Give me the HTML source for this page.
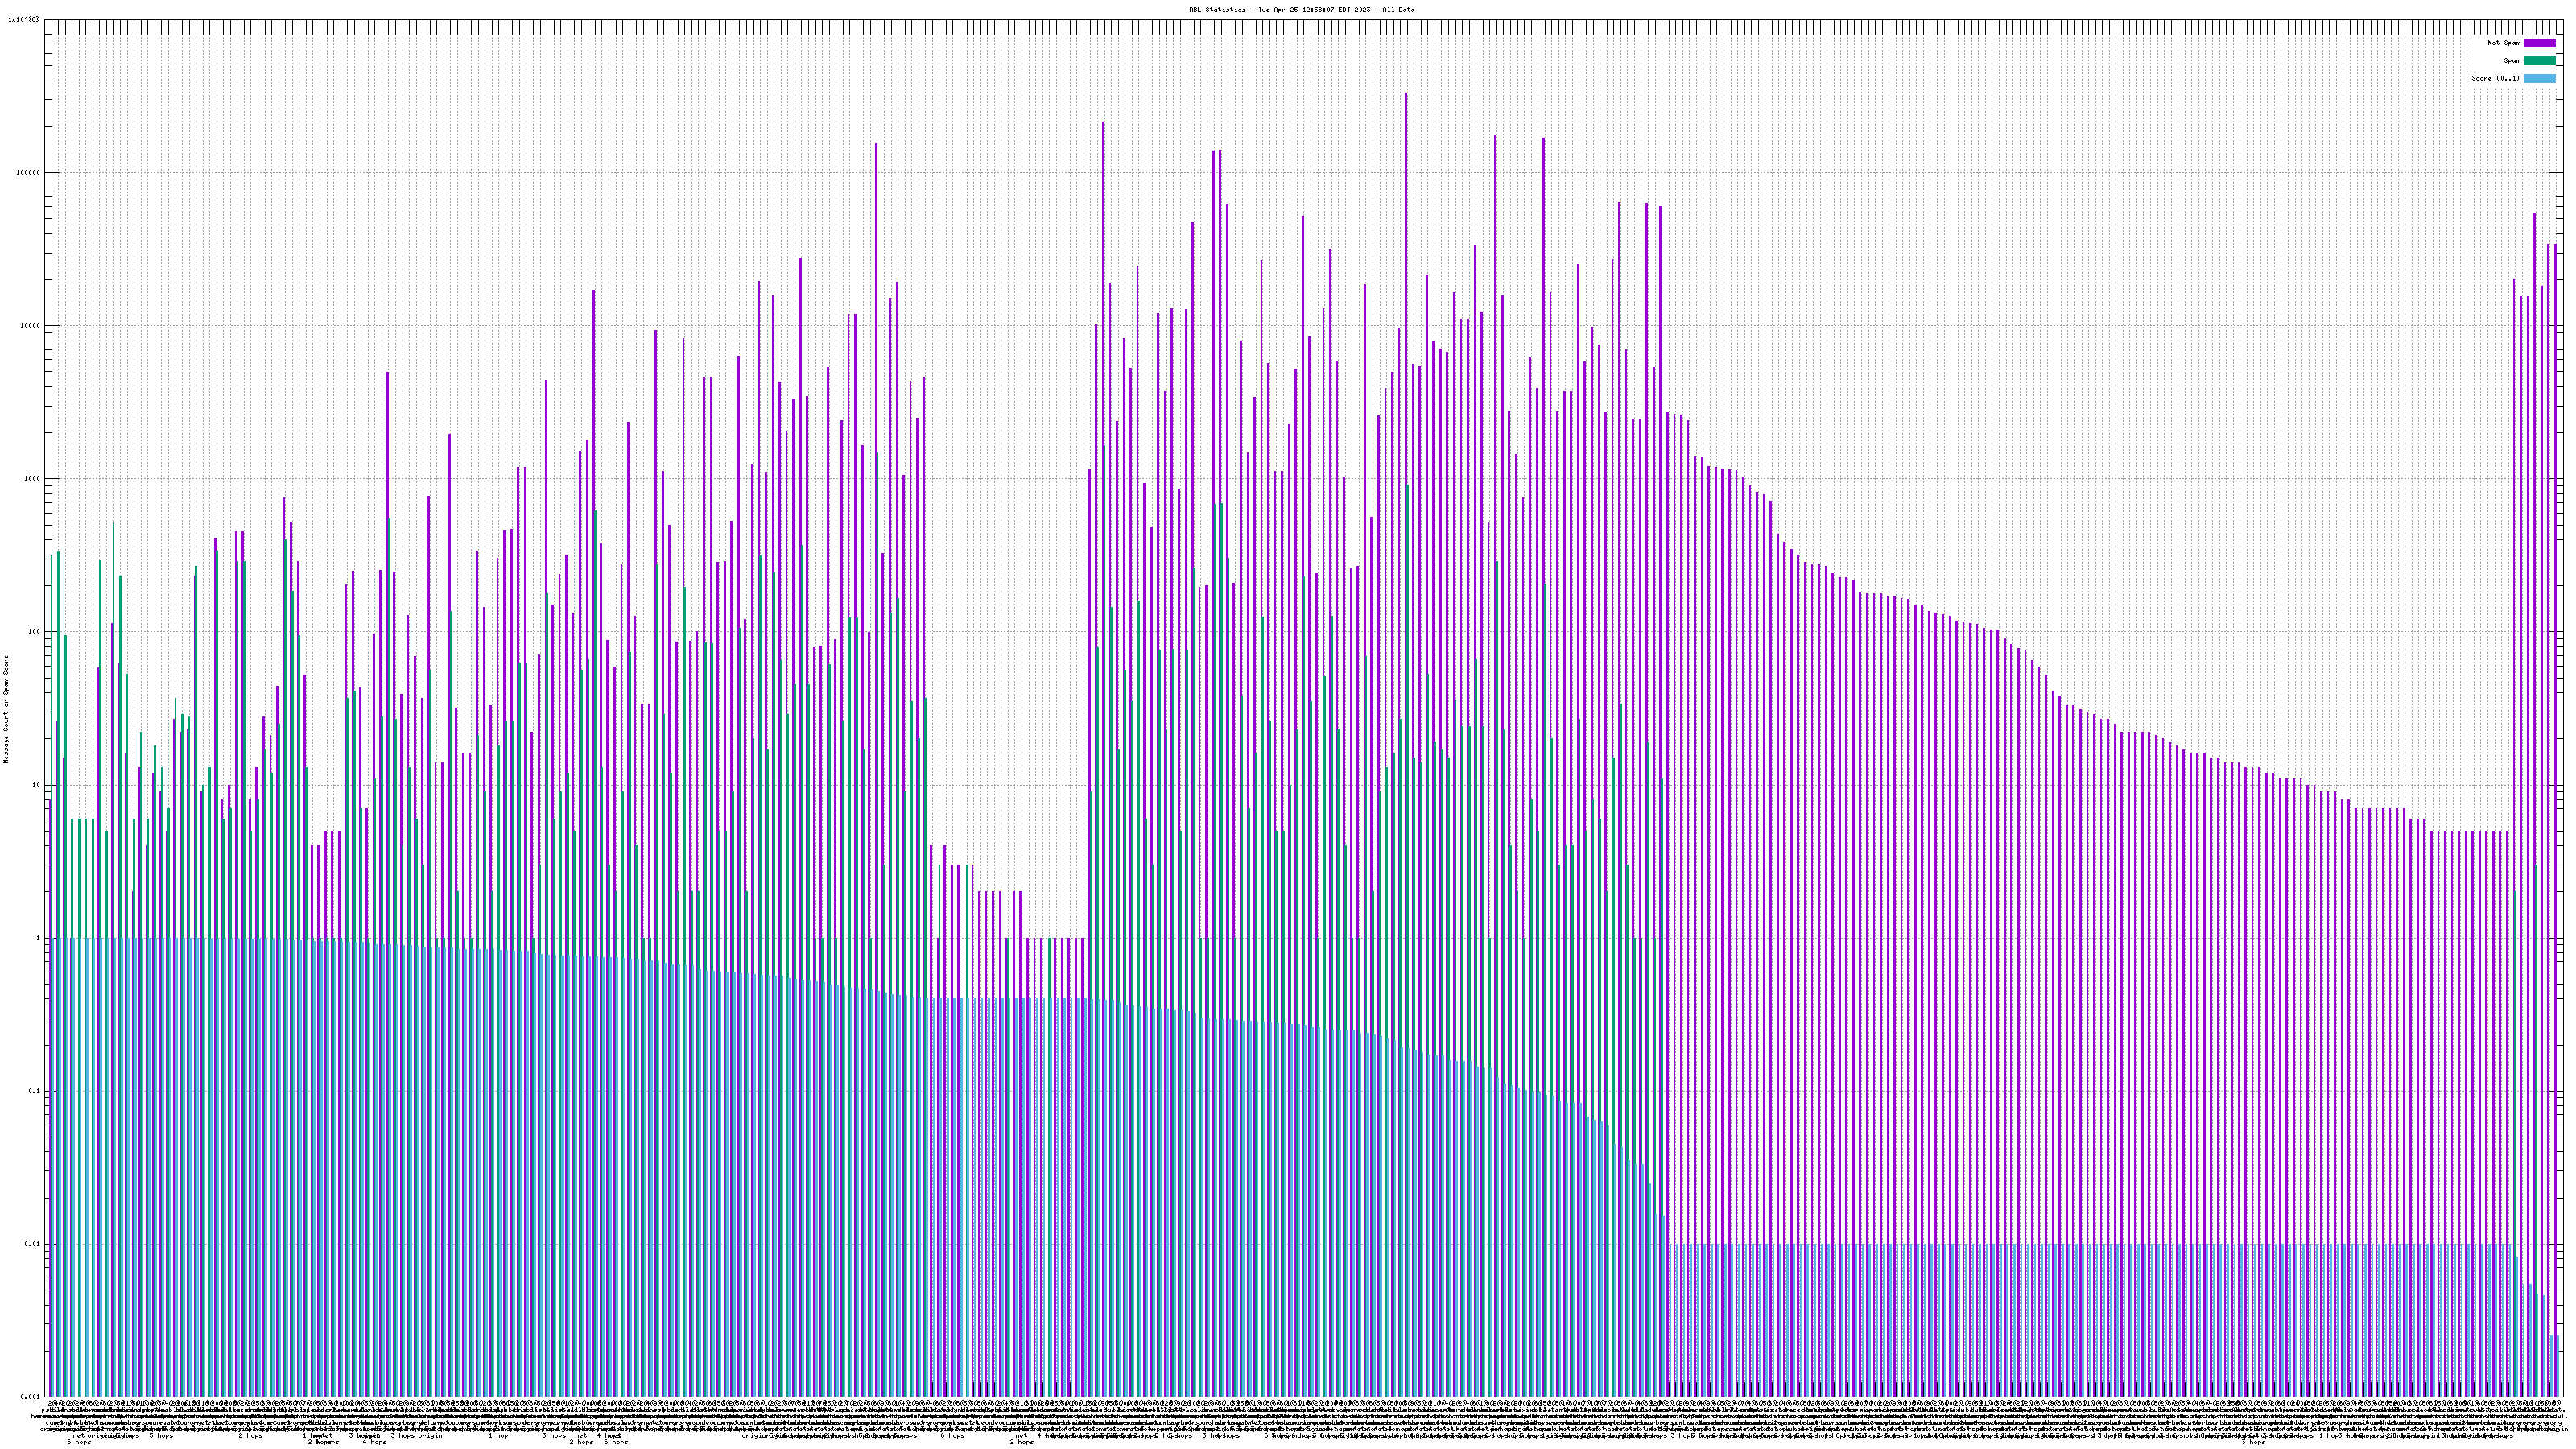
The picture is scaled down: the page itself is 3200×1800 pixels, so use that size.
<!DOCTYPE html><html><head><meta charset="utf-8"><title>RBL Statistics</title><style>html,body{margin:0;padding:0;background:#fff}svg{display:block}text{font-family:"Liberation Mono",monospace;fill:#000}</style></head><body>
<svg xmlns="http://www.w3.org/2000/svg" width="3200" height="1800" viewBox="0 0 3200 1800">
<rect x="0" y="0" width="3200" height="1800" fill="#fff"/>
<path d="M64.5 1736V43M72.5 1736V43M81.5 1736V43M89.5 1736V43M98.5 1736V43M106.5 1736V43M115.5 1736V43M123.5 1736V43M132.5 1736V43M140.5 1736V43M149.5 1736V43M158.5 1736V43M166.5 1736V43M175.5 1736V43M183.5 1736V43M192.5 1736V43M200.5 1736V43M209.5 1736V43M217.5 1736V43M226.5 1736V43M235.5 1736V43M243.5 1736V43M252.5 1736V43M260.5 1736V43M269.5 1736V43M277.5 1736V43M286.5 1736V43M294.5 1736V43M303.5 1736V43M311.5 1736V43M320.5 1736V43M329.5 1736V43M337.5 1736V43M346.5 1736V43M354.5 1736V43M363.5 1736V43M371.5 1736V43M380.5 1736V43M388.5 1736V43M397.5 1736V43M406.5 1736V43M414.5 1736V43M423.5 1736V43M431.5 1736V43M440.5 1736V43M448.5 1736V43M457.5 1736V43M465.5 1736V43M474.5 1736V43M482.5 1736V43M491.5 1736V43M500.5 1736V43M508.5 1736V43M517.5 1736V43M525.5 1736V43M534.5 1736V43M542.5 1736V43M551.5 1736V43M559.5 1736V43M568.5 1736V43M576.5 1736V43M585.5 1736V43M594.5 1736V43M602.5 1736V43M611.5 1736V43M619.5 1736V43M628.5 1736V43M636.5 1736V43M645.5 1736V43M653.5 1736V43M662.5 1736V43M671.5 1736V43M679.5 1736V43M688.5 1736V43M696.5 1736V43M705.5 1736V43M713.5 1736V43M722.5 1736V43M730.5 1736V43M739.5 1736V43M747.5 1736V43M756.5 1736V43M765.5 1736V43M773.5 1736V43M782.5 1736V43M790.5 1736V43M799.5 1736V43M807.5 1736V43M816.5 1736V43M824.5 1736V43M833.5 1736V43M842.5 1736V43M850.5 1736V43M859.5 1736V43M867.5 1736V43M876.5 1736V43M884.5 1736V43M893.5 1736V43M901.5 1736V43M910.5 1736V43M918.5 1736V43M927.5 1736V43M936.5 1736V43M944.5 1736V43M953.5 1736V43M961.5 1736V43M970.5 1736V43M978.5 1736V43M987.5 1736V43M995.5 1736V43M1004.5 1736V43M1013.5 1736V43M1021.5 1736V43M1030.5 1736V43M1038.5 1736V43M1047.5 1736V43M1055.5 1736V43M1064.5 1736V43M1072.5 1736V43M1081.5 1736V43M1089.5 1736V43M1098.5 1736V43M1107.5 1736V43M1115.5 1736V43M1124.5 1736V43M1132.5 1736V43M1141.5 1736V43M1149.5 1736V43M1158.5 1736V43M1166.5 1736V43M1175.5 1736V43M1183.5 1736V43M1192.5 1736V43M1201.5 1736V43M1209.5 1736V43M1218.5 1736V43M1226.5 1736V43M1235.5 1736V43M1243.5 1736V43M1252.5 1736V43M1260.5 1736V43M1269.5 1736V43M1278.5 1736V43M1286.5 1736V43M1295.5 1736V43M1303.5 1736V43M1312.5 1736V43M1320.5 1736V43M1329.5 1736V43M1337.5 1736V43M1346.5 1736V43M1354.5 1736V43M1363.5 1736V43M1372.5 1736V43M1380.5 1736V43M1389.5 1736V43M1397.5 1736V43M1406.5 1736V43M1414.5 1736V43M1423.5 1736V43M1431.5 1736V43M1440.5 1736V43M1449.5 1736V43M1457.5 1736V43M1466.5 1736V43M1474.5 1736V43M1483.5 1736V43M1491.5 1736V43M1500.5 1736V43M1508.5 1736V43M1517.5 1736V43M1525.5 1736V43M1534.5 1736V43M1543.5 1736V43M1551.5 1736V43M1560.5 1736V43M1568.5 1736V43M1577.5 1736V43M1585.5 1736V43M1594.5 1736V43M1602.5 1736V43M1611.5 1736V43M1619.5 1736V43M1628.5 1736V43M1637.5 1736V43M1645.5 1736V43M1654.5 1736V43M1662.5 1736V43M1671.5 1736V43M1679.5 1736V43M1688.5 1736V43M1696.5 1736V43M1705.5 1736V43M1714.5 1736V43M1722.5 1736V43M1731.5 1736V43M1739.5 1736V43M1748.5 1736V43M1756.5 1736V43M1765.5 1736V43M1773.5 1736V43M1782.5 1736V43M1790.5 1736V43M1799.5 1736V43M1808.5 1736V43M1816.5 1736V43M1825.5 1736V43M1833.5 1736V43M1842.5 1736V43M1850.5 1736V43M1859.5 1736V43M1867.5 1736V43M1876.5 1736V43M1885.5 1736V43M1893.5 1736V43M1902.5 1736V43M1910.5 1736V43M1919.5 1736V43M1927.5 1736V43M1936.5 1736V43M1944.5 1736V43M1953.5 1736V43M1961.5 1736V43M1970.5 1736V43M1979.5 1736V43M1987.5 1736V43M1996.5 1736V43M2004.5 1736V43M2013.5 1736V43M2021.5 1736V43M2030.5 1736V43M2038.5 1736V43M2047.5 1736V43M2056.5 1736V43M2064.5 1736V43M2073.5 1736V43M2081.5 1736V43M2090.5 1736V43M2098.5 1736V43M2107.5 1736V43M2115.5 1736V43M2124.5 1736V43M2132.5 1736V43M2141.5 1736V43M2150.5 1736V43M2158.5 1736V43M2167.5 1736V43M2175.5 1736V43M2184.5 1736V43M2192.5 1736V43M2201.5 1736V43M2209.5 1736V43M2218.5 1736V43M2226.5 1736V43M2235.5 1736V43M2244.5 1736V43M2252.5 1736V43M2261.5 1736V43M2269.5 1736V43M2278.5 1736V43M2286.5 1736V43M2295.5 1736V43M2303.5 1736V43M2312.5 1736V43M2321.5 1736V43M2329.5 1736V43M2338.5 1736V43M2346.5 1736V43M2355.5 1736V43M2363.5 1736V43M2372.5 1736V43M2380.5 1736V43M2389.5 1736V43M2397.5 1736V43M2406.5 1736V43M2415.5 1736V43M2423.5 1736V43M2432.5 1736V43M2440.5 1736V43M2449.5 1736V43M2457.5 1736V43M2466.5 1736V43M2474.5 1736V43M2483.5 1736V43M2492.5 1736V43M2500.5 1736V43M2509.5 1736V43M2517.5 1736V43M2526.5 1736V43M2534.5 1736V43M2543.5 1736V43M2551.5 1736V43M2560.5 1736V43M2568.5 1736V43M2577.5 1736V43M2586.5 1736V43M2594.5 1736V43M2603.5 1736V43M2611.5 1736V43M2620.5 1736V43M2628.5 1736V43M2637.5 1736V43M2645.5 1736V43M2654.5 1736V43M2662.5 1736V43M2671.5 1736V43M2680.5 1736V43M2688.5 1736V43M2697.5 1736V43M2705.5 1736V43M2714.5 1736V43M2722.5 1736V43M2731.5 1736V43M2739.5 1736V43M2748.5 1736V43M2757.5 1736V43M2765.5 1736V43M2774.5 1736V43M2782.5 1736V43M2791.5 1736V43M2799.5 1736V43M2808.5 1736V43M2816.5 1736V43M2825.5 1736V43M2833.5 1736V43M2842.5 1736V43M2851.5 1736V43M2859.5 1736V43M2868.5 1736V43M2876.5 1736V43M2885.5 1736V43M2893.5 1736V43M2902.5 1736V43M2910.5 1736V43M2919.5 1736V43M2928.5 1736V43M2936.5 1736V43M2945.5 1736V43M2953.5 1736V43M2962.5 1736V43M2970.5 1736V43M2979.5 1736V43M2987.5 1736V43M2996.5 1736V43M3004.5 1736V43M3013.5 1736V43M3022.5 1736V43M3030.5 1736V43M3039.5 1736V43M3047.5 1736V43M3056.5 1736V43M3064.5 1736V43M3073.5 1736V109M3081.5 1736V109M3090.5 1736V109M3099.5 1736V109M3107.5 1736V109M3116.5 1736V109M3124.5 1736V109M3133.5 1736V109M3141.5 1736V109M3150.5 1736V109M3158.5 1736V109M3167.5 1736V109M3175.5 1736V109" stroke="#a0a0a0" stroke-width="1" stroke-dasharray="2 2" fill="none" shape-rendering="crispEdges"/>
<path d="M55 1545.5H3184M55 1355.5H3184M55 1165.5H3184M55 975.5H3184M55 784.5H3184M55 594.5H3184M55 404.5H3184M55 214.5H3184" stroke="#a0a0a0" stroke-width="1" stroke-dasharray="2 2" fill="none" shape-rendering="crispEdges"/>
<rect x="3068" y="43" width="116" height="66" fill="#fff"/>
<path d="M64.5 24V43M64.5 1736V1717M72.5 24V43M72.5 1736V1717M81.5 24V43M81.5 1736V1717M89.5 24V43M89.5 1736V1717M98.5 24V43M98.5 1736V1717M106.5 24V43M106.5 1736V1717M115.5 24V43M115.5 1736V1717M123.5 24V43M123.5 1736V1717M132.5 24V43M132.5 1736V1717M140.5 24V43M140.5 1736V1717M149.5 24V43M149.5 1736V1717M158.5 24V43M158.5 1736V1717M166.5 24V43M166.5 1736V1717M175.5 24V43M175.5 1736V1717M183.5 24V43M183.5 1736V1717M192.5 24V43M192.5 1736V1717M200.5 24V43M200.5 1736V1717M209.5 24V43M209.5 1736V1717M217.5 24V43M217.5 1736V1717M226.5 24V43M226.5 1736V1717M235.5 24V43M235.5 1736V1717M243.5 24V43M243.5 1736V1717M252.5 24V43M252.5 1736V1717M260.5 24V43M260.5 1736V1717M269.5 24V43M269.5 1736V1717M277.5 24V43M277.5 1736V1717M286.5 24V43M286.5 1736V1717M294.5 24V43M294.5 1736V1717M303.5 24V43M303.5 1736V1717M311.5 24V43M311.5 1736V1717M320.5 24V43M320.5 1736V1717M329.5 24V43M329.5 1736V1717M337.5 24V43M337.5 1736V1717M346.5 24V43M346.5 1736V1717M354.5 24V43M354.5 1736V1717M363.5 24V43M363.5 1736V1717M371.5 24V43M371.5 1736V1717M380.5 24V43M380.5 1736V1717M388.5 24V43M388.5 1736V1717M397.5 24V43M397.5 1736V1717M406.5 24V43M406.5 1736V1717M414.5 24V43M414.5 1736V1717M423.5 24V43M423.5 1736V1717M431.5 24V43M431.5 1736V1717M440.5 24V43M440.5 1736V1717M448.5 24V43M448.5 1736V1717M457.5 24V43M457.5 1736V1717M465.5 24V43M465.5 1736V1717M474.5 24V43M474.5 1736V1717M482.5 24V43M482.5 1736V1717M491.5 24V43M491.5 1736V1717M500.5 24V43M500.5 1736V1717M508.5 24V43M508.5 1736V1717M517.5 24V43M517.5 1736V1717M525.5 24V43M525.5 1736V1717M534.5 24V43M534.5 1736V1717M542.5 24V43M542.5 1736V1717M551.5 24V43M551.5 1736V1717M559.5 24V43M559.5 1736V1717M568.5 24V43M568.5 1736V1717M576.5 24V43M576.5 1736V1717M585.5 24V43M585.5 1736V1717M594.5 24V43M594.5 1736V1717M602.5 24V43M602.5 1736V1717M611.5 24V43M611.5 1736V1717M619.5 24V43M619.5 1736V1717M628.5 24V43M628.5 1736V1717M636.5 24V43M636.5 1736V1717M645.5 24V43M645.5 1736V1717M653.5 24V43M653.5 1736V1717M662.5 24V43M662.5 1736V1717M671.5 24V43M671.5 1736V1717M679.5 24V43M679.5 1736V1717M688.5 24V43M688.5 1736V1717M696.5 24V43M696.5 1736V1717M705.5 24V43M705.5 1736V1717M713.5 24V43M713.5 1736V1717M722.5 24V43M722.5 1736V1717M730.5 24V43M730.5 1736V1717M739.5 24V43M739.5 1736V1717M747.5 24V43M747.5 1736V1717M756.5 24V43M756.5 1736V1717M765.5 24V43M765.5 1736V1717M773.5 24V43M773.5 1736V1717M782.5 24V43M782.5 1736V1717M790.5 24V43M790.5 1736V1717M799.5 24V43M799.5 1736V1717M807.5 24V43M807.5 1736V1717M816.5 24V43M816.5 1736V1717M824.5 24V43M824.5 1736V1717M833.5 24V43M833.5 1736V1717M842.5 24V43M842.5 1736V1717M850.5 24V43M850.5 1736V1717M859.5 24V43M859.5 1736V1717M867.5 24V43M867.5 1736V1717M876.5 24V43M876.5 1736V1717M884.5 24V43M884.5 1736V1717M893.5 24V43M893.5 1736V1717M901.5 24V43M901.5 1736V1717M910.5 24V43M910.5 1736V1717M918.5 24V43M918.5 1736V1717M927.5 24V43M927.5 1736V1717M936.5 24V43M936.5 1736V1717M944.5 24V43M944.5 1736V1717M953.5 24V43M953.5 1736V1717M961.5 24V43M961.5 1736V1717M970.5 24V43M970.5 1736V1717M978.5 24V43M978.5 1736V1717M987.5 24V43M987.5 1736V1717M995.5 24V43M995.5 1736V1717M1004.5 24V43M1004.5 1736V1717M1013.5 24V43M1013.5 1736V1717M1021.5 24V43M1021.5 1736V1717M1030.5 24V43M1030.5 1736V1717M1038.5 24V43M1038.5 1736V1717M1047.5 24V43M1047.5 1736V1717M1055.5 24V43M1055.5 1736V1717M1064.5 24V43M1064.5 1736V1717M1072.5 24V43M1072.5 1736V1717M1081.5 24V43M1081.5 1736V1717M1089.5 24V43M1089.5 1736V1717M1098.5 24V43M1098.5 1736V1717M1107.5 24V43M1107.5 1736V1717M1115.5 24V43M1115.5 1736V1717M1124.5 24V43M1124.5 1736V1717M1132.5 24V43M1132.5 1736V1717M1141.5 24V43M1141.5 1736V1717M1149.5 24V43M1149.5 1736V1717M1158.5 24V43M1158.5 1736V1717M1166.5 24V43M1166.5 1736V1717M1175.5 24V43M1175.5 1736V1717M1183.5 24V43M1183.5 1736V1717M1192.5 24V43M1192.5 1736V1717M1201.5 24V43M1201.5 1736V1717M1209.5 24V43M1209.5 1736V1717M1218.5 24V43M1218.5 1736V1717M1226.5 24V43M1226.5 1736V1717M1235.5 24V43M1235.5 1736V1717M1243.5 24V43M1243.5 1736V1717M1252.5 24V43M1252.5 1736V1717M1260.5 24V43M1260.5 1736V1717M1269.5 24V43M1269.5 1736V1717M1278.5 24V43M1278.5 1736V1717M1286.5 24V43M1286.5 1736V1717M1295.5 24V43M1295.5 1736V1717M1303.5 24V43M1303.5 1736V1717M1312.5 24V43M1312.5 1736V1717M1320.5 24V43M1320.5 1736V1717M1329.5 24V43M1329.5 1736V1717M1337.5 24V43M1337.5 1736V1717M1346.5 24V43M1346.5 1736V1717M1354.5 24V43M1354.5 1736V1717M1363.5 24V43M1363.5 1736V1717M1372.5 24V43M1372.5 1736V1717M1380.5 24V43M1380.5 1736V1717M1389.5 24V43M1389.5 1736V1717M1397.5 24V43M1397.5 1736V1717M1406.5 24V43M1406.5 1736V1717M1414.5 24V43M1414.5 1736V1717M1423.5 24V43M1423.5 1736V1717M1431.5 24V43M1431.5 1736V1717M1440.5 24V43M1440.5 1736V1717M1449.5 24V43M1449.5 1736V1717M1457.5 24V43M1457.5 1736V1717M1466.5 24V43M1466.5 1736V1717M1474.5 24V43M1474.5 1736V1717M1483.5 24V43M1483.5 1736V1717M1491.5 24V43M1491.5 1736V1717M1500.5 24V43M1500.5 1736V1717M1508.5 24V43M1508.5 1736V1717M1517.5 24V43M1517.5 1736V1717M1525.5 24V43M1525.5 1736V1717M1534.5 24V43M1534.5 1736V1717M1543.5 24V43M1543.5 1736V1717M1551.5 24V43M1551.5 1736V1717M1560.5 24V43M1560.5 1736V1717M1568.5 24V43M1568.5 1736V1717M1577.5 24V43M1577.5 1736V1717M1585.5 24V43M1585.5 1736V1717M1594.5 24V43M1594.5 1736V1717M1602.5 24V43M1602.5 1736V1717M1611.5 24V43M1611.5 1736V1717M1619.5 24V43M1619.5 1736V1717M1628.5 24V43M1628.5 1736V1717M1637.5 24V43M1637.5 1736V1717M1645.5 24V43M1645.5 1736V1717M1654.5 24V43M1654.5 1736V1717M1662.5 24V43M1662.5 1736V1717M1671.5 24V43M1671.5 1736V1717M1679.5 24V43M1679.5 1736V1717M1688.5 24V43M1688.5 1736V1717M1696.5 24V43M1696.5 1736V1717M1705.5 24V43M1705.5 1736V1717M1714.5 24V43M1714.5 1736V1717M1722.5 24V43M1722.5 1736V1717M1731.5 24V43M1731.5 1736V1717M1739.5 24V43M1739.5 1736V1717M1748.5 24V43M1748.5 1736V1717M1756.5 24V43M1756.5 1736V1717M1765.5 24V43M1765.5 1736V1717M1773.5 24V43M1773.5 1736V1717M1782.5 24V43M1782.5 1736V1717M1790.5 24V43M1790.5 1736V1717M1799.5 24V43M1799.5 1736V1717M1808.5 24V43M1808.5 1736V1717M1816.5 24V43M1816.5 1736V1717M1825.5 24V43M1825.5 1736V1717M1833.5 24V43M1833.5 1736V1717M1842.5 24V43M1842.5 1736V1717M1850.5 24V43M1850.5 1736V1717M1859.5 24V43M1859.5 1736V1717M1867.5 24V43M1867.5 1736V1717M1876.5 24V43M1876.5 1736V1717M1885.5 24V43M1885.5 1736V1717M1893.5 24V43M1893.5 1736V1717M1902.5 24V43M1902.5 1736V1717M1910.5 24V43M1910.5 1736V1717M1919.5 24V43M1919.5 1736V1717M1927.5 24V43M1927.5 1736V1717M1936.5 24V43M1936.5 1736V1717M1944.5 24V43M1944.5 1736V1717M1953.5 24V43M1953.5 1736V1717M1961.5 24V43M1961.5 1736V1717M1970.5 24V43M1970.5 1736V1717M1979.5 24V43M1979.5 1736V1717M1987.5 24V43M1987.5 1736V1717M1996.5 24V43M1996.5 1736V1717M2004.5 24V43M2004.5 1736V1717M2013.5 24V43M2013.5 1736V1717M2021.5 24V43M2021.5 1736V1717M2030.5 24V43M2030.5 1736V1717M2038.5 24V43M2038.5 1736V1717M2047.5 24V43M2047.5 1736V1717M2056.5 24V43M2056.5 1736V1717M2064.5 24V43M2064.5 1736V1717M2073.5 24V43M2073.5 1736V1717M2081.5 24V43M2081.5 1736V1717M2090.5 24V43M2090.5 1736V1717M2098.5 24V43M2098.5 1736V1717M2107.5 24V43M2107.5 1736V1717M2115.5 24V43M2115.5 1736V1717M2124.5 24V43M2124.5 1736V1717M2132.5 24V43M2132.5 1736V1717M2141.5 24V43M2141.5 1736V1717M2150.5 24V43M2150.5 1736V1717M2158.5 24V43M2158.5 1736V1717M2167.5 24V43M2167.5 1736V1717M2175.5 24V43M2175.5 1736V1717M2184.5 24V43M2184.5 1736V1717M2192.5 24V43M2192.5 1736V1717M2201.5 24V43M2201.5 1736V1717M2209.5 24V43M2209.5 1736V1717M2218.5 24V43M2218.5 1736V1717M2226.5 24V43M2226.5 1736V1717M2235.5 24V43M2235.5 1736V1717M2244.5 24V43M2244.5 1736V1717M2252.5 24V43M2252.5 1736V1717M2261.5 24V43M2261.5 1736V1717M2269.5 24V43M2269.5 1736V1717M2278.5 24V43M2278.5 1736V1717M2286.5 24V43M2286.5 1736V1717M2295.5 24V43M2295.5 1736V1717M2303.5 24V43M2303.5 1736V1717M2312.5 24V43M2312.5 1736V1717M2321.5 24V43M2321.5 1736V1717M2329.5 24V43M2329.5 1736V1717M2338.5 24V43M2338.5 1736V1717M2346.5 24V43M2346.5 1736V1717M2355.5 24V43M2355.5 1736V1717M2363.5 24V43M2363.5 1736V1717M2372.5 24V43M2372.5 1736V1717M2380.5 24V43M2380.5 1736V1717M2389.5 24V43M2389.5 1736V1717M2397.5 24V43M2397.5 1736V1717M2406.5 24V43M2406.5 1736V1717M2415.5 24V43M2415.5 1736V1717M2423.5 24V43M2423.5 1736V1717M2432.5 24V43M2432.5 1736V1717M2440.5 24V43M2440.5 1736V1717M2449.5 24V43M2449.5 1736V1717M2457.5 24V43M2457.5 1736V1717M2466.5 24V43M2466.5 1736V1717M2474.5 24V43M2474.5 1736V1717M2483.5 24V43M2483.5 1736V1717M2492.5 24V43M2492.5 1736V1717M2500.5 24V43M2500.5 1736V1717M2509.5 24V43M2509.5 1736V1717M2517.5 24V43M2517.5 1736V1717M2526.5 24V43M2526.5 1736V1717M2534.5 24V43M2534.5 1736V1717M2543.5 24V43M2543.5 1736V1717M2551.5 24V43M2551.5 1736V1717M2560.5 24V43M2560.5 1736V1717M2568.5 24V43M2568.5 1736V1717M2577.5 24V43M2577.5 1736V1717M2586.5 24V43M2586.5 1736V1717M2594.5 24V43M2594.5 1736V1717M2603.5 24V43M2603.5 1736V1717M2611.5 24V43M2611.5 1736V1717M2620.5 24V43M2620.5 1736V1717M2628.5 24V43M2628.5 1736V1717M2637.5 24V43M2637.5 1736V1717M2645.5 24V43M2645.5 1736V1717M2654.5 24V43M2654.5 1736V1717M2662.5 24V43M2662.5 1736V1717M2671.5 24V43M2671.5 1736V1717M2680.5 24V43M2680.5 1736V1717M2688.5 24V43M2688.5 1736V1717M2697.5 24V43M2697.5 1736V1717M2705.5 24V43M2705.5 1736V1717M2714.5 24V43M2714.5 1736V1717M2722.5 24V43M2722.5 1736V1717M2731.5 24V43M2731.5 1736V1717M2739.5 24V43M2739.5 1736V1717M2748.5 24V43M2748.5 1736V1717M2757.5 24V43M2757.5 1736V1717M2765.5 24V43M2765.5 1736V1717M2774.5 24V43M2774.5 1736V1717M2782.5 24V43M2782.5 1736V1717M2791.5 24V43M2791.5 1736V1717M2799.5 24V43M2799.5 1736V1717M2808.5 24V43M2808.5 1736V1717M2816.5 24V43M2816.5 1736V1717M2825.5 24V43M2825.5 1736V1717M2833.5 24V43M2833.5 1736V1717M2842.5 24V43M2842.5 1736V1717M2851.5 24V43M2851.5 1736V1717M2859.5 24V43M2859.5 1736V1717M2868.5 24V43M2868.5 1736V1717M2876.5 24V43M2876.5 1736V1717M2885.5 24V43M2885.5 1736V1717M2893.5 24V43M2893.5 1736V1717M2902.5 24V43M2902.5 1736V1717M2910.5 24V43M2910.5 1736V1717M2919.5 24V43M2919.5 1736V1717M2928.5 24V43M2928.5 1736V1717M2936.5 24V43M2936.5 1736V1717M2945.5 24V43M2945.5 1736V1717M2953.5 24V43M2953.5 1736V1717M2962.5 24V43M2962.5 1736V1717M2970.5 24V43M2970.5 1736V1717M2979.5 24V43M2979.5 1736V1717M2987.5 24V43M2987.5 1736V1717M2996.5 24V43M2996.5 1736V1717M3004.5 24V43M3004.5 1736V1717M3013.5 24V43M3013.5 1736V1717M3022.5 24V43M3022.5 1736V1717M3030.5 24V43M3030.5 1736V1717M3039.5 24V43M3039.5 1736V1717M3047.5 24V43M3047.5 1736V1717M3056.5 24V43M3056.5 1736V1717M3064.5 24V43M3064.5 1736V1717M3073.5 24V43M3073.5 1736V1717M3081.5 24V43M3081.5 1736V1717M3090.5 24V43M3090.5 1736V1717M3099.5 24V43M3099.5 1736V1717M3107.5 24V43M3107.5 1736V1717M3116.5 24V43M3116.5 1736V1717M3124.5 24V43M3124.5 1736V1717M3133.5 24V43M3133.5 1736V1717M3141.5 24V43M3141.5 1736V1717M3150.5 24V43M3150.5 1736V1717M3158.5 24V43M3158.5 1736V1717M3167.5 24V43M3167.5 1736V1717M3175.5 24V43M3175.5 1736V1717M55 1678.5H65M3185 1678.5H3175M55 1644.5H65M3185 1644.5H3175M55 1621.5H65M3185 1621.5H3175M55 1602.5H65M3185 1602.5H3175M55 1587.5H65M3185 1587.5H3175M55 1574.5H65M3185 1574.5H3175M55 1563.5H65M3185 1563.5H3175M55 1554.5H65M3185 1554.5H3175M55 1545.5H74M3185 1545.5H3166M55 1488.5H65M3185 1488.5H3175M55 1454.5H65M3185 1454.5H3175M55 1430.5H65M3185 1430.5H3175M55 1412.5H65M3185 1412.5H3175M55 1397.5H65M3185 1397.5H3175M55 1384.5H65M3185 1384.5H3175M55 1373.5H65M3185 1373.5H3175M55 1363.5H65M3185 1363.5H3175M55 1355.5H74M3185 1355.5H3166M55 1298.5H65M3185 1298.5H3175M55 1264.5H65M3185 1264.5H3175M55 1240.5H65M3185 1240.5H3175M55 1222.5H65M3185 1222.5H3175M55 1207.5H65M3185 1207.5H3175M55 1194.5H65M3185 1194.5H3175M55 1183.5H65M3185 1183.5H3175M55 1173.5H65M3185 1173.5H3175M55 1165.5H74M3185 1165.5H3166M55 1107.5H65M3185 1107.5H3175M55 1074.5H65M3185 1074.5H3175M55 1050.5H65M3185 1050.5H3175M55 1032.5H65M3185 1032.5H3175M55 1017.5H65M3185 1017.5H3175M55 1004.5H65M3185 1004.5H3175M55 993.5H65M3185 993.5H3175M55 983.5H65M3185 983.5H3175M55 975.5H74M3185 975.5H3166M55 917.5H65M3185 917.5H3175M55 884.5H65M3185 884.5H3175M55 860.5H65M3185 860.5H3175M55 842.5H65M3185 842.5H3175M55 827.5H65M3185 827.5H3175M55 814.5H65M3185 814.5H3175M55 803.5H65M3185 803.5H3175M55 793.5H65M3185 793.5H3175M55 784.5H74M3185 784.5H3166M55 727.5H65M3185 727.5H3175M55 694.5H65M3185 694.5H3175M55 670.5H65M3185 670.5H3175M55 652.5H65M3185 652.5H3175M55 637.5H65M3185 637.5H3175M55 624.5H65M3185 624.5H3175M55 613.5H65M3185 613.5H3175M55 603.5H65M3185 603.5H3175M55 594.5H74M3185 594.5H3166M55 537.5H65M3185 537.5H3175M55 504.5H65M3185 504.5H3175M55 480.5H65M3185 480.5H3175M55 461.5H65M3185 461.5H3175M55 446.5H65M3185 446.5H3175M55 434.5H65M3185 434.5H3175M55 423.5H65M3185 423.5H3175M55 413.5H65M3185 413.5H3175M55 404.5H74M3185 404.5H3166M55 347.5H65M3185 347.5H3175M55 314.5H65M3185 314.5H3175M55 290.5H65M3185 290.5H3175M55 271.5H65M3185 271.5H3175M55 256.5H65M3185 256.5H3175M55 244.5H65M3185 244.5H3175M55 233.5H65M3185 233.5H3175M55 223.5H65M3185 223.5H3175M55 214.5H74M3185 214.5H3166M55 157.5H65M3185 157.5H3175M55 123.5H65M3185 123.5H3175M55 100.5H65M3185 100.5H3175M55 81.5H65M3185 81.5H3175M55 66.5H65M3185 66.5H3175M55 53.5H65M3185 53.5H3175M55 42.5H65M3185 42.5H3175M55 33.5H65M3185 33.5H3175" stroke="#000" stroke-width="1" fill="none" shape-rendering="crispEdges"/>
<path d="M61 993H64V1735H61ZM70 896H72V1735H70ZM78 941H81V1735H78ZM87 1165H89V1735H87ZM121 829H124V1735H121ZM138 774H141V1735H138ZM146 824H149V1735H146ZM155 936H158V1735H155ZM164 1107H166V1735H164ZM172 953H175V1735H172ZM181 1050H183V1735H181ZM189 960H192V1735H189ZM198 983H201V1735H198ZM206 1032H209V1735H206ZM215 893H218V1735H215ZM223 909H226V1735H223ZM232 906H235V1735H232ZM241 715H243V1735H241ZM249 983H252V1735H249ZM258 1165H260V1735H258ZM266 668H269V1735H266ZM275 993H277V1735H275ZM283 975H286V1735H283ZM292 660H295V1735H292ZM300 660H303V1735H300ZM309 993H312V1735H309ZM317 953H320V1735H317ZM326 890H329V1735H326ZM335 913H337V1735H335ZM343 852H346V1735H343ZM352 618H354V1735H352ZM360 648H363V1735H360ZM369 697H371V1735H369ZM377 838H380V1735H377ZM386 1050H389V1735H386ZM394 1050H397V1735H394ZM403 1032H406V1735H403ZM411 1032H414V1735H411ZM420 1032H423V1735H420ZM429 726H431V1735H429ZM437 709H440V1735H437ZM446 854H448V1735H446ZM454 1004H457V1735H454ZM463 787H466V1735H463ZM471 708H474V1735H471ZM480 462H483V1735H480ZM488 710H491V1735H488ZM497 862H500V1735H497ZM506 764H508V1735H506ZM514 815H517V1735H514ZM523 867H525V1735H523ZM531 616H534V1735H531ZM540 947H542V1735H540ZM548 947H551V1735H548ZM557 539H560V1735H557ZM565 879H568V1735H565ZM574 936H577V1735H574ZM582 936H585V1735H582ZM591 684H594V1735H591ZM600 754H602V1735H600ZM608 876H611V1735H608ZM617 693H619V1735H617ZM625 659H628V1735H625ZM634 657H637V1735H634ZM642 580H645V1735H642ZM651 580H654V1735H651ZM659 909H662V1735H659ZM668 813H671V1735H668ZM677 472H679V1735H677ZM685 751H688V1735H685ZM694 713H696V1735H694ZM702 689H705V1735H702ZM711 761H713V1735H711ZM719 560H722V1735H719ZM728 546H731V1735H728ZM736 360H739V1735H736ZM745 675H748V1735H745ZM753 795H756V1735H753ZM762 828H765V1735H762ZM771 701H773V1735H771ZM779 524H782V1735H779ZM788 765H790V1735H788ZM796 874H799V1735H796ZM805 874H807V1735H805ZM813 410H816V1735H813ZM822 585H825V1735H822ZM830 652H833V1735H830ZM839 797H842V1735H839ZM848 420H850V1735H848ZM856 796H859V1735H856ZM865 784H867V1735H865ZM873 468H876V1735H873ZM882 468H884V1735H882ZM890 698H893V1735H890ZM899 697H902V1735H899ZM907 647H910V1735H907ZM916 442H919V1735H916ZM924 769H927V1735H924ZM933 577H936V1735H933ZM942 349H944V1735H942ZM950 586H953V1735H950ZM959 367H961V1735H959ZM967 474H970V1735H967ZM976 536H978V1735H976ZM984 496H987V1735H984ZM993 320H996V1735H993ZM1001 492H1004V1735H1001ZM1010 804H1013V1735H1010ZM1018 802H1021V1735H1018ZM1027 456H1030V1735H1027ZM1036 794H1038V1735H1036ZM1044 522H1047V1735H1044ZM1053 390H1055V1735H1053ZM1061 390H1064V1735H1061ZM1070 553H1073V1735H1070ZM1078 785H1081V1735H1078ZM1087 178H1090V1735H1087ZM1095 687H1098V1735H1095ZM1104 370H1107V1735H1104ZM1113 350H1115V1735H1113ZM1121 590H1124V1735H1121ZM1130 473H1132V1735H1130ZM1138 519H1141V1735H1138ZM1147 468H1149V1735H1147ZM1155 1050H1158V1735H1155ZM1164 1165H1167V1735H1164ZM1172 1050H1175V1735H1172ZM1181 1074H1184V1735H1181ZM1189 1074H1192V1735H1189ZM1207 1074H1209V1735H1207ZM1215 1107H1218V1735H1215ZM1224 1107H1226V1735H1224ZM1232 1107H1235V1735H1232ZM1241 1107H1244V1735H1241ZM1249 1165H1252V1735H1249ZM1258 1107H1261V1735H1258ZM1266 1107H1269V1735H1266ZM1275 1165H1278V1735H1275ZM1284 1165H1286V1735H1284ZM1292 1165H1295V1735H1292ZM1309 1165H1312V1735H1309ZM1318 1165H1320V1735H1318ZM1326 1165H1329V1735H1326ZM1335 1165H1338V1735H1335ZM1343 1165H1346V1735H1343ZM1352 583H1355V1735H1352ZM1360 403H1363V1735H1360ZM1369 151H1372V1735H1369ZM1378 352H1380V1735H1378ZM1386 523H1389V1735H1386ZM1395 420H1397V1735H1395ZM1403 457H1406V1735H1403ZM1412 330H1414V1735H1412ZM1420 600H1423V1735H1420ZM1429 655H1432V1735H1429ZM1437 389H1440V1735H1437ZM1446 486H1449V1735H1446ZM1454 383H1457V1735H1454ZM1463 608H1466V1735H1463ZM1472 384H1474V1735H1472ZM1480 276H1483V1735H1480ZM1489 729H1491V1735H1489ZM1497 727H1500V1735H1497ZM1506 187H1509V1735H1506ZM1514 186H1517V1735H1514ZM1523 253H1526V1735H1523ZM1531 724H1534V1735H1531ZM1540 423H1543V1735H1540ZM1549 562H1551V1735H1549ZM1557 493H1560V1735H1557ZM1566 323H1568V1735H1566ZM1574 451H1577V1735H1574ZM1583 585H1585V1735H1583ZM1591 585H1594V1735H1591ZM1600 527H1603V1735H1600ZM1608 458H1611V1735H1608ZM1617 268H1620V1735H1617ZM1625 418H1628V1735H1625ZM1634 712H1637V1735H1634ZM1643 383H1645V1735H1643ZM1651 309H1654V1735H1651ZM1660 448H1662V1735H1660ZM1668 592H1671V1735H1668ZM1677 706H1680V1735H1677ZM1685 703H1688V1735H1685ZM1694 353H1697V1735H1694ZM1702 642H1705V1735H1702ZM1711 516H1714V1735H1711ZM1720 482H1722V1735H1720ZM1728 462H1731V1735H1728ZM1737 408H1739V1735H1737ZM1745 115H1748V1735H1745ZM1754 452H1756V1735H1754ZM1762 455H1765V1735H1762ZM1771 341H1774V1735H1771ZM1779 424H1782V1735H1779ZM1788 433H1791V1735H1788ZM1796 437H1799V1735H1796ZM1805 363H1808V1735H1805ZM1814 396H1816V1735H1814ZM1822 396H1825V1735H1822ZM1831 304H1833V1735H1831ZM1839 387H1842V1735H1839ZM1848 649H1850V1735H1848ZM1856 168H1859V1735H1856ZM1865 367H1868V1735H1865ZM1873 510H1876V1735H1873ZM1882 564H1885V1735H1882ZM1891 618H1893V1735H1891ZM1899 444H1902V1735H1899ZM1908 482H1910V1735H1908ZM1916 171H1919V1735H1916ZM1925 363H1927V1735H1925ZM1933 511H1936V1735H1933ZM1942 486H1945V1735H1942ZM1950 486H1953V1735H1950ZM1959 328H1962V1735H1959ZM1967 449H1970V1735H1967ZM1976 406H1979V1735H1976ZM1985 428H1987V1735H1985ZM1993 512H1996V1735H1993ZM2002 322H2004V1735H2002ZM2010 251H2013V1735H2010ZM2019 434H2021V1735H2019ZM2027 520H2030V1735H2027ZM2036 520H2039V1735H2036ZM2044 252H2047V1735H2044ZM2053 456H2056V1735H2053ZM2061 256H2064V1735H2061ZM2070 512H2073V1735H2070ZM2079 514H2081V1735H2079ZM2087 515H2090V1735H2087ZM2096 522H2098V1735H2096ZM2104 567H2107V1735H2104ZM2113 568H2116V1735H2113ZM2121 579H2124V1735H2121ZM2130 580H2133V1735H2130ZM2138 582H2141V1735H2138ZM2147 583H2150V1735H2147ZM2156 584H2158V1735H2156ZM2164 592H2167V1735H2164ZM2173 603H2175V1735H2173ZM2181 611H2184V1735H2181ZM2190 614H2192V1735H2190ZM2198 622H2201V1735H2198ZM2207 663H2210V1735H2207ZM2215 673H2218V1735H2215ZM2224 682H2227V1735H2224ZM2232 689H2235V1735H2232ZM2241 698H2244V1735H2241ZM2250 701H2252V1735H2250ZM2258 701H2261V1735H2258ZM2267 703H2269V1735H2267ZM2275 712H2278V1735H2275ZM2284 717H2287V1735H2284ZM2292 717H2295V1735H2292ZM2301 720H2304V1735H2301ZM2309 736H2312V1735H2309ZM2318 737H2321V1735H2318ZM2327 737H2329V1735H2327ZM2335 737H2338V1735H2335ZM2344 740H2346V1735H2344ZM2352 740H2355V1735H2352ZM2361 743H2363V1735H2361ZM2369 744H2372V1735H2369ZM2378 752H2381V1735H2378ZM2386 752H2389V1735H2386ZM2395 759H2398V1735H2395ZM2403 761H2406V1735H2403ZM2412 763H2415V1735H2412ZM2421 765H2423V1735H2421ZM2429 771H2432V1735H2429ZM2438 773H2440V1735H2438ZM2446 774H2449V1735H2446ZM2455 775H2457V1735H2455ZM2463 780H2466V1735H2463ZM2472 782H2475V1735H2472ZM2480 782H2483V1735H2480ZM2489 793H2492V1735H2489ZM2497 800H2500V1735H2497ZM2506 805H2509V1735H2506ZM2515 808H2517V1735H2515ZM2523 820H2526V1735H2523ZM2532 828H2534V1735H2532ZM2540 838H2543V1735H2540ZM2549 858H2552V1735H2549ZM2557 864H2560V1735H2557ZM2566 876H2569V1735H2566ZM2574 876H2577V1735H2574ZM2583 881H2586V1735H2583ZM2592 884H2594V1735H2592ZM2600 887H2603V1735H2600ZM2609 893H2611V1735H2609ZM2617 893H2620V1735H2617ZM2626 899H2628V1735H2626ZM2634 909H2637V1735H2634ZM2643 909H2646V1735H2643ZM2651 909H2654V1735H2651ZM2660 909H2663V1735H2660ZM2668 909H2671V1735H2668ZM2677 913H2680V1735H2677ZM2686 917H2688V1735H2686ZM2694 922H2697V1735H2694ZM2703 926H2705V1735H2703ZM2711 931H2714V1735H2711ZM2720 936H2723V1735H2720ZM2728 936H2731V1735H2728ZM2737 936H2740V1735H2737ZM2745 941H2748V1735H2745ZM2754 941H2757V1735H2754ZM2763 947H2765V1735H2763ZM2771 947H2774V1735H2771ZM2780 947H2782V1735H2780ZM2788 953H2791V1735H2788ZM2797 953H2799V1735H2797ZM2805 953H2808V1735H2805ZM2814 960H2817V1735H2814ZM2822 960H2825V1735H2822ZM2831 967H2834V1735H2831ZM2839 967H2842V1735H2839ZM2848 967H2851V1735H2848ZM2857 967H2859V1735H2857ZM2865 975H2868V1735H2865ZM2874 975H2876V1735H2874ZM2882 983H2885V1735H2882ZM2891 983H2893V1735H2891ZM2899 983H2902V1735H2899ZM2908 993H2911V1735H2908ZM2916 993H2919V1735H2916ZM2925 1004H2928V1735H2925ZM2934 1004H2936V1735H2934ZM2942 1004H2945V1735H2942ZM2951 1004H2953V1735H2951ZM2959 1004H2962V1735H2959ZM2968 1004H2970V1735H2968ZM2976 1004H2979V1735H2976ZM2985 1004H2988V1735H2985ZM2993 1017H2996V1735H2993ZM3002 1017H3005V1735H3002ZM3010 1017H3013V1735H3010ZM3019 1032H3022V1735H3019ZM3028 1032H3030V1735H3028ZM3036 1032H3039V1735H3036ZM3045 1032H3047V1735H3045ZM3053 1032H3056V1735H3053ZM3062 1032H3064V1735H3062ZM3070 1032H3073V1735H3070ZM3079 1032H3082V1735H3079ZM3087 1032H3090V1735H3087ZM3096 1032H3099V1735H3096ZM3104 1032H3107V1735H3104ZM3113 1032H3116V1735H3113ZM3122 346H3124V1735H3122ZM3130 368H3133V1735H3130ZM3139 368H3141V1735H3139ZM3147 264H3150V1735H3147ZM3156 355H3159V1735H3156ZM3164 303H3167V1735H3164ZM3173 303H3176V1735H3173Z" fill="#9400d3" shape-rendering="crispEdges"/>
<path d="M63 689H65V1735H63ZM71 685H74V1735H71ZM80 789H83V1735H80ZM88 1017H91V1735H88ZM97 1017H100V1735H97ZM105 1017H108V1735H105ZM114 1017H117V1735H114ZM123 696H125V1735H123ZM131 1032H134V1735H131ZM140 649H142V1735H140ZM148 715H151V1735H148ZM157 837H159V1735H157ZM165 1017H168V1735H165ZM174 909H177V1735H174ZM182 1017H185V1735H182ZM191 926H194V1735H191ZM200 953H202V1735H200ZM208 1004H211V1735H208ZM217 867H219V1735H217ZM225 887H228V1735H225ZM234 890H236V1735H234ZM242 703H245V1735H242ZM251 975H254V1735H251ZM259 953H262V1735H259ZM268 684H271V1735H268ZM276 1017H279V1735H276ZM285 1004H288V1735H285ZM294 697H296V1735H294ZM302 697H305V1735H302ZM311 1032H313V1735H311ZM319 993H322V1735H319ZM328 931H330V1735H328ZM336 960H339V1735H336ZM345 899H348V1735H345ZM353 670H356V1735H353ZM362 734H365V1735H362ZM370 789H373V1735H370ZM379 953H382V1735H379ZM388 1165H390V1735H388ZM396 1165H399V1735H396ZM405 1165H407V1735H405ZM413 1165H416V1735H413ZM422 1165H425V1735H422ZM430 867H433V1735H430ZM439 858H442V1735H439ZM447 1004H450V1735H447ZM456 1165H459V1735H456ZM465 967H467V1735H465ZM473 890H476V1735H473ZM482 644H484V1735H482ZM490 893H493V1735H490ZM499 1050H501V1735H499ZM507 953H510V1735H507ZM516 1017H519V1735H516ZM524 1074H527V1735H524ZM533 832H536V1735H533ZM541 1165H544V1735H541ZM550 1165H553V1735H550ZM559 759H561V1735H559ZM567 1107H570V1735H567ZM576 1165H578V1735H576ZM584 1165H587V1735H584ZM593 913H595V1735H593ZM601 983H604V1735H601ZM610 1107H613V1735H610ZM618 926H621V1735H618ZM627 896H630V1735H627ZM636 896H638V1735H636ZM644 824H647V1735H644ZM653 824H655V1735H653ZM661 1165H664V1735H661ZM670 1074H672V1735H670ZM678 737H681V1735H678ZM687 1017H690V1735H687ZM695 983H698V1735H695ZM704 960H707V1735H704ZM712 1032H715V1735H712ZM721 832H724V1735H721ZM730 819H732V1735H730ZM738 634H741V1735H738ZM747 953H749V1735H747ZM755 1074H758V1735H755ZM764 1107H766V1735H764ZM772 983H775V1735H772ZM781 810H784V1735H781ZM789 1050H792V1735H789ZM798 1165H801V1735H798ZM806 1165H809V1735H806ZM815 701H818V1735H815ZM824 887H826V1735H824ZM832 960H835V1735H832ZM841 1107H843V1735H841ZM849 729H852V1735H849ZM858 1107H861V1735H858ZM866 1107H869V1735H866ZM875 798H878V1735H875ZM883 799H886V1735H883ZM892 1032H895V1735H892ZM901 1032H903V1735H901ZM909 983H912V1735H909ZM918 780H920V1735H918ZM926 1107H929V1735H926ZM935 917H937V1735H935ZM943 690H946V1735H943ZM952 931H955V1735H952ZM960 711H963V1735H960ZM969 820H972V1735H969ZM977 887H980V1735H977ZM986 850H989V1735H986ZM995 677H997V1735H995ZM1003 850H1006V1735H1003ZM1012 1165H1014V1735H1012ZM1020 1165H1023V1735H1020ZM1029 825H1032V1735H1029ZM1037 1165H1040V1735H1037ZM1046 896H1049V1735H1046ZM1054 767H1057V1735H1054ZM1063 767H1066V1735H1063ZM1072 931H1074V1735H1072ZM1080 1165H1083V1735H1080ZM1089 562H1091V1735H1089ZM1097 1074H1100V1735H1097ZM1106 761H1108V1735H1106ZM1114 743H1117V1735H1114ZM1123 983H1126V1735H1123ZM1131 871H1134V1735H1131ZM1140 917H1143V1735H1140ZM1148 867H1151V1735H1148ZM1166 1074H1168V1735H1166ZM1200 1074H1202V1735H1200ZM1251 1165H1254V1735H1251ZM1302 1165H1305V1735H1302ZM1354 983H1356V1735H1354ZM1362 804H1365V1735H1362ZM1371 553H1373V1735H1371ZM1379 754H1382V1735H1379ZM1388 931H1391V1735H1388ZM1396 832H1399V1735H1396ZM1405 871H1408V1735H1405ZM1413 746H1416V1735H1413ZM1422 1017H1425V1735H1422ZM1431 1074H1433V1735H1431ZM1439 808H1442V1735H1439ZM1448 906H1450V1735H1448ZM1456 806H1459V1735H1456ZM1465 1032H1468V1735H1465ZM1473 808H1476V1735H1473ZM1482 705H1485V1735H1482ZM1490 1165H1493V1735H1490ZM1499 1165H1502V1735H1499ZM1508 626H1510V1735H1508ZM1516 625H1519V1735H1516ZM1525 693H1527V1735H1525ZM1533 1165H1536V1735H1533ZM1542 864H1544V1735H1542ZM1550 1004H1553V1735H1550ZM1559 936H1562V1735H1559ZM1567 766H1570V1735H1567ZM1576 896H1579V1735H1576ZM1584 1032H1587V1735H1584ZM1593 1032H1596V1735H1593ZM1602 975H1604V1735H1602ZM1610 906H1613V1735H1610ZM1619 716H1621V1735H1619ZM1627 871H1630V1735H1627ZM1636 1165H1638V1735H1636ZM1644 840H1647V1735H1644ZM1653 765H1656V1735H1653ZM1661 906H1664V1735H1661ZM1670 1050H1673V1735H1670ZM1679 1165H1681V1735H1679ZM1687 1165H1690V1735H1687ZM1696 815H1698V1735H1696ZM1704 1107H1707V1735H1704ZM1713 983H1715V1735H1713ZM1721 953H1724V1735H1721ZM1730 936H1733V1735H1730ZM1738 893H1741V1735H1738ZM1747 602H1750V1735H1747ZM1755 941H1758V1735H1755ZM1764 947H1767V1735H1764ZM1773 837H1775V1735H1773ZM1781 922H1784V1735H1781ZM1790 931H1792V1735H1790ZM1798 941H1801V1735H1798ZM1807 869H1809V1735H1807ZM1815 902H1818V1735H1815ZM1824 902H1827V1735H1824ZM1832 819H1835V1735H1832ZM1841 902H1844V1735H1841ZM1849 1165H1852V1735H1849ZM1858 697H1861V1735H1858ZM1867 906H1869V1735H1867ZM1875 1050H1878V1735H1875ZM1884 1107H1886V1735H1884ZM1892 1165H1895V1735H1892ZM1901 993H1904V1735H1901ZM1909 1032H1912V1735H1909ZM1918 725H1921V1735H1918ZM1926 917H1929V1735H1926ZM1935 1074H1938V1735H1935ZM1944 1050H1946V1735H1944ZM1952 1050H1955V1735H1952ZM1961 893H1963V1735H1961ZM1969 1032H1972V1735H1969ZM1978 993H1980V1735H1978ZM1986 1017H1989V1735H1986ZM1995 1107H1998V1735H1995ZM2003 941H2006V1735H2003ZM2012 874H2015V1735H2012ZM2020 1074H2023V1735H2020ZM2029 1165H2032V1735H2029ZM2038 1165H2040V1735H2038ZM2046 922H2049V1735H2046ZM2055 1165H2057V1735H2055ZM2063 967H2066V1735H2063ZM3123 1107H3126V1735H3123ZM3149 1074H3152V1735H3149Z" fill="#009e73" shape-rendering="crispEdges"/>
<path d="M64 1165H67V1735H64ZM73 1165H76V1735H73ZM82 1165H84V1735H82ZM90 1165H93V1735H90ZM99 1165H101V1735H99ZM107 1165H110V1735H107ZM116 1165H118V1735H116ZM124 1165H127V1735H124ZM133 1165H136V1735H133ZM141 1165H144V1735H141ZM150 1165H153V1735H150ZM158 1165H161V1735H158ZM167 1165H170V1735H167ZM176 1165H178V1735H176ZM184 1165H187V1735H184ZM193 1165H195V1735H193ZM201 1165H204V1735H201ZM210 1165H212V1735H210ZM218 1165H221V1735H218ZM227 1165H230V1735H227ZM235 1165H238V1735H235ZM244 1165H247V1735H244ZM253 1165H255V1735H253ZM261 1166H264V1735H261ZM270 1166H272V1735H270ZM278 1166H281V1735H278ZM287 1166H289V1735H287ZM295 1166H298V1735H295ZM304 1166H307V1735H304ZM312 1166H315V1735H312ZM321 1166H324V1735H321ZM329 1166H332V1735H329ZM338 1167H341V1735H338ZM347 1167H349V1735H347ZM355 1167H358V1735H355ZM364 1168H366V1735H364ZM372 1168H375V1735H372ZM381 1168H383V1735H381ZM389 1169H392V1735H389ZM398 1169H401V1735H398ZM406 1169H409V1735H406ZM415 1169H418V1735H415ZM424 1169H426V1735H424ZM432 1170H435V1735H432ZM441 1170H443V1735H441ZM449 1170H452V1735H449ZM458 1171H460V1735H458ZM466 1173H469V1735H466ZM475 1173H478V1735H475ZM483 1173H486V1735H483ZM492 1173H495V1735H492ZM500 1174H503V1735H500ZM509 1174H512V1735H509ZM518 1175H520V1735H518ZM526 1176H529V1735H526ZM535 1177H537V1735H535ZM543 1177H546V1735H543ZM552 1177H554V1735H552ZM560 1177H563V1735H560ZM569 1179H572V1735H569ZM577 1179H580V1735H577ZM586 1179H589V1735H586ZM594 1179H597V1735H594ZM603 1179H606V1735H603ZM612 1179H614V1735H612ZM620 1180H623V1735H620ZM629 1180H631V1735H629ZM637 1181H640V1735H637ZM646 1181H648V1735H646ZM654 1181H657V1735H654ZM663 1184H666V1735H663ZM671 1185H674V1735H671ZM680 1186H683V1735H680ZM689 1186H691V1735H689ZM697 1187H700V1735H697ZM706 1187H708V1735H706ZM714 1187H717V1735H714ZM723 1188H725V1735H723ZM731 1188H734V1735H731ZM740 1188H743V1735H740ZM748 1189H751V1735H748ZM757 1189H760V1735H757ZM765 1189H768V1735H765ZM774 1190H777V1735H774ZM783 1191H785V1735H783ZM791 1191H794V1735H791ZM800 1193H802V1735H800ZM808 1193H811V1735H808ZM817 1193H819V1735H817ZM825 1196H828V1735H825ZM834 1198H837V1735H834ZM842 1198H845V1735H842ZM851 1199H854V1735H851ZM860 1199H862V1735H860ZM868 1204H871V1735H868ZM877 1206H879V1735H877ZM885 1206H888V1735H885ZM894 1207H896V1735H894ZM902 1208H905V1735H902ZM911 1208H914V1735H911ZM919 1209H922V1735H919ZM928 1209H931V1735H928ZM936 1210H939V1735H936ZM945 1211H948V1735H945ZM954 1212H956V1735H954ZM962 1212H965V1735H962ZM971 1212H973V1735H971ZM979 1215H982V1735H979ZM988 1216H990V1735H988ZM996 1217H999V1735H996ZM1005 1218H1008V1735H1005ZM1013 1219H1016V1735H1013ZM1022 1220H1025V1735H1022ZM1031 1223H1033V1735H1031ZM1039 1224H1042V1735H1039ZM1048 1225H1050V1735H1048ZM1056 1227H1059V1735H1056ZM1065 1227H1067V1735H1065ZM1073 1228H1076V1735H1073ZM1082 1229H1085V1735H1082ZM1090 1231H1093V1735H1090ZM1099 1233H1102V1735H1099ZM1107 1235H1110V1735H1107ZM1116 1236H1119V1735H1116ZM1125 1236H1127V1735H1125ZM1133 1239H1136V1735H1133ZM1142 1239H1144V1735H1142ZM1150 1240H1153V1735H1150ZM1159 1240H1161V1735H1159ZM1167 1240H1170V1735H1167ZM1176 1240H1179V1735H1176ZM1184 1240H1187V1735H1184ZM1193 1240H1196V1735H1193ZM1201 1240H1204V1735H1201ZM1210 1240H1213V1735H1210ZM1219 1240H1221V1735H1219ZM1227 1240H1230V1735H1227ZM1236 1240H1238V1735H1236ZM1244 1240H1247V1735H1244ZM1253 1240H1255V1735H1253ZM1261 1240H1264V1735H1261ZM1270 1240H1273V1735H1270ZM1278 1240H1281V1735H1278ZM1287 1240H1290V1735H1287ZM1296 1240H1298V1735H1296ZM1304 1240H1307V1735H1304ZM1313 1240H1315V1735H1313ZM1321 1240H1324V1735H1321ZM1330 1240H1332V1735H1330ZM1338 1240H1341V1735H1338ZM1347 1240H1350V1735H1347ZM1355 1241H1358V1735H1355ZM1364 1241H1367V1735H1364ZM1372 1242H1375V1735H1372ZM1381 1242H1384V1735H1381ZM1390 1245H1392V1735H1390ZM1398 1248H1401V1735H1398ZM1407 1249H1409V1735H1407ZM1415 1250H1418V1735H1415ZM1424 1251H1426V1735H1424ZM1432 1253H1435V1735H1432ZM1441 1253H1444V1735H1441ZM1449 1253H1452V1735H1449ZM1458 1255H1461V1735H1458ZM1467 1255H1469V1735H1467ZM1475 1256H1478V1735H1475ZM1484 1259H1486V1735H1484ZM1492 1264H1495V1735H1492ZM1501 1265H1503V1735H1501ZM1509 1266H1512V1735H1509ZM1518 1266H1521V1735H1518ZM1526 1266H1529V1735H1526ZM1535 1267H1538V1735H1535ZM1543 1268H1546V1735H1543ZM1552 1268H1555V1735H1552ZM1561 1269H1563V1735H1561ZM1569 1269H1572V1735H1569ZM1578 1270H1580V1735H1578ZM1586 1271H1589V1735H1586ZM1595 1271H1597V1735H1595ZM1603 1272H1606V1735H1603ZM1612 1272H1615V1735H1612ZM1620 1273H1623V1735H1620ZM1629 1276H1632V1735H1629ZM1637 1276H1640V1735H1637ZM1646 1279H1649V1735H1646ZM1655 1279H1657V1735H1655ZM1663 1280H1666V1735H1663ZM1672 1280H1674V1735H1672ZM1680 1280H1683V1735H1680ZM1689 1283H1691V1735H1689ZM1697 1283H1700V1735H1697ZM1706 1285H1709V1735H1706ZM1714 1287H1717V1735H1714ZM1723 1290H1726V1735H1723ZM1732 1292H1734V1735H1732ZM1740 1301H1743V1735H1740ZM1749 1302H1751V1735H1749ZM1757 1304H1760V1735H1757ZM1766 1307H1768V1735H1766ZM1774 1310H1777V1735H1774ZM1783 1311H1786V1735H1783ZM1791 1311H1794V1735H1791ZM1800 1317H1803V1735H1800ZM1808 1318H1811V1735H1808ZM1817 1318H1820V1735H1817ZM1826 1318H1828V1735H1826ZM1834 1325H1837V1735H1834ZM1843 1327H1845V1735H1843ZM1851 1327H1854V1735H1851ZM1860 1338H1862V1735H1860ZM1868 1346H1871V1735H1868ZM1877 1348H1880V1735H1877ZM1885 1351H1888V1735H1885ZM1894 1354H1897V1735H1894ZM1903 1356H1905V1735H1903ZM1911 1357H1914V1735H1911ZM1920 1360H1922V1735H1920ZM1928 1361H1931V1735H1928ZM1937 1368H1939V1735H1937ZM1945 1370H1948V1735H1945ZM1954 1370H1957V1735H1954ZM1962 1370H1965V1735H1962ZM1971 1387H1974V1735H1971ZM1979 1391H1982V1735H1979ZM1988 1393H1991V1735H1988ZM1997 1398H1999V1735H1997ZM2005 1421H2008V1735H2005ZM2014 1425H2016V1735H2014ZM2022 1441H2025V1735H2022ZM2031 1446H2033V1735H2031ZM2039 1446H2042V1735H2039ZM2048 1470H2051V1735H2048ZM2056 1508H2059V1735H2056ZM2065 1510H2068V1735H2065ZM2074 1545H2076V1735H2074ZM2082 1545H2085V1735H2082ZM2091 1545H2093V1735H2091ZM2099 1545H2102V1735H2099ZM2108 1545H2110V1735H2108ZM2116 1545H2119V1735H2116ZM2125 1545H2128V1735H2125ZM2133 1545H2136V1735H2133ZM2142 1545H2145V1735H2142ZM2150 1545H2153V1735H2150ZM2159 1545H2162V1735H2159ZM2168 1545H2170V1735H2168ZM2176 1545H2179V1735H2176ZM2185 1545H2187V1735H2185ZM2193 1545H2196V1735H2193ZM2202 1545H2204V1735H2202ZM2210 1545H2213V1735H2210ZM2219 1545H2222V1735H2219ZM2227 1545H2230V1735H2227ZM2236 1545H2239V1735H2236ZM2244 1545H2247V1735H2244ZM2253 1545H2256V1735H2253ZM2262 1545H2264V1735H2262ZM2270 1545H2273V1735H2270ZM2279 1545H2281V1735H2279ZM2287 1545H2290V1735H2287ZM2296 1545H2298V1735H2296ZM2304 1545H2307V1735H2304ZM2313 1545H2316V1735H2313ZM2321 1545H2324V1735H2321ZM2330 1545H2333V1735H2330ZM2339 1545H2341V1735H2339ZM2347 1545H2350V1735H2347ZM2356 1545H2358V1735H2356ZM2364 1545H2367V1735H2364ZM2373 1545H2375V1735H2373ZM2381 1545H2384V1735H2381ZM2390 1545H2393V1735H2390ZM2398 1545H2401V1735H2398ZM2407 1545H2410V1735H2407ZM2415 1545H2418V1735H2415ZM2424 1545H2427V1735H2424ZM2433 1545H2435V1735H2433ZM2441 1545H2444V1735H2441ZM2450 1545H2452V1735H2450ZM2458 1545H2461V1735H2458ZM2467 1545H2469V1735H2467ZM2475 1545H2478V1735H2475ZM2484 1545H2487V1735H2484ZM2492 1545H2495V1735H2492ZM2501 1545H2504V1735H2501ZM2510 1545H2512V1735H2510ZM2518 1545H2521V1735H2518ZM2527 1545H2529V1735H2527ZM2535 1545H2538V1735H2535ZM2544 1545H2546V1735H2544ZM2552 1545H2555V1735H2552ZM2561 1545H2564V1735H2561ZM2569 1545H2572V1735H2569ZM2578 1545H2581V1735H2578ZM2586 1545H2589V1735H2586ZM2595 1545H2598V1735H2595ZM2604 1545H2606V1735H2604ZM2612 1545H2615V1735H2612ZM2621 1545H2623V1735H2621ZM2629 1545H2632V1735H2629ZM2638 1545H2640V1735H2638ZM2646 1545H2649V1735H2646ZM2655 1545H2658V1735H2655ZM2663 1545H2666V1735H2663ZM2672 1545H2675V1735H2672ZM2680 1545H2683V1735H2680ZM2689 1545H2692V1735H2689ZM2698 1545H2700V1735H2698ZM2706 1545H2709V1735H2706ZM2715 1545H2717V1735H2715ZM2723 1545H2726V1735H2723ZM2732 1545H2734V1735H2732ZM2740 1545H2743V1735H2740ZM2749 1545H2752V1735H2749ZM2757 1545H2760V1735H2757ZM2766 1545H2769V1735H2766ZM2775 1545H2777V1735H2775ZM2783 1545H2786V1735H2783ZM2792 1545H2794V1735H2792ZM2800 1545H2803V1735H2800ZM2809 1545H2811V1735H2809ZM2817 1545H2820V1735H2817ZM2826 1545H2829V1735H2826ZM2834 1545H2837V1735H2834ZM2843 1545H2846V1735H2843ZM2851 1545H2854V1735H2851ZM2860 1545H2863V1735H2860ZM2869 1545H2871V1735H2869ZM2877 1545H2880V1735H2877ZM2886 1545H2888V1735H2886ZM2894 1545H2897V1735H2894ZM2903 1545H2905V1735H2903ZM2911 1545H2914V1735H2911ZM2920 1545H2923V1735H2920ZM2928 1545H2931V1735H2928ZM2937 1545H2940V1735H2937ZM2946 1545H2948V1735H2946ZM2954 1545H2957V1735H2954ZM2963 1545H2965V1735H2963ZM2971 1545H2974V1735H2971ZM2980 1545H2982V1735H2980ZM2988 1545H2991V1735H2988ZM2997 1545H3000V1735H2997ZM3005 1545H3008V1735H3005ZM3014 1545H3017V1735H3014ZM3022 1545H3025V1735H3022ZM3031 1545H3034V1735H3031ZM3040 1545H3042V1735H3040ZM3048 1545H3051V1735H3048ZM3057 1545H3059V1735H3057ZM3065 1545H3068V1735H3065ZM3074 1545H3076V1735H3074ZM3082 1545H3085V1735H3082ZM3091 1545H3094V1735H3091ZM3099 1545H3102V1735H3099ZM3108 1545H3111V1735H3108ZM3117 1545H3119V1735H3117ZM3125 1561H3128V1735H3125ZM3134 1595H3136V1735H3134ZM3142 1595H3145V1735H3142ZM3151 1608H3153V1735H3151ZM3159 1609H3162V1735H3159ZM3168 1659H3171V1735H3168ZM3176 1659H3179V1735H3176Z" fill="#56b4e9" shape-rendering="crispEdges"/>
<path d="M55.5 24.5H3184.5V1735.5H55.5Z" stroke="#000" stroke-width="1" fill="none" shape-rendering="crispEdges"/>
<rect x="3136" y="48" width="39" height="11" fill="#9400d3" shape-rendering="crispEdges"/>
<rect x="3136" y="70" width="39" height="11" fill="#009e73" shape-rendering="crispEdges"/>
<rect x="3136" y="92" width="39" height="11" fill="#56b4e9" shape-rendering="crispEdges"/>
<defs><path id="w0" d="M0 1h3v1h-3zM5 1h3v1h-3zM10 1h1v1h-1zM21 1h2v1h-2zM26 1h1v1h-1zM36 1h1v1h-1zM42 1h1v1h-1zM51 1h1v1h-1zM57 1h1v1h-1zM86 1h3v1h-3zM106 1h2v1h-2zM126 1h2v1h-2zM130 1h4v1h-4zM142 1h1v1h-1zM146 1h2v1h-2zM155 1h4v1h-4zM161 1h2v1h-2zM172 1h1v1h-1zM175 1h4v1h-4zM185 1h4v1h-4zM190 1h3v1h-3zM196 1h3v1h-3zM206 1h2v1h-2zM212 1h1v1h-1zM216 1h2v1h-2zM220 1h4v1h-4zM241 1h2v1h-2zM246 1h2v1h-2zM251 1h2v1h-2zM260 1h3v1h-3zM271 1h1v1h-1zM0 2h1v1h-1zM3 2h1v1h-1zM5 2h1v1h-1zM8 2h1v1h-1zM10 2h1v1h-1zM20 2h1v1h-1zM23 2h1v1h-1zM25 2h3v1h-3zM35 2h3v1h-3zM50 2h3v1h-3zM87 2h1v1h-1zM105 2h1v1h-1zM108 2h1v1h-1zM125 2h1v1h-1zM128 2h1v1h-1zM130 2h1v1h-1zM141 2h2v1h-2zM145 2h1v1h-1zM148 2h1v1h-1zM151 2h2v1h-2zM155 2h1v1h-1zM160 2h1v1h-1zM163 2h1v1h-1zM166 2h2v1h-2zM171 2h1v1h-1zM173 2h1v1h-1zM178 2h1v1h-1zM185 2h1v1h-1zM190 2h1v1h-1zM193 2h1v1h-1zM197 2h1v1h-1zM205 2h1v1h-1zM208 2h1v1h-1zM211 2h1v1h-1zM213 2h1v1h-1zM215 2h1v1h-1zM218 2h1v1h-1zM222 2h1v1h-1zM240 2h1v1h-1zM243 2h1v1h-1zM247 2h1v1h-1zM252 2h1v1h-1zM260 2h1v1h-1zM263 2h1v1h-1zM270 2h3v1h-3zM0 3h1v1h-1zM3 3h1v1h-1zM5 3h3v1h-3zM10 3h1v1h-1zM21 3h1v1h-1zM26 3h1v1h-1zM31 3h3v1h-3zM36 3h1v1h-1zM41 3h2v1h-2zM46 3h3v1h-3zM51 3h1v1h-1zM56 3h2v1h-2zM61 3h2v1h-2zM66 3h3v1h-3zM87 3h1v1h-1zM90 3h1v1h-1zM93 3h1v1h-1zM96 3h2v1h-2zM105 3h1v1h-1zM108 3h1v1h-1zM110 3h3v1h-3zM115 3h1v1h-1zM117 3h1v1h-1zM128 3h1v1h-1zM130 3h3v1h-3zM142 3h1v1h-1zM148 3h1v1h-1zM151 3h2v1h-2zM155 3h3v1h-3zM161 3h2v1h-2zM166 3h2v1h-2zM171 3h1v1h-1zM173 3h1v1h-1zM177 3h1v1h-1zM185 3h3v1h-3zM190 3h1v1h-1zM193 3h1v1h-1zM197 3h1v1h-1zM208 3h1v1h-1zM211 3h1v1h-1zM213 3h1v1h-1zM218 3h1v1h-1zM221 3h2v1h-2zM240 3h1v1h-1zM243 3h1v1h-1zM247 3h1v1h-1zM252 3h1v1h-1zM260 3h1v1h-1zM263 3h1v1h-1zM266 3h3v1h-3zM271 3h1v1h-1zM276 3h3v1h-3zM0 4h3v1h-3zM5 4h1v1h-1zM8 4h1v1h-1zM10 4h1v1h-1zM22 4h1v1h-1zM26 4h1v1h-1zM30 4h1v1h-1zM33 4h1v1h-1zM36 4h1v1h-1zM42 4h1v1h-1zM45 4h2v1h-2zM51 4h1v1h-1zM57 4h1v1h-1zM60 4h1v1h-1zM65 4h2v1h-2zM75 4h4v1h-4zM87 4h1v1h-1zM90 4h1v1h-1zM93 4h1v1h-1zM95 4h1v1h-1zM97 4h2v1h-2zM105 4h4v1h-4zM110 4h1v1h-1zM113 4h1v1h-1zM115 4h2v1h-2zM118 4h1v1h-1zM126 4h2v1h-2zM133 4h1v1h-1zM142 4h1v1h-1zM146 4h2v1h-2zM158 4h1v1h-1zM160 4h1v1h-1zM163 4h1v1h-1zM171 4h1v1h-1zM173 4h1v1h-1zM177 4h1v1h-1zM185 4h1v1h-1zM190 4h1v1h-1zM193 4h1v1h-1zM197 4h1v1h-1zM206 4h2v1h-2zM211 4h1v1h-1zM213 4h1v1h-1zM216 4h2v1h-2zM223 4h1v1h-1zM230 4h4v1h-4zM240 4h4v1h-4zM247 4h1v1h-1zM252 4h1v1h-1zM260 4h1v1h-1zM263 4h1v1h-1zM265 4h1v1h-1zM268 4h1v1h-1zM271 4h1v1h-1zM275 4h1v1h-1zM278 4h1v1h-1zM0 5h1v1h-1zM3 5h1v1h-1zM5 5h1v1h-1zM8 5h1v1h-1zM10 5h1v1h-1zM20 5h1v1h-1zM23 5h1v1h-1zM26 5h1v1h-1zM28 5h1v1h-1zM30 5h1v1h-1zM32 5h2v1h-2zM36 5h1v1h-1zM38 5h1v1h-1zM42 5h1v1h-1zM47 5h2v1h-2zM51 5h1v1h-1zM53 5h1v1h-1zM57 5h1v1h-1zM60 5h1v1h-1zM67 5h2v1h-2zM87 5h1v1h-1zM90 5h1v1h-1zM93 5h1v1h-1zM95 5h2v1h-2zM105 5h1v1h-1zM108 5h1v1h-1zM110 5h3v1h-3zM115 5h1v1h-1zM125 5h1v1h-1zM130 5h1v1h-1zM133 5h1v1h-1zM142 5h1v1h-1zM145 5h1v1h-1zM151 5h2v1h-2zM155 5h1v1h-1zM158 5h1v1h-1zM160 5h1v1h-1zM163 5h1v1h-1zM166 5h2v1h-2zM171 5h1v1h-1zM173 5h1v1h-1zM176 5h1v1h-1zM185 5h1v1h-1zM190 5h1v1h-1zM193 5h1v1h-1zM197 5h1v1h-1zM205 5h1v1h-1zM211 5h1v1h-1zM213 5h1v1h-1zM215 5h1v1h-1zM220 5h1v1h-1zM223 5h1v1h-1zM240 5h1v1h-1zM243 5h1v1h-1zM247 5h1v1h-1zM252 5h1v1h-1zM260 5h1v1h-1zM263 5h1v1h-1zM265 5h1v1h-1zM267 5h2v1h-2zM271 5h1v1h-1zM273 5h1v1h-1zM275 5h1v1h-1zM277 5h2v1h-2zM0 6h1v1h-1zM3 6h1v1h-1zM5 6h3v1h-3zM10 6h4v1h-4zM21 6h2v1h-2zM27 6h1v1h-1zM31 6h1v1h-1zM33 6h1v1h-1zM37 6h1v1h-1zM41 6h3v1h-3zM45 6h3v1h-3zM52 6h1v1h-1zM56 6h3v1h-3zM61 6h2v1h-2zM65 6h3v1h-3zM87 6h1v1h-1zM91 6h3v1h-3zM96 6h2v1h-2zM105 6h1v1h-1zM108 6h1v1h-1zM110 6h1v1h-1zM115 6h1v1h-1zM125 6h4v1h-4zM131 6h2v1h-2zM141 6h3v1h-3zM145 6h4v1h-4zM151 6h2v1h-2zM156 6h2v1h-2zM161 6h2v1h-2zM166 6h2v1h-2zM172 6h1v1h-1zM176 6h1v1h-1zM185 6h4v1h-4zM190 6h3v1h-3zM197 6h1v1h-1zM205 6h4v1h-4zM212 6h1v1h-1zM215 6h4v1h-4zM221 6h2v1h-2zM240 6h1v1h-1zM243 6h1v1h-1zM246 6h3v1h-3zM251 6h3v1h-3zM260 6h3v1h-3zM266 6h1v1h-1zM268 6h1v1h-1zM272 6h1v1h-1zM276 6h1v1h-1zM278 6h1v1h-1zM110 7h1v1h-1z"/><path id="w1" d="M1 -1v1h1v-1zM1 -4v1h1v-1zM1 -43v2h1v-2zM1 -62v1h1v-1zM1 -88v2h1v-2zM1 -113v2h1v-2zM2 -4v4h1v-4zM2 -41v1h1v-1zM2 -44v1h1v-1zM2 -63v3h1v-3zM2 -86v1h1v-1zM2 -89v1h1v-1zM2 -111v1h1v-1zM2 -114v1h1v-1zM3 -4v4h1v-4zM3 -8v2h1v-2zM3 -14v3h1v-3zM3 -19v3h1v-3zM3 -24v3h1v-3zM3 -28v2h1v-2zM3 -33v2h1v-2zM3 -41v1h1v-1zM3 -48v2h1v-2zM3 -51v1h1v-1zM3 -54v1h1v-1zM3 -58v3h1v-3zM3 -62v1h1v-1zM3 -73v2h1v-2zM3 -76v1h1v-1zM3 -78v1h1v-1zM3 -87v1h1v-1zM3 -93v3h1v-3zM3 -99v3h1v-3zM3 -102v2h1v-2zM3 -104v1h1v-1zM3 -112v1h1v-1zM3 -118v2h1v-2zM3 -123v2h1v-2zM3 -126v1h1v-1zM3 -128v1h1v-1zM3 -133v2h1v-2zM4 -1v1h1v-1zM4 -4v1h1v-1zM4 -6v1h1v-1zM4 -9v2h1v-2zM4 -12v2h1v-2zM4 -17v2h1v-2zM4 -21v1h1v-1zM4 -24v1h1v-1zM4 -26v1h1v-1zM4 -29v1h1v-1zM4 -31v1h1v-1zM4 -34v2h1v-2zM4 -41v1h1v-1zM4 -46v1h1v-1zM4 -49v1h1v-1zM4 -51v1h1v-1zM4 -54v1h1v-1zM4 -56v1h1v-1zM4 -59v1h1v-1zM4 -62v1h1v-1zM4 -71v1h1v-1zM4 -74v1h1v-1zM4 -77v2h1v-2zM4 -79v1h1v-1zM4 -88v1h1v-1zM4 -91v1h1v-1zM4 -94v1h1v-1zM4 -96v1h1v-1zM4 -99v1h1v-1zM4 -101v1h1v-1zM4 -103v1h1v-1zM4 -105v1h1v-1zM4 -113v1h1v-1zM4 -116v1h1v-1zM4 -121v1h1v-1zM4 -124v1h1v-1zM4 -127v2h1v-2zM4 -129v1h1v-1zM4 -131v1h1v-1zM4 -134v2h1v-2zM5 -1v1h1v-1zM5 -4v1h1v-1zM5 -7v2h1v-2zM5 -14v2h1v-2zM5 -19v2h1v-2zM5 -21v1h1v-1zM5 -24v2h1v-2zM5 -29v3h1v-3zM5 -32v2h1v-2zM5 -41v1h1v-1zM5 -44v1h1v-1zM5 -46v1h1v-1zM5 -49v1h1v-1zM5 -51v1h1v-1zM5 -54v1h1v-1zM5 -56v1h1v-1zM5 -59v1h1v-1zM5 -62v1h1v-1zM5 -64v1h1v-1zM5 -71v1h1v-1zM5 -74v1h1v-1zM5 -76v1h1v-1zM5 -86v1h1v-1zM5 -89v1h1v-1zM5 -93v3h1v-3zM5 -96v1h1v-1zM5 -99v2h1v-2zM5 -101v1h1v-1zM5 -103v1h1v-1zM5 -105v1h1v-1zM5 -111v1h1v-1zM5 -114v1h1v-1zM5 -116v1h1v-1zM5 -121v1h1v-1zM5 -124v1h1v-1zM5 -126v1h1v-1zM5 -132v2h1v-2zM6 -1v1h1v-1zM6 -4v1h1v-1zM6 -8v2h1v-2zM6 -13v3h1v-3zM6 -18v3h1v-3zM6 -22v1h1v-1zM6 -24v1h1v-1zM6 -29v1h1v-1zM6 -33v2h1v-2zM6 -43v2h1v-2zM6 -48v2h1v-2zM6 -54v3h1v-3zM6 -56v1h1v-1zM6 -59v1h1v-1zM6 -63v1h1v-1zM6 -73v2h1v-2zM6 -76v1h1v-1zM6 -88v2h1v-2zM6 -91v1h1v-1zM6 -97v1h1v-1zM6 -99v1h1v-1zM6 -101v1h1v-1zM6 -103v1h1v-1zM6 -105v1h1v-1zM6 -113v2h1v-2zM6 -118v2h1v-2zM6 -123v2h1v-2zM6 -126v1h1v-1zM6 -133v2h1v-2zM7 -28v2h1v-2zM7 -91v1h1v-1z"/><path id="w2" d="M2 1h1v1h-1zM12 1h1v1h-1zM17 1h1v1h-1zM22 1h1v1h-1zM1 2h1v1h-1zM3 2h1v1h-1zM11 2h1v1h-1zM13 2h1v1h-1zM16 2h1v1h-1zM18 2h1v1h-1zM21 2h2v1h-2zM1 3h1v1h-1zM3 3h1v1h-1zM11 3h1v1h-1zM13 3h1v1h-1zM16 3h1v1h-1zM18 3h1v1h-1zM22 3h1v1h-1zM1 4h1v1h-1zM3 4h1v1h-1zM11 4h1v1h-1zM13 4h1v1h-1zM16 4h1v1h-1zM18 4h1v1h-1zM22 4h1v1h-1zM1 5h1v1h-1zM3 5h1v1h-1zM6 5h2v1h-2zM11 5h1v1h-1zM13 5h1v1h-1zM16 5h1v1h-1zM18 5h1v1h-1zM22 5h1v1h-1zM2 6h1v1h-1zM6 6h2v1h-2zM12 6h1v1h-1zM17 6h1v1h-1zM21 6h3v1h-3z"/><path id="w3" d="M2 1h1v1h-1zM12 1h1v1h-1zM17 1h1v1h-1zM1 2h1v1h-1zM3 2h1v1h-1zM11 2h1v1h-1zM13 2h1v1h-1zM16 2h2v1h-2zM1 3h1v1h-1zM3 3h1v1h-1zM11 3h1v1h-1zM13 3h1v1h-1zM17 3h1v1h-1zM1 4h1v1h-1zM3 4h1v1h-1zM11 4h1v1h-1zM13 4h1v1h-1zM17 4h1v1h-1zM1 5h1v1h-1zM3 5h1v1h-1zM6 5h2v1h-2zM11 5h1v1h-1zM13 5h1v1h-1zM17 5h1v1h-1zM2 6h1v1h-1zM6 6h2v1h-2zM12 6h1v1h-1zM16 6h3v1h-3z"/><path id="w4" d="M2 1h1v1h-1zM12 1h1v1h-1zM1 2h1v1h-1zM3 2h1v1h-1zM11 2h2v1h-2zM1 3h1v1h-1zM3 3h1v1h-1zM12 3h1v1h-1zM1 4h1v1h-1zM3 4h1v1h-1zM12 4h1v1h-1zM1 5h1v1h-1zM3 5h1v1h-1zM6 5h2v1h-2zM12 5h1v1h-1zM2 6h1v1h-1zM6 6h2v1h-2zM11 6h3v1h-3z"/><path id="w5" d="M2 1h1v1h-1zM1 2h2v1h-2zM2 3h1v1h-1zM2 4h1v1h-1zM2 5h1v1h-1zM1 6h3v1h-3z"/><path id="w6" d="M2 1h1v1h-1zM7 1h1v1h-1zM1 2h2v1h-2zM6 2h1v1h-1zM8 2h1v1h-1zM2 3h1v1h-1zM6 3h1v1h-1zM8 3h1v1h-1zM2 4h1v1h-1zM6 4h1v1h-1zM8 4h1v1h-1zM2 5h1v1h-1zM6 5h1v1h-1zM8 5h1v1h-1zM1 6h3v1h-3zM7 6h1v1h-1z"/><path id="w7" d="M2 1h1v1h-1zM7 1h1v1h-1zM12 1h1v1h-1zM1 2h2v1h-2zM6 2h1v1h-1zM8 2h1v1h-1zM11 2h1v1h-1zM13 2h1v1h-1zM2 3h1v1h-1zM6 3h1v1h-1zM8 3h1v1h-1zM11 3h1v1h-1zM13 3h1v1h-1zM2 4h1v1h-1zM6 4h1v1h-1zM8 4h1v1h-1zM11 4h1v1h-1zM13 4h1v1h-1zM2 5h1v1h-1zM6 5h1v1h-1zM8 5h1v1h-1zM11 5h1v1h-1zM13 5h1v1h-1zM1 6h3v1h-3zM7 6h1v1h-1zM12 6h1v1h-1z"/><path id="w8" d="M2 1h1v1h-1zM7 1h1v1h-1zM12 1h1v1h-1zM17 1h1v1h-1zM1 2h2v1h-2zM6 2h1v1h-1zM8 2h1v1h-1zM11 2h1v1h-1zM13 2h1v1h-1zM16 2h1v1h-1zM18 2h1v1h-1zM2 3h1v1h-1zM6 3h1v1h-1zM8 3h1v1h-1zM11 3h1v1h-1zM13 3h1v1h-1zM16 3h1v1h-1zM18 3h1v1h-1zM2 4h1v1h-1zM6 4h1v1h-1zM8 4h1v1h-1zM11 4h1v1h-1zM13 4h1v1h-1zM16 4h1v1h-1zM18 4h1v1h-1zM2 5h1v1h-1zM6 5h1v1h-1zM8 5h1v1h-1zM11 5h1v1h-1zM13 5h1v1h-1zM16 5h1v1h-1zM18 5h1v1h-1zM1 6h3v1h-3zM7 6h1v1h-1zM12 6h1v1h-1zM17 6h1v1h-1z"/><path id="w9" d="M2 1h1v1h-1zM7 1h1v1h-1zM12 1h1v1h-1zM17 1h1v1h-1zM22 1h1v1h-1zM1 2h2v1h-2zM6 2h1v1h-1zM8 2h1v1h-1zM11 2h1v1h-1zM13 2h1v1h-1zM16 2h1v1h-1zM18 2h1v1h-1zM21 2h1v1h-1zM23 2h1v1h-1zM2 3h1v1h-1zM6 3h1v1h-1zM8 3h1v1h-1zM11 3h1v1h-1zM13 3h1v1h-1zM16 3h1v1h-1zM18 3h1v1h-1zM21 3h1v1h-1zM23 3h1v1h-1zM2 4h1v1h-1zM6 4h1v1h-1zM8 4h1v1h-1zM11 4h1v1h-1zM13 4h1v1h-1zM16 4h1v1h-1zM18 4h1v1h-1zM21 4h1v1h-1zM23 4h1v1h-1zM2 5h1v1h-1zM6 5h1v1h-1zM8 5h1v1h-1zM11 5h1v1h-1zM13 5h1v1h-1zM16 5h1v1h-1zM18 5h1v1h-1zM21 5h1v1h-1zM23 5h1v1h-1zM1 6h3v1h-3zM7 6h1v1h-1zM12 6h1v1h-1zM17 6h1v1h-1zM22 6h1v1h-1z"/><path id="w10" d="M2 1h1v1h-1zM7 1h1v1h-1zM12 1h1v1h-1zM17 1h1v1h-1zM22 1h1v1h-1zM27 1h1v1h-1zM1 2h2v1h-2zM6 2h1v1h-1zM8 2h1v1h-1zM11 2h1v1h-1zM13 2h1v1h-1zM16 2h1v1h-1zM18 2h1v1h-1zM21 2h1v1h-1zM23 2h1v1h-1zM26 2h1v1h-1zM28 2h1v1h-1zM2 3h1v1h-1zM6 3h1v1h-1zM8 3h1v1h-1zM11 3h1v1h-1zM13 3h1v1h-1zM16 3h1v1h-1zM18 3h1v1h-1zM21 3h1v1h-1zM23 3h1v1h-1zM26 3h1v1h-1zM28 3h1v1h-1zM2 4h1v1h-1zM6 4h1v1h-1zM8 4h1v1h-1zM11 4h1v1h-1zM13 4h1v1h-1zM16 4h1v1h-1zM18 4h1v1h-1zM21 4h1v1h-1zM23 4h1v1h-1zM26 4h1v1h-1zM28 4h1v1h-1zM2 5h1v1h-1zM6 5h1v1h-1zM8 5h1v1h-1zM11 5h1v1h-1zM13 5h1v1h-1zM16 5h1v1h-1zM18 5h1v1h-1zM21 5h1v1h-1zM23 5h1v1h-1zM26 5h1v1h-1zM28 5h1v1h-1zM1 6h3v1h-3zM7 6h1v1h-1zM12 6h1v1h-1zM17 6h1v1h-1zM22 6h1v1h-1zM27 6h1v1h-1z"/><path id="w11" d="M27 0h2v1h-2zM35 0h2v1h-2zM2 1h1v1h-1zM12 1h1v1h-1zM17 1h1v1h-1zM22 1h1v1h-1zM26 1h1v1h-1zM31 1h2v1h-2zM37 1h1v1h-1zM1 2h2v1h-2zM11 2h2v1h-2zM16 2h1v1h-1zM18 2h1v1h-1zM21 2h1v1h-1zM23 2h1v1h-1zM27 2h1v1h-1zM30 2h1v1h-1zM36 2h1v1h-1zM2 3h1v1h-1zM5 3h1v1h-1zM8 3h1v1h-1zM12 3h1v1h-1zM16 3h1v1h-1zM18 3h1v1h-1zM25 3h2v1h-2zM30 3h3v1h-3zM37 3h2v1h-2zM2 4h1v1h-1zM6 4h2v1h-2zM12 4h1v1h-1zM16 4h1v1h-1zM18 4h1v1h-1zM27 4h1v1h-1zM30 4h1v1h-1zM33 4h1v1h-1zM36 4h1v1h-1zM2 5h1v1h-1zM6 5h2v1h-2zM12 5h1v1h-1zM16 5h1v1h-1zM18 5h1v1h-1zM26 5h1v1h-1zM30 5h1v1h-1zM33 5h1v1h-1zM37 5h1v1h-1zM1 6h3v1h-3zM5 6h1v1h-1zM8 6h1v1h-1zM11 6h3v1h-3zM17 6h1v1h-1zM27 6h2v1h-2zM31 6h2v1h-2zM35 6h2v1h-2z"/><path id="w12" d="M0 1h1v1h-1zM3 1h1v1h-1zM11 1h1v1h-1zM21 1h2v1h-2zM0 2h2v1h-2zM3 2h1v1h-1zM10 2h3v1h-3zM20 2h1v1h-1zM23 2h1v1h-1zM0 3h4v1h-4zM6 3h2v1h-2zM11 3h1v1h-1zM21 3h1v1h-1zM25 3h3v1h-3zM31 3h3v1h-3zM35 3h2v1h-2zM38 3h1v1h-1zM0 4h1v1h-1zM2 4h2v1h-2zM5 4h1v1h-1zM8 4h1v1h-1zM11 4h1v1h-1zM22 4h1v1h-1zM25 4h1v1h-1zM28 4h1v1h-1zM30 4h1v1h-1zM33 4h1v1h-1zM35 4h1v1h-1zM37 4h1v1h-1zM39 4h1v1h-1zM0 5h1v1h-1zM2 5h2v1h-2zM5 5h1v1h-1zM8 5h1v1h-1zM11 5h1v1h-1zM13 5h1v1h-1zM20 5h1v1h-1zM23 5h1v1h-1zM25 5h3v1h-3zM30 5h1v1h-1zM32 5h2v1h-2zM35 5h1v1h-1zM37 5h1v1h-1zM39 5h1v1h-1zM0 6h1v1h-1zM3 6h1v1h-1zM6 6h2v1h-2zM12 6h1v1h-1zM21 6h2v1h-2zM25 6h1v1h-1zM31 6h1v1h-1zM33 6h1v1h-1zM35 6h1v1h-1zM37 6h1v1h-1zM39 6h1v1h-1zM25 7h1v1h-1z"/><path id="w13" d="M1 1h2v1h-2zM0 2h1v1h-1zM3 2h1v1h-1zM1 3h1v1h-1zM5 3h3v1h-3zM11 3h3v1h-3zM15 3h2v1h-2zM18 3h1v1h-1zM2 4h1v1h-1zM5 4h1v1h-1zM8 4h1v1h-1zM10 4h1v1h-1zM13 4h1v1h-1zM15 4h1v1h-1zM17 4h1v1h-1zM19 4h1v1h-1zM0 5h1v1h-1zM3 5h1v1h-1zM5 5h3v1h-3zM10 5h1v1h-1zM12 5h2v1h-2zM15 5h1v1h-1zM17 5h1v1h-1zM19 5h1v1h-1zM1 6h2v1h-2zM5 6h1v1h-1zM11 6h1v1h-1zM13 6h1v1h-1zM15 6h1v1h-1zM17 6h1v1h-1zM19 6h1v1h-1zM5 7h1v1h-1z"/><path id="w14" d="M1 1h2v1h-2zM32 1h1v1h-1zM37 1h1v1h-1zM52 1h1v1h-1zM56 1h1v1h-1zM0 2h1v1h-1zM3 2h1v1h-1zM31 2h1v1h-1zM36 2h1v1h-1zM38 2h1v1h-1zM51 2h2v1h-2zM57 2h1v1h-1zM1 3h1v1h-1zM6 3h2v1h-2zM11 3h2v1h-2zM15 3h1v1h-1zM17 3h1v1h-1zM21 3h2v1h-2zM31 3h1v1h-1zM36 3h1v1h-1zM38 3h1v1h-1zM52 3h1v1h-1zM57 3h1v1h-1zM2 4h1v1h-1zM5 4h1v1h-1zM10 4h1v1h-1zM13 4h1v1h-1zM15 4h2v1h-2zM18 4h1v1h-1zM20 4h1v1h-1zM22 4h2v1h-2zM31 4h1v1h-1zM36 4h1v1h-1zM38 4h1v1h-1zM52 4h1v1h-1zM57 4h1v1h-1zM0 5h1v1h-1zM3 5h1v1h-1zM5 5h1v1h-1zM10 5h1v1h-1zM13 5h1v1h-1zM15 5h1v1h-1zM20 5h2v1h-2zM31 5h1v1h-1zM36 5h1v1h-1zM38 5h1v1h-1zM41 5h2v1h-2zM46 5h2v1h-2zM52 5h1v1h-1zM57 5h1v1h-1zM1 6h2v1h-2zM6 6h2v1h-2zM11 6h2v1h-2zM15 6h1v1h-1zM21 6h2v1h-2zM32 6h1v1h-1zM37 6h1v1h-1zM41 6h2v1h-2zM46 6h2v1h-2zM51 6h3v1h-3zM56 6h1v1h-1z"/><path id="w15" d="M7 0h2v1h-2zM1 1h2v1h-2zM6 1h1v1h-1zM9 1h1v1h-1zM0 2h1v1h-1zM3 2h1v1h-1zM5 2h1v1h-1zM8 2h2v1h-2zM3 3h1v1h-1zM5 3h1v1h-1zM7 3h1v1h-1zM9 3h1v1h-1zM1 4h2v1h-2zM5 4h1v1h-1zM7 4h1v1h-1zM9 4h1v1h-1zM0 5h1v1h-1zM5 5h1v1h-1zM8 5h1v1h-1zM0 6h4v1h-4zM6 6h1v1h-1zM7 7h2v1h-2z"/><path id="w16" d="M10 1h1v1h-1zM16 1h2v1h-2zM10 2h1v1h-1zM17 2h1v1h-1zM0 3h3v1h-3zM6 3h3v1h-3zM10 3h3v1h-3zM17 3h1v1h-1zM0 4h1v1h-1zM3 4h1v1h-1zM5 4h2v1h-2zM10 4h1v1h-1zM13 4h1v1h-1zM17 4h1v1h-1zM0 5h3v1h-3zM7 5h2v1h-2zM10 5h1v1h-1zM13 5h1v1h-1zM17 5h1v1h-1zM21 5h2v1h-2zM0 6h1v1h-1zM5 6h3v1h-3zM10 6h3v1h-3zM16 6h3v1h-3zM21 6h2v1h-2zM0 7h1v1h-1z"/><path id="w17" d="M22 1h1v1h-1zM31 1h2v1h-2zM32 2h1v1h-1zM1 3h3v1h-3zM5 3h1v1h-1zM8 3h1v1h-1zM10 3h1v1h-1zM12 3h1v1h-1zM15 3h1v1h-1zM17 3h1v1h-1zM21 3h2v1h-2zM26 3h2v1h-2zM32 3h1v1h-1zM0 4h2v1h-2zM5 4h1v1h-1zM8 4h1v1h-1zM10 4h2v1h-2zM13 4h1v1h-1zM15 4h2v1h-2zM18 4h1v1h-1zM22 4h1v1h-1zM25 4h1v1h-1zM27 4h2v1h-2zM32 4h1v1h-1zM2 5h2v1h-2zM5 5h1v1h-1zM8 5h1v1h-1zM10 5h1v1h-1zM15 5h1v1h-1zM22 5h1v1h-1zM25 5h2v1h-2zM32 5h1v1h-1zM36 5h2v1h-2zM0 6h3v1h-3zM6 6h3v1h-3zM10 6h1v1h-1zM15 6h1v1h-1zM21 6h3v1h-3zM26 6h2v1h-2zM31 6h3v1h-3zM36 6h2v1h-2z"/><path id="w18" d="M1 3h2v1h-2zM6 3h2v1h-2zM10 3h2v1h-2zM13 3h1v1h-1zM0 4h1v1h-1zM5 4h1v1h-1zM8 4h1v1h-1zM10 4h1v1h-1zM12 4h1v1h-1zM14 4h1v1h-1zM0 5h1v1h-1zM5 5h1v1h-1zM8 5h1v1h-1zM10 5h1v1h-1zM12 5h1v1h-1zM14 5h1v1h-1zM1 6h2v1h-2zM6 6h2v1h-2zM10 6h1v1h-1zM12 6h1v1h-1zM14 6h1v1h-1z"/><path id="w19" d="M12 1h1v1h-1zM22 1h1v1h-1zM1 3h2v1h-2zM5 3h1v1h-1zM7 3h1v1h-1zM11 3h2v1h-2zM16 3h2v1h-2zM21 3h2v1h-2zM25 3h3v1h-3zM0 4h1v1h-1zM3 4h1v1h-1zM5 4h2v1h-2zM8 4h1v1h-1zM12 4h1v1h-1zM15 4h1v1h-1zM18 4h1v1h-1zM22 4h1v1h-1zM25 4h1v1h-1zM28 4h1v1h-1zM0 5h1v1h-1zM3 5h1v1h-1zM5 5h1v1h-1zM12 5h1v1h-1zM16 5h3v1h-3zM22 5h1v1h-1zM25 5h1v1h-1zM28 5h1v1h-1zM1 6h2v1h-2zM5 6h1v1h-1zM11 6h3v1h-3zM18 6h1v1h-1zM21 6h3v1h-3zM25 6h1v1h-1zM28 6h1v1h-1zM16 7h2v1h-2z"/><path id="w20" d="M7 0h2v1h-2zM2 1h1v1h-1zM6 1h1v1h-1zM9 1h1v1h-1zM1 2h2v1h-2zM5 2h1v1h-1zM8 2h2v1h-2zM0 3h1v1h-1zM2 3h1v1h-1zM5 3h1v1h-1zM7 3h1v1h-1zM9 3h1v1h-1zM0 4h4v1h-4zM5 4h1v1h-1zM7 4h1v1h-1zM9 4h1v1h-1zM2 5h1v1h-1zM5 5h1v1h-1zM8 5h1v1h-1zM2 6h1v1h-1zM6 6h1v1h-1zM7 7h2v1h-2z"/><path id="w21" d="M0 1h1v1h-1zM6 1h2v1h-2zM0 2h1v1h-1zM7 2h1v1h-1zM0 3h3v1h-3zM7 3h1v1h-1zM0 4h1v1h-1zM3 4h1v1h-1zM7 4h1v1h-1zM0 5h1v1h-1zM3 5h1v1h-1zM7 5h1v1h-1zM11 5h2v1h-2zM0 6h3v1h-3zM6 6h3v1h-3zM11 6h2v1h-2z"/><path id="w22" d="M1 3h3v1h-3zM5 3h3v1h-3zM11 3h3v1h-3zM15 3h2v1h-2zM18 3h1v1h-1zM21 3h2v1h-2zM26 3h2v1h-2zM30 3h3v1h-3zM0 4h2v1h-2zM5 4h1v1h-1zM8 4h1v1h-1zM10 4h1v1h-1zM13 4h1v1h-1zM15 4h1v1h-1zM17 4h1v1h-1zM19 4h2v1h-2zM25 4h1v1h-1zM28 4h1v1h-1zM30 4h1v1h-1zM33 4h1v1h-1zM2 5h2v1h-2zM5 5h3v1h-3zM10 5h1v1h-1zM12 5h2v1h-2zM15 5h1v1h-1zM17 5h1v1h-1zM19 5h2v1h-2zM25 5h1v1h-1zM28 5h1v1h-1zM30 5h3v1h-3zM36 5h2v1h-2zM0 6h3v1h-3zM5 6h1v1h-1zM11 6h1v1h-1zM13 6h1v1h-1zM15 6h1v1h-1zM17 6h1v1h-1zM19 6h1v1h-1zM21 6h2v1h-2zM26 6h2v1h-2zM30 6h1v1h-1zM36 6h2v1h-2zM5 7h1v1h-1zM30 7h1v1h-1z"/><path id="w23" d="M11 1h1v1h-1zM10 2h3v1h-3zM0 3h3v1h-3zM6 3h2v1h-2zM11 3h1v1h-1zM0 4h1v1h-1zM3 4h1v1h-1zM5 4h1v1h-1zM7 4h2v1h-2zM11 4h1v1h-1zM0 5h1v1h-1zM3 5h1v1h-1zM5 5h2v1h-2zM11 5h1v1h-1zM13 5h1v1h-1zM0 6h1v1h-1zM3 6h1v1h-1zM6 6h2v1h-2zM12 6h1v1h-1z"/><path id="w24" d="M0 1h1v1h-1zM0 2h1v1h-1zM0 3h3v1h-3zM0 4h1v1h-1zM3 4h1v1h-1zM0 5h1v1h-1zM3 5h1v1h-1zM6 5h2v1h-2zM0 6h3v1h-3zM6 6h2v1h-2z"/><path id="w25" d="M0 1h1v1h-1zM38 1h1v1h-1zM61 1h1v1h-1zM76 1h2v1h-2zM0 2h1v1h-1zM38 2h1v1h-1zM60 2h3v1h-3zM77 2h1v1h-1zM0 3h3v1h-3zM6 3h3v1h-3zM10 3h1v1h-1zM12 3h1v1h-1zM15 3h1v1h-1zM17 3h1v1h-1zM21 3h3v1h-3zM26 3h2v1h-2zM30 3h1v1h-1zM33 3h1v1h-1zM36 3h3v1h-3zM41 3h3v1h-3zM46 3h2v1h-2zM51 3h2v1h-2zM55 3h3v1h-3zM61 3h1v1h-1zM65 3h1v1h-1zM67 3h1v1h-1zM71 3h3v1h-3zM77 3h1v1h-1zM0 4h1v1h-1zM3 4h1v1h-1zM5 4h1v1h-1zM8 4h1v1h-1zM10 4h2v1h-2zM13 4h1v1h-1zM15 4h2v1h-2zM18 4h1v1h-1zM20 4h1v1h-1zM23 4h1v1h-1zM25 4h1v1h-1zM30 4h1v1h-1zM33 4h1v1h-1zM35 4h1v1h-1zM38 4h1v1h-1zM40 4h1v1h-1zM43 4h1v1h-1zM45 4h1v1h-1zM50 4h1v1h-1zM52 4h2v1h-2zM55 4h1v1h-1zM58 4h1v1h-1zM61 4h1v1h-1zM65 4h2v1h-2zM68 4h1v1h-1zM70 4h1v1h-1zM73 4h1v1h-1zM77 4h1v1h-1zM0 5h1v1h-1zM3 5h1v1h-1zM5 5h1v1h-1zM7 5h2v1h-2zM10 5h1v1h-1zM15 5h1v1h-1zM20 5h1v1h-1zM22 5h2v1h-2zM25 5h1v1h-1zM30 5h1v1h-1zM33 5h1v1h-1zM35 5h1v1h-1zM38 5h1v1h-1zM40 5h1v1h-1zM42 5h2v1h-2zM45 5h1v1h-1zM50 5h2v1h-2zM55 5h1v1h-1zM58 5h1v1h-1zM61 5h1v1h-1zM63 5h1v1h-1zM65 5h1v1h-1zM70 5h1v1h-1zM72 5h2v1h-2zM77 5h1v1h-1zM81 5h2v1h-2zM0 6h3v1h-3zM6 6h1v1h-1zM8 6h1v1h-1zM10 6h1v1h-1zM15 6h1v1h-1zM21 6h1v1h-1zM23 6h1v1h-1zM26 6h2v1h-2zM31 6h3v1h-3zM36 6h3v1h-3zM41 6h1v1h-1zM43 6h1v1h-1zM46 6h2v1h-2zM51 6h2v1h-2zM55 6h1v1h-1zM58 6h1v1h-1zM62 6h1v1h-1zM65 6h1v1h-1zM71 6h1v1h-1zM73 6h1v1h-1zM76 6h3v1h-3zM81 6h2v1h-2z"/><path id="w26" d="M1 3h2v1h-2zM5 3h1v1h-1zM7 3h1v1h-1zM11 3h2v1h-2zM0 4h1v1h-1zM3 4h1v1h-1zM5 4h2v1h-2zM8 4h1v1h-1zM10 4h1v1h-1zM13 4h1v1h-1zM0 5h1v1h-1zM3 5h1v1h-1zM5 5h1v1h-1zM11 5h3v1h-3zM1 6h2v1h-2zM5 6h1v1h-1zM13 6h1v1h-1zM11 7h2v1h-2z"/><path id="w27" d="M3 1h1v1h-1zM15 1h1v1h-1zM21 1h2v1h-2zM3 2h1v1h-1zM15 2h1v1h-1zM22 2h1v1h-1zM1 3h3v1h-3zM5 3h3v1h-3zM11 3h3v1h-3zM15 3h3v1h-3zM22 3h1v1h-1zM0 4h1v1h-1zM3 4h1v1h-1zM5 4h1v1h-1zM8 4h1v1h-1zM10 4h2v1h-2zM15 4h1v1h-1zM18 4h1v1h-1zM22 4h1v1h-1zM0 5h1v1h-1zM3 5h1v1h-1zM5 5h1v1h-1zM8 5h1v1h-1zM12 5h2v1h-2zM15 5h1v1h-1zM18 5h1v1h-1zM22 5h1v1h-1zM26 5h2v1h-2zM1 6h3v1h-3zM5 6h1v1h-1zM8 6h1v1h-1zM10 6h3v1h-3zM15 6h3v1h-3zM21 6h3v1h-3zM26 6h2v1h-2z"/><path id="w28" d="M15 1h1v1h-1zM15 2h1v1h-1zM1 3h3v1h-3zM6 3h2v1h-2zM10 3h1v1h-1zM12 3h1v1h-1zM15 3h3v1h-3zM21 3h3v1h-3zM0 4h2v1h-2zM5 4h1v1h-1zM8 4h1v1h-1zM10 4h2v1h-2zM13 4h1v1h-1zM15 4h1v1h-1zM18 4h1v1h-1zM20 4h2v1h-2zM2 5h2v1h-2zM5 5h1v1h-1zM8 5h1v1h-1zM10 5h1v1h-1zM15 5h1v1h-1zM18 5h1v1h-1zM22 5h2v1h-2zM26 5h2v1h-2zM0 6h3v1h-3zM6 6h2v1h-2zM10 6h1v1h-1zM15 6h3v1h-3zM20 6h3v1h-3zM26 6h2v1h-2z"/><path id="w29" d="M0 3h3v1h-3zM6 3h2v1h-2zM10 3h1v1h-1zM14 3h1v1h-1zM0 4h1v1h-1zM3 4h1v1h-1zM5 4h1v1h-1zM7 4h2v1h-2zM10 4h1v1h-1zM12 4h1v1h-1zM14 4h1v1h-1zM0 5h1v1h-1zM3 5h1v1h-1zM5 5h2v1h-2zM10 5h1v1h-1zM12 5h1v1h-1zM14 5h1v1h-1zM16 5h2v1h-2zM0 6h1v1h-1zM3 6h1v1h-1zM6 6h2v1h-2zM11 6h1v1h-1zM13 6h1v1h-1zM16 6h2v1h-2z"/><path id="w30" d="M1 3h3v1h-3zM5 3h3v1h-3zM11 3h3v1h-3zM15 3h2v1h-2zM18 3h1v1h-1zM0 4h2v1h-2zM5 4h1v1h-1zM8 4h1v1h-1zM10 4h1v1h-1zM13 4h1v1h-1zM15 4h1v1h-1zM17 4h1v1h-1zM19 4h1v1h-1zM2 5h2v1h-2zM5 5h3v1h-3zM10 5h1v1h-1zM12 5h2v1h-2zM15 5h1v1h-1zM17 5h1v1h-1zM19 5h1v1h-1zM21 5h2v1h-2zM0 6h3v1h-3zM5 6h1v1h-1zM11 6h1v1h-1zM13 6h1v1h-1zM15 6h1v1h-1zM17 6h1v1h-1zM19 6h1v1h-1zM21 6h2v1h-2zM5 7h1v1h-1z"/><path id="w31" d="M1 1h2v1h-2zM10 1h1v1h-1zM0 2h1v1h-1zM10 2h1v1h-1zM0 3h3v1h-3zM10 3h3v1h-3zM16 3h2v1h-2zM20 3h3v1h-3zM26 3h3v1h-3zM0 4h1v1h-1zM3 4h1v1h-1zM10 4h1v1h-1zM13 4h1v1h-1zM15 4h1v1h-1zM18 4h1v1h-1zM20 4h1v1h-1zM23 4h1v1h-1zM25 4h2v1h-2zM0 5h1v1h-1zM3 5h1v1h-1zM10 5h1v1h-1zM13 5h1v1h-1zM15 5h1v1h-1zM18 5h1v1h-1zM20 5h3v1h-3zM27 5h2v1h-2zM1 6h2v1h-2zM10 6h1v1h-1zM13 6h1v1h-1zM16 6h2v1h-2zM20 6h1v1h-1zM25 6h3v1h-3zM20 7h1v1h-1z"/><path id="w32" d="M7 0h2v1h-2zM1 1h2v1h-2zM6 1h1v1h-1zM9 1h1v1h-1zM0 2h1v1h-1zM5 2h1v1h-1zM8 2h2v1h-2zM0 3h3v1h-3zM5 3h1v1h-1zM7 3h1v1h-1zM9 3h1v1h-1zM0 4h1v1h-1zM3 4h1v1h-1zM5 4h1v1h-1zM7 4h1v1h-1zM9 4h1v1h-1zM0 5h1v1h-1zM3 5h1v1h-1zM5 5h1v1h-1zM8 5h1v1h-1zM1 6h2v1h-2zM6 6h1v1h-1zM7 7h2v1h-2z"/><path id="w33" d="M12 1h1v1h-1zM16 1h2v1h-2zM32 1h1v1h-1zM35 1h1v1h-1zM17 2h1v1h-1zM35 2h1v1h-1zM0 3h2v1h-2zM3 3h1v1h-1zM6 3h3v1h-3zM11 3h2v1h-2zM17 3h1v1h-1zM21 3h3v1h-3zM25 3h3v1h-3zM31 3h2v1h-2zM35 3h1v1h-1zM38 3h1v1h-1zM41 3h2v1h-2zM0 4h1v1h-1zM2 4h1v1h-1zM4 4h2v1h-2zM8 4h1v1h-1zM12 4h1v1h-1zM17 4h1v1h-1zM20 4h2v1h-2zM25 4h1v1h-1zM28 4h1v1h-1zM32 4h1v1h-1zM35 4h3v1h-3zM40 4h1v1h-1zM42 4h2v1h-2zM0 5h1v1h-1zM2 5h1v1h-1zM4 5h2v1h-2zM7 5h2v1h-2zM12 5h1v1h-1zM17 5h1v1h-1zM22 5h2v1h-2zM25 5h3v1h-3zM32 5h1v1h-1zM35 5h1v1h-1zM38 5h1v1h-1zM40 5h2v1h-2zM46 5h2v1h-2zM0 6h1v1h-1zM2 6h1v1h-1zM4 6h1v1h-1zM6 6h1v1h-1zM8 6h1v1h-1zM11 6h3v1h-3zM16 6h3v1h-3zM20 6h3v1h-3zM25 6h1v1h-1zM31 6h3v1h-3zM35 6h1v1h-1zM38 6h1v1h-1zM41 6h2v1h-2zM46 6h2v1h-2zM25 7h1v1h-1z"/><path id="w34" d="M0 1h1v1h-1zM0 2h1v1h-1zM0 3h1v1h-1zM3 3h1v1h-1zM6 3h2v1h-2zM10 3h1v1h-1zM12 3h1v1h-1zM16 3h2v1h-2zM21 3h3v1h-3zM0 4h3v1h-3zM5 4h1v1h-1zM8 4h1v1h-1zM10 4h2v1h-2zM13 4h1v1h-1zM15 4h1v1h-1zM17 4h2v1h-2zM20 4h1v1h-1zM23 4h1v1h-1zM0 5h1v1h-1zM3 5h1v1h-1zM5 5h1v1h-1zM8 5h1v1h-1zM10 5h1v1h-1zM15 5h2v1h-2zM20 5h1v1h-1zM22 5h2v1h-2zM26 5h2v1h-2zM0 6h1v1h-1zM3 6h1v1h-1zM6 6h2v1h-2zM10 6h1v1h-1zM16 6h2v1h-2zM21 6h1v1h-1zM23 6h1v1h-1zM26 6h2v1h-2z"/><path id="w35" d="M22 1h1v1h-1zM1 3h3v1h-3zM6 3h2v1h-2zM10 3h1v1h-1zM12 3h1v1h-1zM16 3h1v1h-1zM18 3h1v1h-1zM21 3h2v1h-2zM26 3h2v1h-2zM31 3h2v1h-2zM36 3h3v1h-3zM0 4h2v1h-2zM5 4h1v1h-1zM7 4h2v1h-2zM10 4h2v1h-2zM13 4h1v1h-1zM16 4h1v1h-1zM18 4h1v1h-1zM22 4h1v1h-1zM25 4h1v1h-1zM30 4h1v1h-1zM32 4h2v1h-2zM35 4h2v1h-2zM2 5h2v1h-2zM5 5h2v1h-2zM10 5h1v1h-1zM16 5h1v1h-1zM18 5h1v1h-1zM22 5h1v1h-1zM25 5h1v1h-1zM30 5h2v1h-2zM37 5h2v1h-2zM41 5h2v1h-2zM0 6h3v1h-3zM6 6h2v1h-2zM10 6h1v1h-1zM17 6h1v1h-1zM21 6h3v1h-3zM26 6h2v1h-2zM31 6h2v1h-2zM35 6h3v1h-3zM41 6h2v1h-2z"/><path id="w36" d="M0 1h4v1h-4zM10 1h1v1h-1zM0 2h1v1h-1zM10 2h1v1h-1zM0 3h3v1h-3zM10 3h3v1h-3zM16 3h2v1h-2zM20 3h3v1h-3zM26 3h3v1h-3zM3 4h1v1h-1zM10 4h1v1h-1zM13 4h1v1h-1zM15 4h1v1h-1zM18 4h1v1h-1zM20 4h1v1h-1zM23 4h1v1h-1zM25 4h2v1h-2zM0 5h1v1h-1zM3 5h1v1h-1zM10 5h1v1h-1zM13 5h1v1h-1zM15 5h1v1h-1zM18 5h1v1h-1zM20 5h3v1h-3zM27 5h2v1h-2zM1 6h2v1h-2zM10 6h1v1h-1zM13 6h1v1h-1zM16 6h2v1h-2zM20 6h1v1h-1zM25 6h3v1h-3zM20 7h1v1h-1z"/><path id="w37" d="M25 1h1v1h-1zM31 1h2v1h-2zM25 2h1v1h-1zM32 2h1v1h-1zM0 3h1v1h-1zM4 3h1v1h-1zM6 3h2v1h-2zM10 3h1v1h-1zM12 3h1v1h-1zM15 3h2v1h-2zM18 3h1v1h-1zM20 3h1v1h-1zM22 3h1v1h-1zM25 3h3v1h-3zM32 3h1v1h-1zM0 4h1v1h-1zM2 4h1v1h-1zM4 4h2v1h-2zM8 4h1v1h-1zM10 4h2v1h-2zM13 4h1v1h-1zM15 4h1v1h-1zM17 4h1v1h-1zM19 4h3v1h-3zM23 4h1v1h-1zM25 4h1v1h-1zM28 4h1v1h-1zM32 4h1v1h-1zM0 5h1v1h-1zM2 5h1v1h-1zM4 5h2v1h-2zM8 5h1v1h-1zM10 5h1v1h-1zM15 5h1v1h-1zM17 5h1v1h-1zM19 5h2v1h-2zM25 5h1v1h-1zM28 5h1v1h-1zM32 5h1v1h-1zM36 5h2v1h-2zM1 6h1v1h-1zM3 6h1v1h-1zM6 6h2v1h-2zM10 6h1v1h-1zM15 6h1v1h-1zM17 6h1v1h-1zM19 6h2v1h-2zM25 6h3v1h-3zM31 6h3v1h-3zM36 6h2v1h-2z"/><path id="w38" d="M2 1h1v1h-1zM1 3h2v1h-2zM5 3h2v1h-2zM8 3h1v1h-1zM10 3h3v1h-3zM2 4h1v1h-1zM5 4h1v1h-1zM7 4h1v1h-1zM9 4h2v1h-2zM13 4h1v1h-1zM2 5h1v1h-1zM5 5h1v1h-1zM7 5h1v1h-1zM9 5h4v1h-4zM16 5h2v1h-2zM1 6h3v1h-3zM5 6h1v1h-1zM7 6h1v1h-1zM9 6h2v1h-2zM16 6h2v1h-2zM10 7h1v1h-1z"/><path id="w39" d="M5 1h1v1h-1zM5 2h1v1h-1zM1 3h2v1h-2zM5 3h3v1h-3zM0 4h1v1h-1zM5 4h1v1h-1zM8 4h1v1h-1zM0 5h1v1h-1zM5 5h1v1h-1zM8 5h1v1h-1zM11 5h2v1h-2zM1 6h2v1h-2zM5 6h1v1h-1zM8 6h1v1h-1zM11 6h2v1h-2z"/><path id="w40" d="M2 1h1v1h-1zM10 1h1v1h-1zM1 2h2v1h-2zM10 2h1v1h-1zM2 3h1v1h-1zM10 3h3v1h-3zM16 3h2v1h-2zM20 3h3v1h-3zM2 4h1v1h-1zM10 4h1v1h-1zM13 4h1v1h-1zM15 4h1v1h-1zM18 4h1v1h-1zM20 4h1v1h-1zM23 4h1v1h-1zM2 5h1v1h-1zM10 5h1v1h-1zM13 5h1v1h-1zM15 5h1v1h-1zM18 5h1v1h-1zM20 5h3v1h-3zM1 6h3v1h-3zM10 6h1v1h-1zM13 6h1v1h-1zM16 6h2v1h-2zM20 6h1v1h-1zM20 7h1v1h-1z"/><path id="w41" d="M15 1h1v1h-1zM22 1h1v1h-1zM15 2h1v1h-1zM0 3h4v1h-4zM6 3h2v1h-2zM10 3h2v1h-2zM13 3h1v1h-1zM15 3h3v1h-3zM21 3h2v1h-2zM26 3h2v1h-2zM2 4h1v1h-1zM5 4h1v1h-1zM8 4h1v1h-1zM10 4h1v1h-1zM12 4h1v1h-1zM14 4h2v1h-2zM18 4h1v1h-1zM22 4h1v1h-1zM25 4h1v1h-1zM27 4h2v1h-2zM1 5h1v1h-1zM5 5h1v1h-1zM8 5h1v1h-1zM10 5h1v1h-1zM12 5h1v1h-1zM14 5h2v1h-2zM18 5h1v1h-1zM22 5h1v1h-1zM25 5h2v1h-2zM31 5h2v1h-2zM0 6h4v1h-4zM6 6h2v1h-2zM10 6h1v1h-1zM12 6h1v1h-1zM14 6h4v1h-4zM21 6h3v1h-3zM26 6h2v1h-2zM31 6h2v1h-2z"/><path id="w42" d="M7 0h2v1h-2zM0 1h4v1h-4zM6 1h1v1h-1zM9 1h1v1h-1zM0 2h1v1h-1zM5 2h1v1h-1zM8 2h2v1h-2zM0 3h3v1h-3zM5 3h1v1h-1zM7 3h1v1h-1zM9 3h1v1h-1zM3 4h1v1h-1zM5 4h1v1h-1zM7 4h1v1h-1zM9 4h1v1h-1zM0 5h1v1h-1zM3 5h1v1h-1zM5 5h1v1h-1zM8 5h1v1h-1zM1 6h2v1h-2zM6 6h1v1h-1zM7 7h2v1h-2z"/><path id="w43" d="M12 0h2v1h-2zM2 1h1v1h-1zM7 1h1v1h-1zM11 1h1v1h-1zM14 1h1v1h-1zM1 2h2v1h-2zM6 2h2v1h-2zM10 2h1v1h-1zM13 2h2v1h-2zM2 3h1v1h-1zM7 3h1v1h-1zM10 3h1v1h-1zM12 3h1v1h-1zM14 3h1v1h-1zM2 4h1v1h-1zM7 4h1v1h-1zM10 4h1v1h-1zM12 4h1v1h-1zM14 4h1v1h-1zM2 5h1v1h-1zM7 5h1v1h-1zM10 5h1v1h-1zM13 5h1v1h-1zM1 6h3v1h-3zM6 6h3v1h-3zM11 6h1v1h-1zM12 7h2v1h-2z"/><path id="w44" d="M3 1h1v1h-1zM11 1h2v1h-2zM3 2h1v1h-1zM12 2h1v1h-1zM1 3h3v1h-3zM5 3h1v1h-1zM8 3h1v1h-1zM12 3h1v1h-1zM0 4h1v1h-1zM3 4h1v1h-1zM5 4h1v1h-1zM8 4h1v1h-1zM12 4h1v1h-1zM0 5h1v1h-1zM3 5h1v1h-1zM5 5h1v1h-1zM8 5h1v1h-1zM12 5h1v1h-1zM16 5h2v1h-2zM1 6h3v1h-3zM6 6h3v1h-3zM11 6h3v1h-3zM16 6h2v1h-2z"/><path id="w45" d="M12 0h2v1h-2zM2 1h1v1h-1zM5 1h4v1h-4zM11 1h1v1h-1zM14 1h1v1h-1zM1 2h2v1h-2zM5 2h1v1h-1zM10 2h1v1h-1zM13 2h2v1h-2zM2 3h1v1h-1zM5 3h3v1h-3zM10 3h1v1h-1zM12 3h1v1h-1zM14 3h1v1h-1zM2 4h1v1h-1zM8 4h1v1h-1zM10 4h1v1h-1zM12 4h1v1h-1zM14 4h1v1h-1zM2 5h1v1h-1zM5 5h1v1h-1zM8 5h1v1h-1zM10 5h1v1h-1zM13 5h1v1h-1zM1 6h3v1h-3zM6 6h2v1h-2zM11 6h1v1h-1zM12 7h2v1h-2z"/><path id="w46" d="M0 3h4v1h-4zM6 3h2v1h-2zM10 3h3v1h-3zM2 4h1v1h-1zM5 4h1v1h-1zM7 4h2v1h-2zM10 4h1v1h-1zM13 4h1v1h-1zM1 5h1v1h-1zM5 5h2v1h-2zM10 5h1v1h-1zM13 5h1v1h-1zM16 5h2v1h-2zM0 6h4v1h-4zM6 6h2v1h-2zM10 6h1v1h-1zM13 6h1v1h-1zM16 6h2v1h-2z"/><path id="w47" d="M20 1h1v1h-1zM20 2h1v1h-1zM1 3h3v1h-3zM5 3h3v1h-3zM11 3h3v1h-3zM15 3h2v1h-2zM18 3h1v1h-1zM20 3h3v1h-3zM26 3h3v1h-3zM30 3h1v1h-1zM33 3h1v1h-1zM36 3h3v1h-3zM0 4h2v1h-2zM5 4h1v1h-1zM8 4h1v1h-1zM10 4h1v1h-1zM13 4h1v1h-1zM15 4h1v1h-1zM17 4h1v1h-1zM19 4h2v1h-2zM23 4h1v1h-1zM25 4h1v1h-1zM28 4h1v1h-1zM30 4h1v1h-1zM33 4h1v1h-1zM35 4h2v1h-2zM2 5h2v1h-2zM5 5h3v1h-3zM10 5h1v1h-1zM12 5h2v1h-2zM15 5h1v1h-1zM17 5h1v1h-1zM19 5h2v1h-2zM23 5h1v1h-1zM25 5h1v1h-1zM27 5h2v1h-2zM30 5h1v1h-1zM33 5h1v1h-1zM37 5h2v1h-2zM41 5h2v1h-2zM0 6h3v1h-3zM5 6h1v1h-1zM11 6h1v1h-1zM13 6h1v1h-1zM15 6h1v1h-1zM17 6h1v1h-1zM19 6h2v1h-2zM23 6h1v1h-1zM26 6h1v1h-1zM28 6h1v1h-1zM31 6h3v1h-3zM35 6h3v1h-3zM41 6h2v1h-2zM5 7h1v1h-1z"/><path id="w48" d="M2 1h1v1h-1zM10 1h1v1h-1zM1 2h2v1h-2zM10 2h1v1h-1zM0 3h1v1h-1zM2 3h1v1h-1zM10 3h3v1h-3zM16 3h2v1h-2zM20 3h3v1h-3zM26 3h3v1h-3zM0 4h4v1h-4zM10 4h1v1h-1zM13 4h1v1h-1zM15 4h1v1h-1zM18 4h1v1h-1zM20 4h1v1h-1zM23 4h1v1h-1zM25 4h2v1h-2zM2 5h1v1h-1zM10 5h1v1h-1zM13 5h1v1h-1zM15 5h1v1h-1zM18 5h1v1h-1zM20 5h3v1h-3zM27 5h2v1h-2zM2 6h1v1h-1zM10 6h1v1h-1zM13 6h1v1h-1zM16 6h2v1h-2zM20 6h1v1h-1zM25 6h3v1h-3zM20 7h1v1h-1z"/><path id="w49" d="M3 1h1v1h-1zM25 1h1v1h-1zM31 1h2v1h-2zM3 2h1v1h-1zM25 2h1v1h-1zM32 2h1v1h-1zM1 3h3v1h-3zM5 3h1v1h-1zM7 3h1v1h-1zM11 3h2v1h-2zM15 3h3v1h-3zM21 3h2v1h-2zM25 3h3v1h-3zM32 3h1v1h-1zM0 4h1v1h-1zM3 4h1v1h-1zM5 4h2v1h-2zM8 4h1v1h-1zM10 4h1v1h-1zM13 4h1v1h-1zM15 4h1v1h-1zM18 4h1v1h-1zM20 4h1v1h-1zM22 4h2v1h-2zM25 4h1v1h-1zM28 4h1v1h-1zM32 4h1v1h-1zM0 5h1v1h-1zM3 5h1v1h-1zM5 5h1v1h-1zM10 5h1v1h-1zM13 5h1v1h-1zM15 5h1v1h-1zM18 5h1v1h-1zM20 5h2v1h-2zM25 5h1v1h-1zM28 5h1v1h-1zM32 5h1v1h-1zM36 5h2v1h-2zM1 6h3v1h-3zM5 6h1v1h-1zM11 6h2v1h-2zM15 6h1v1h-1zM18 6h1v1h-1zM21 6h2v1h-2zM25 6h3v1h-3zM31 6h3v1h-3zM36 6h2v1h-2z"/><path id="w50" d="M12 0h2v1h-2zM2 1h1v1h-1zM7 1h1v1h-1zM11 1h1v1h-1zM14 1h1v1h-1zM1 2h2v1h-2zM6 2h1v1h-1zM8 2h1v1h-1zM10 2h1v1h-1zM13 2h2v1h-2zM2 3h1v1h-1zM6 3h1v1h-1zM8 3h1v1h-1zM10 3h1v1h-1zM12 3h1v1h-1zM14 3h1v1h-1zM2 4h1v1h-1zM6 4h1v1h-1zM8 4h1v1h-1zM10 4h1v1h-1zM12 4h1v1h-1zM14 4h1v1h-1zM2 5h1v1h-1zM6 5h1v1h-1zM8 5h1v1h-1zM10 5h1v1h-1zM13 5h1v1h-1zM1 6h3v1h-3zM7 6h1v1h-1zM11 6h1v1h-1zM12 7h2v1h-2z"/><path id="w51" d="M3 1h1v1h-1zM3 2h1v1h-1zM1 3h3v1h-3zM5 3h1v1h-1zM8 3h1v1h-1zM10 3h3v1h-3zM16 3h3v1h-3zM0 4h1v1h-1zM3 4h1v1h-1zM5 4h1v1h-1zM8 4h1v1h-1zM10 4h1v1h-1zM13 4h1v1h-1zM15 4h1v1h-1zM18 4h1v1h-1zM0 5h1v1h-1zM3 5h1v1h-1zM6 5h3v1h-3zM10 5h1v1h-1zM13 5h1v1h-1zM15 5h1v1h-1zM17 5h2v1h-2zM21 5h2v1h-2zM1 6h3v1h-3zM5 6h1v1h-1zM8 6h1v1h-1zM10 6h1v1h-1zM13 6h1v1h-1zM16 6h1v1h-1zM18 6h1v1h-1zM21 6h2v1h-2zM6 7h2v1h-2z"/><path id="w52" d="M31 1h1v1h-1zM30 2h3v1h-3zM1 3h3v1h-3zM5 3h3v1h-3zM11 3h3v1h-3zM15 3h2v1h-2zM18 3h1v1h-1zM20 3h1v1h-1zM22 3h1v1h-1zM26 3h3v1h-3zM31 3h1v1h-1zM36 3h3v1h-3zM0 4h2v1h-2zM5 4h1v1h-1zM8 4h1v1h-1zM10 4h1v1h-1zM13 4h1v1h-1zM15 4h1v1h-1zM17 4h1v1h-1zM19 4h3v1h-3zM23 4h1v1h-1zM25 4h1v1h-1zM28 4h1v1h-1zM31 4h1v1h-1zM35 4h2v1h-2zM2 5h2v1h-2zM5 5h3v1h-3zM10 5h1v1h-1zM12 5h2v1h-2zM15 5h1v1h-1zM17 5h1v1h-1zM19 5h2v1h-2zM25 5h1v1h-1zM27 5h2v1h-2zM31 5h1v1h-1zM33 5h1v1h-1zM37 5h2v1h-2zM41 5h2v1h-2zM0 6h3v1h-3zM5 6h1v1h-1zM11 6h1v1h-1zM13 6h1v1h-1zM15 6h1v1h-1zM17 6h1v1h-1zM19 6h2v1h-2zM26 6h1v1h-1zM28 6h1v1h-1zM32 6h1v1h-1zM35 6h3v1h-3zM41 6h2v1h-2zM5 7h1v1h-1z"/><path id="w53" d="M0 1h4v1h-4zM10 1h1v1h-1zM2 2h1v1h-1zM10 2h1v1h-1zM1 3h2v1h-2zM10 3h3v1h-3zM16 3h2v1h-2zM20 3h3v1h-3zM26 3h3v1h-3zM3 4h1v1h-1zM10 4h1v1h-1zM13 4h1v1h-1zM15 4h1v1h-1zM18 4h1v1h-1zM20 4h1v1h-1zM23 4h1v1h-1zM25 4h2v1h-2zM0 5h1v1h-1zM3 5h1v1h-1zM10 5h1v1h-1zM13 5h1v1h-1zM15 5h1v1h-1zM18 5h1v1h-1zM20 5h3v1h-3zM27 5h2v1h-2zM1 6h2v1h-2zM10 6h1v1h-1zM13 6h1v1h-1zM16 6h2v1h-2zM20 6h1v1h-1zM25 6h3v1h-3zM20 7h1v1h-1z"/><path id="w54" d="M16 1h1v1h-1zM15 2h3v1h-3zM0 3h3v1h-3zM6 3h2v1h-2zM10 3h3v1h-3zM16 3h1v1h-1zM20 3h1v1h-1zM22 3h1v1h-1zM0 4h1v1h-1zM3 4h1v1h-1zM5 4h1v1h-1zM8 4h1v1h-1zM10 4h1v1h-1zM13 4h1v1h-1zM16 4h1v1h-1zM20 4h2v1h-2zM23 4h1v1h-1zM0 5h1v1h-1zM3 5h1v1h-1zM5 5h1v1h-1zM8 5h1v1h-1zM10 5h3v1h-3zM16 5h1v1h-1zM18 5h1v1h-1zM20 5h1v1h-1zM26 5h2v1h-2zM0 6h1v1h-1zM3 6h1v1h-1zM6 6h2v1h-2zM10 6h1v1h-1zM17 6h1v1h-1zM20 6h1v1h-1zM26 6h2v1h-2zM10 7h1v1h-1z"/><path id="w55" d="M7 0h2v1h-2zM0 1h4v1h-4zM6 1h1v1h-1zM9 1h1v1h-1zM2 2h1v1h-1zM5 2h1v1h-1zM8 2h2v1h-2zM1 3h2v1h-2zM5 3h1v1h-1zM7 3h1v1h-1zM9 3h1v1h-1zM3 4h1v1h-1zM5 4h1v1h-1zM7 4h1v1h-1zM9 4h1v1h-1zM0 5h1v1h-1zM3 5h1v1h-1zM5 5h1v1h-1zM8 5h1v1h-1zM1 6h2v1h-2zM6 6h1v1h-1zM7 7h2v1h-2z"/><path id="w56" d="M1 1h1v1h-1zM0 2h3v1h-3zM1 3h1v1h-1zM6 3h2v1h-2zM10 3h1v1h-1zM12 3h1v1h-1zM1 4h1v1h-1zM5 4h1v1h-1zM8 4h1v1h-1zM10 4h2v1h-2zM13 4h1v1h-1zM1 5h1v1h-1zM3 5h1v1h-1zM5 5h1v1h-1zM8 5h1v1h-1zM10 5h1v1h-1zM16 5h2v1h-2zM2 6h1v1h-1zM6 6h2v1h-2zM10 6h1v1h-1zM16 6h2v1h-2z"/><path id="w57" d="M3 1h1v1h-1zM3 2h1v1h-1zM1 3h3v1h-3zM6 3h3v1h-3zM10 3h3v1h-3zM0 4h1v1h-1zM3 4h1v1h-1zM5 4h1v1h-1zM8 4h1v1h-1zM10 4h1v1h-1zM13 4h1v1h-1zM0 5h1v1h-1zM3 5h1v1h-1zM5 5h1v1h-1zM7 5h2v1h-2zM10 5h1v1h-1zM13 5h1v1h-1zM16 5h2v1h-2zM1 6h3v1h-3zM6 6h1v1h-1zM8 6h1v1h-1zM10 6h1v1h-1zM13 6h1v1h-1zM16 6h2v1h-2z"/><path id="w58" d="M0 3h2v1h-2zM3 3h1v1h-1zM6 3h2v1h-2zM0 4h1v1h-1zM2 4h1v1h-1zM4 4h2v1h-2zM7 4h2v1h-2zM0 5h1v1h-1zM2 5h1v1h-1zM4 5h3v1h-3zM11 5h2v1h-2zM0 6h1v1h-1zM2 6h1v1h-1zM4 6h1v1h-1zM6 6h2v1h-2zM11 6h2v1h-2z"/><path id="w59" d="M5 1h1v1h-1zM5 2h1v1h-1zM0 3h1v1h-1zM3 3h1v1h-1zM5 3h1v1h-1zM8 3h1v1h-1zM0 4h1v1h-1zM3 4h1v1h-1zM5 4h3v1h-3zM0 5h1v1h-1zM3 5h1v1h-1zM5 5h1v1h-1zM8 5h1v1h-1zM1 6h3v1h-3zM5 6h1v1h-1zM8 6h1v1h-1z"/><path id="w60" d="M18 1h1v1h-1zM18 2h1v1h-1zM0 3h3v1h-3zM6 3h2v1h-2zM10 3h1v1h-1zM12 3h1v1h-1zM16 3h3v1h-3zM21 3h3v1h-3zM25 3h3v1h-3zM31 3h3v1h-3zM35 3h2v1h-2zM38 3h1v1h-1zM0 4h1v1h-1zM3 4h1v1h-1zM5 4h1v1h-1zM8 4h1v1h-1zM10 4h2v1h-2zM13 4h1v1h-1zM15 4h1v1h-1zM18 4h1v1h-1zM20 4h2v1h-2zM25 4h1v1h-1zM28 4h1v1h-1zM30 4h1v1h-1zM33 4h1v1h-1zM35 4h1v1h-1zM37 4h1v1h-1zM39 4h1v1h-1zM0 5h1v1h-1zM3 5h1v1h-1zM5 5h1v1h-1zM8 5h1v1h-1zM10 5h1v1h-1zM15 5h1v1h-1zM18 5h1v1h-1zM22 5h2v1h-2zM25 5h3v1h-3zM30 5h1v1h-1zM32 5h2v1h-2zM35 5h1v1h-1zM37 5h1v1h-1zM39 5h1v1h-1zM41 5h2v1h-2zM0 6h1v1h-1zM3 6h1v1h-1zM6 6h2v1h-2zM10 6h1v1h-1zM16 6h3v1h-3zM20 6h3v1h-3zM25 6h1v1h-1zM31 6h1v1h-1zM33 6h1v1h-1zM35 6h1v1h-1zM37 6h1v1h-1zM39 6h1v1h-1zM41 6h2v1h-2zM25 7h1v1h-1z"/><path id="w61" d="M3 1h1v1h-1zM16 1h1v1h-1zM15 2h3v1h-3zM3 3h1v1h-1zM5 3h1v1h-1zM8 3h1v1h-1zM11 3h3v1h-3zM16 3h1v1h-1zM21 3h3v1h-3zM25 3h3v1h-3zM31 3h3v1h-3zM35 3h2v1h-2zM38 3h1v1h-1zM3 4h1v1h-1zM5 4h1v1h-1zM8 4h1v1h-1zM10 4h2v1h-2zM16 4h1v1h-1zM20 4h2v1h-2zM25 4h1v1h-1zM28 4h1v1h-1zM30 4h1v1h-1zM33 4h1v1h-1zM35 4h1v1h-1zM37 4h1v1h-1zM39 4h1v1h-1zM3 5h1v1h-1zM5 5h1v1h-1zM8 5h1v1h-1zM12 5h2v1h-2zM16 5h1v1h-1zM18 5h1v1h-1zM22 5h2v1h-2zM25 5h3v1h-3zM30 5h1v1h-1zM32 5h2v1h-2zM35 5h1v1h-1zM37 5h1v1h-1zM39 5h1v1h-1zM41 5h2v1h-2zM1 6h1v1h-1zM3 6h1v1h-1zM6 6h3v1h-3zM10 6h3v1h-3zM17 6h1v1h-1zM20 6h3v1h-3zM25 6h1v1h-1zM31 6h1v1h-1zM33 6h1v1h-1zM35 6h1v1h-1zM37 6h1v1h-1zM39 6h1v1h-1zM41 6h2v1h-2zM2 7h1v1h-1zM25 7h1v1h-1z"/><path id="w62" d="M1 1h2v1h-2zM10 1h1v1h-1zM0 2h1v1h-1zM3 2h1v1h-1zM10 2h1v1h-1zM3 3h1v1h-1zM10 3h3v1h-3zM16 3h2v1h-2zM20 3h3v1h-3zM26 3h3v1h-3zM1 4h2v1h-2zM10 4h1v1h-1zM13 4h1v1h-1zM15 4h1v1h-1zM18 4h1v1h-1zM20 4h1v1h-1zM23 4h1v1h-1zM25 4h2v1h-2zM0 5h1v1h-1zM10 5h1v1h-1zM13 5h1v1h-1zM15 5h1v1h-1zM18 5h1v1h-1zM20 5h3v1h-3zM27 5h2v1h-2zM0 6h4v1h-4zM10 6h1v1h-1zM13 6h1v1h-1zM16 6h2v1h-2zM20 6h1v1h-1zM25 6h3v1h-3zM20 7h1v1h-1z"/><path id="w63" d="M5 1h1v1h-1zM11 1h2v1h-2zM5 2h1v1h-1zM12 2h1v1h-1zM1 3h3v1h-3zM5 3h3v1h-3zM12 3h1v1h-1zM0 4h2v1h-2zM5 4h1v1h-1zM8 4h1v1h-1zM12 4h1v1h-1zM2 5h2v1h-2zM5 5h1v1h-1zM8 5h1v1h-1zM12 5h1v1h-1zM16 5h2v1h-2zM0 6h3v1h-3zM5 6h3v1h-3zM11 6h3v1h-3zM16 6h2v1h-2z"/><path id="w64" d="M7 0h2v1h-2zM1 1h2v1h-2zM6 1h1v1h-1zM9 1h1v1h-1zM0 2h1v1h-1zM3 2h1v1h-1zM5 2h1v1h-1zM8 2h2v1h-2zM0 3h1v1h-1zM3 3h1v1h-1zM5 3h1v1h-1zM7 3h1v1h-1zM9 3h1v1h-1zM1 4h3v1h-3zM5 4h1v1h-1zM7 4h1v1h-1zM9 4h1v1h-1zM3 5h1v1h-1zM5 5h1v1h-1zM8 5h1v1h-1zM1 6h2v1h-2zM6 6h1v1h-1zM7 7h2v1h-2z"/><path id="w65" d="M2 1h1v1h-1zM1 3h2v1h-2zM5 3h3v1h-3zM10 3h3v1h-3zM16 3h3v1h-3zM2 4h1v1h-1zM5 4h1v1h-1zM8 4h1v1h-1zM10 4h1v1h-1zM13 4h1v1h-1zM15 4h2v1h-2zM2 5h1v1h-1zM5 5h1v1h-1zM8 5h1v1h-1zM10 5h3v1h-3zM17 5h2v1h-2zM21 5h2v1h-2zM1 6h3v1h-3zM5 6h1v1h-1zM8 6h1v1h-1zM10 6h1v1h-1zM15 6h3v1h-3zM21 6h2v1h-2zM10 7h1v1h-1z"/><path id="w66" d="M3 1h1v1h-1zM3 2h1v1h-1zM1 3h3v1h-3zM6 3h2v1h-2zM0 4h1v1h-1zM3 4h1v1h-1zM5 4h1v1h-1zM7 4h2v1h-2zM0 5h1v1h-1zM3 5h1v1h-1zM5 5h2v1h-2zM1 6h3v1h-3zM6 6h2v1h-2z"/><path id="w67" d="M26 1h1v1h-1zM25 2h3v1h-3zM0 3h1v1h-1zM2 3h1v1h-1zM6 3h2v1h-2zM11 3h2v1h-2zM16 3h2v1h-2zM20 3h3v1h-3zM26 3h1v1h-1zM0 4h2v1h-2zM3 4h1v1h-1zM5 4h1v1h-1zM7 4h2v1h-2zM10 4h1v1h-1zM15 4h1v1h-1zM17 4h2v1h-2zM20 4h1v1h-1zM23 4h1v1h-1zM26 4h1v1h-1zM0 5h1v1h-1zM5 5h2v1h-2zM10 5h1v1h-1zM15 5h2v1h-2zM20 5h1v1h-1zM23 5h1v1h-1zM26 5h1v1h-1zM28 5h1v1h-1zM31 5h2v1h-2zM0 6h1v1h-1zM6 6h2v1h-2zM11 6h2v1h-2zM16 6h2v1h-2zM20 6h1v1h-1zM23 6h1v1h-1zM27 6h1v1h-1zM31 6h2v1h-2z"/><path id="w68" d="M12 1h1v1h-1zM15 1h1v1h-1zM21 1h2v1h-2zM11 2h1v1h-1zM13 2h1v1h-1zM15 2h1v1h-1zM22 2h1v1h-1zM1 3h3v1h-3zM5 3h3v1h-3zM11 3h1v1h-1zM15 3h3v1h-3zM22 3h1v1h-1zM0 4h2v1h-2zM5 4h1v1h-1zM8 4h1v1h-1zM10 4h3v1h-3zM15 4h1v1h-1zM18 4h1v1h-1zM22 4h1v1h-1zM2 5h2v1h-2zM5 5h3v1h-3zM11 5h1v1h-1zM15 5h1v1h-1zM18 5h1v1h-1zM22 5h1v1h-1zM26 5h2v1h-2zM0 6h3v1h-3zM5 6h1v1h-1zM11 6h1v1h-1zM15 6h3v1h-3zM21 6h3v1h-3zM26 6h2v1h-2zM5 7h1v1h-1z"/><path id="w69" d="M5 1h1v1h-1zM11 1h2v1h-2zM5 2h1v1h-1zM12 2h1v1h-1zM0 3h1v1h-1zM3 3h1v1h-1zM5 3h3v1h-3zM12 3h1v1h-1zM0 4h1v1h-1zM3 4h1v1h-1zM5 4h1v1h-1zM8 4h1v1h-1zM12 4h1v1h-1zM0 5h1v1h-1zM3 5h1v1h-1zM5 5h1v1h-1zM8 5h1v1h-1zM12 5h1v1h-1zM16 5h2v1h-2zM1 6h3v1h-3zM5 6h3v1h-3zM11 6h3v1h-3zM16 6h2v1h-2z"/><path id="w70" d="M20 1h1v1h-1zM20 2h1v1h-1zM0 3h1v1h-1zM3 3h1v1h-1zM5 3h3v1h-3zM11 3h3v1h-3zM15 3h1v1h-1zM18 3h1v1h-1zM20 3h3v1h-3zM26 3h3v1h-3zM31 3h2v1h-2zM36 3h2v1h-2zM40 3h1v1h-1zM42 3h1v1h-1zM46 3h2v1h-2zM0 4h1v1h-1zM3 4h1v1h-1zM5 4h1v1h-1zM8 4h1v1h-1zM10 4h2v1h-2zM15 4h1v1h-1zM18 4h1v1h-1zM20 4h1v1h-1zM23 4h1v1h-1zM25 4h2v1h-2zM30 4h1v1h-1zM35 4h1v1h-1zM38 4h1v1h-1zM40 4h2v1h-2zM43 4h1v1h-1zM45 4h1v1h-1zM47 4h2v1h-2zM0 5h1v1h-1zM3 5h1v1h-1zM5 5h1v1h-1zM8 5h1v1h-1zM12 5h2v1h-2zM15 5h1v1h-1zM18 5h1v1h-1zM20 5h1v1h-1zM23 5h1v1h-1zM27 5h2v1h-2zM30 5h1v1h-1zM35 5h1v1h-1zM38 5h1v1h-1zM40 5h1v1h-1zM45 5h2v1h-2zM51 5h2v1h-2zM1 6h3v1h-3zM5 6h1v1h-1zM8 6h1v1h-1zM10 6h3v1h-3zM16 6h3v1h-3zM20 6h3v1h-3zM25 6h3v1h-3zM31 6h2v1h-2zM36 6h2v1h-2zM40 6h1v1h-1zM46 6h2v1h-2zM51 6h2v1h-2z"/><path id="w71" d="M3 1h1v1h-1zM15 1h1v1h-1zM21 1h2v1h-2zM32 1h1v1h-1zM3 2h1v1h-1zM15 2h1v1h-1zM22 2h1v1h-1zM31 2h2v1h-2zM1 3h3v1h-3zM5 3h3v1h-3zM11 3h3v1h-3zM15 3h3v1h-3zM22 3h1v1h-1zM32 3h1v1h-1zM0 4h1v1h-1zM3 4h1v1h-1zM5 4h1v1h-1zM8 4h1v1h-1zM10 4h2v1h-2zM15 4h1v1h-1zM18 4h1v1h-1zM22 4h1v1h-1zM25 4h4v1h-4zM32 4h1v1h-1zM0 5h1v1h-1zM3 5h1v1h-1zM5 5h1v1h-1zM8 5h1v1h-1zM12 5h2v1h-2zM15 5h1v1h-1zM18 5h1v1h-1zM22 5h1v1h-1zM32 5h1v1h-1zM36 5h2v1h-2zM1 6h3v1h-3zM5 6h1v1h-1zM8 6h1v1h-1zM10 6h3v1h-3zM15 6h3v1h-3zM21 6h3v1h-3zM31 6h3v1h-3zM36 6h2v1h-2z"/><path id="w72" d="M31 1h1v1h-1zM46 1h1v1h-1zM30 2h3v1h-3zM45 2h3v1h-3zM0 3h1v1h-1zM3 3h1v1h-1zM6 3h2v1h-2zM11 3h2v1h-2zM15 3h3v1h-3zM20 3h1v1h-1zM22 3h1v1h-1zM26 3h2v1h-2zM31 3h1v1h-1zM36 3h2v1h-2zM41 3h2v1h-2zM46 3h1v1h-1zM0 4h1v1h-1zM3 4h1v1h-1zM5 4h1v1h-1zM10 4h1v1h-1zM12 4h2v1h-2zM15 4h1v1h-1zM18 4h1v1h-1zM20 4h2v1h-2zM23 4h1v1h-1zM25 4h1v1h-1zM28 4h1v1h-1zM31 4h1v1h-1zM35 4h1v1h-1zM37 4h2v1h-2zM40 4h1v1h-1zM46 4h1v1h-1zM0 5h1v1h-1zM3 5h1v1h-1zM5 5h1v1h-1zM10 5h2v1h-2zM15 5h3v1h-3zM20 5h1v1h-1zM25 5h1v1h-1zM28 5h1v1h-1zM31 5h1v1h-1zM33 5h1v1h-1zM35 5h2v1h-2zM40 5h1v1h-1zM46 5h1v1h-1zM48 5h1v1h-1zM51 5h2v1h-2zM1 6h3v1h-3zM6 6h2v1h-2zM11 6h2v1h-2zM15 6h1v1h-1zM20 6h1v1h-1zM26 6h2v1h-2zM32 6h1v1h-1zM36 6h2v1h-2zM41 6h2v1h-2zM47 6h1v1h-1zM51 6h2v1h-2zM15 7h1v1h-1z"/><path id="w73" d="M5 1h1v1h-1zM11 1h2v1h-2zM5 2h1v1h-1zM12 2h1v1h-1zM0 3h3v1h-3zM5 3h3v1h-3zM12 3h1v1h-1zM0 4h1v1h-1zM3 4h1v1h-1zM5 4h1v1h-1zM8 4h1v1h-1zM12 4h1v1h-1zM0 5h3v1h-3zM5 5h1v1h-1zM8 5h1v1h-1zM12 5h1v1h-1zM16 5h2v1h-2zM0 6h1v1h-1zM5 6h3v1h-3zM11 6h3v1h-3zM16 6h2v1h-2zM0 7h1v1h-1z"/><path id="w74" d="M7 0h2v1h-2zM0 1h4v1h-4zM6 1h1v1h-1zM9 1h1v1h-1zM3 2h1v1h-1zM5 2h1v1h-1zM8 2h2v1h-2zM2 3h1v1h-1zM5 3h1v1h-1zM7 3h1v1h-1zM9 3h1v1h-1zM2 4h1v1h-1zM5 4h1v1h-1zM7 4h1v1h-1zM9 4h1v1h-1zM1 5h1v1h-1zM5 5h1v1h-1zM8 5h1v1h-1zM1 6h1v1h-1zM6 6h1v1h-1zM7 7h2v1h-2z"/><path id="w75" d="M5 1h1v1h-1zM11 1h2v1h-2zM5 2h1v1h-1zM12 2h1v1h-1zM0 3h1v1h-1zM2 3h1v1h-1zM5 3h3v1h-3zM12 3h1v1h-1zM0 4h2v1h-2zM3 4h1v1h-1zM5 4h1v1h-1zM8 4h1v1h-1zM12 4h1v1h-1zM0 5h1v1h-1zM5 5h1v1h-1zM8 5h1v1h-1zM12 5h1v1h-1zM16 5h2v1h-2zM0 6h1v1h-1zM5 6h3v1h-3zM11 6h3v1h-3zM16 6h2v1h-2z"/><path id="w76" d="M2 1h1v1h-1zM11 1h1v1h-1zM10 2h3v1h-3zM1 3h2v1h-2zM5 3h3v1h-3zM11 3h1v1h-1zM16 3h2v1h-2zM20 3h1v1h-1zM22 3h1v1h-1zM26 3h3v1h-3zM31 3h2v1h-2zM35 3h1v1h-1zM37 3h1v1h-1zM41 3h1v1h-1zM43 3h1v1h-1zM46 3h2v1h-2zM50 3h1v1h-1zM52 3h1v1h-1zM2 4h1v1h-1zM5 4h1v1h-1zM8 4h1v1h-1zM11 4h1v1h-1zM15 4h1v1h-1zM17 4h2v1h-2zM20 4h2v1h-2zM23 4h1v1h-1zM25 4h2v1h-2zM30 4h1v1h-1zM32 4h2v1h-2zM35 4h2v1h-2zM38 4h1v1h-1zM41 4h1v1h-1zM43 4h1v1h-1zM45 4h1v1h-1zM47 4h2v1h-2zM50 4h2v1h-2zM53 4h1v1h-1zM2 5h1v1h-1zM5 5h1v1h-1zM8 5h1v1h-1zM11 5h1v1h-1zM13 5h1v1h-1zM15 5h2v1h-2zM20 5h1v1h-1zM27 5h2v1h-2zM30 5h2v1h-2zM35 5h1v1h-1zM41 5h1v1h-1zM43 5h1v1h-1zM45 5h2v1h-2zM50 5h1v1h-1zM56 5h2v1h-2zM1 6h3v1h-3zM5 6h1v1h-1zM8 6h1v1h-1zM12 6h1v1h-1zM16 6h2v1h-2zM20 6h1v1h-1zM25 6h3v1h-3zM31 6h2v1h-2zM35 6h1v1h-1zM42 6h1v1h-1zM46 6h2v1h-2zM50 6h1v1h-1zM56 6h2v1h-2z"/><path id="w77" d="M6 1h2v1h-2zM13 1h1v1h-1zM7 2h1v1h-1zM13 2h1v1h-1zM1 3h2v1h-2zM7 3h1v1h-1zM11 3h3v1h-3zM0 4h1v1h-1zM3 4h1v1h-1zM7 4h1v1h-1zM10 4h1v1h-1zM13 4h1v1h-1zM0 5h1v1h-1zM3 5h1v1h-1zM7 5h1v1h-1zM10 5h1v1h-1zM13 5h1v1h-1zM16 5h2v1h-2zM1 6h2v1h-2zM6 6h3v1h-3zM11 6h3v1h-3zM16 6h2v1h-2z"/><path id="w78" d="M0 1h1v1h-1zM16 1h1v1h-1zM20 1h1v1h-1zM0 2h1v1h-1zM15 2h3v1h-3zM20 2h1v1h-1zM0 3h3v1h-3zM6 3h2v1h-2zM11 3h3v1h-3zM16 3h1v1h-1zM20 3h1v1h-1zM23 3h1v1h-1zM26 3h3v1h-3zM30 3h1v1h-1zM32 3h1v1h-1zM35 3h2v1h-2zM38 3h1v1h-1zM41 3h3v1h-3zM0 4h1v1h-1zM3 4h1v1h-1zM5 4h1v1h-1zM8 4h1v1h-1zM10 4h2v1h-2zM16 4h1v1h-1zM20 4h3v1h-3zM25 4h1v1h-1zM28 4h1v1h-1zM30 4h2v1h-2zM33 4h1v1h-1zM35 4h1v1h-1zM37 4h1v1h-1zM39 4h2v1h-2zM43 4h1v1h-1zM0 5h1v1h-1zM3 5h1v1h-1zM5 5h1v1h-1zM8 5h1v1h-1zM12 5h2v1h-2zM16 5h1v1h-1zM18 5h1v1h-1zM20 5h1v1h-1zM23 5h1v1h-1zM25 5h1v1h-1zM27 5h2v1h-2zM30 5h1v1h-1zM35 5h1v1h-1zM37 5h1v1h-1zM39 5h2v1h-2zM42 5h2v1h-2zM46 5h2v1h-2zM0 6h1v1h-1zM3 6h1v1h-1zM6 6h2v1h-2zM10 6h3v1h-3zM17 6h1v1h-1zM20 6h1v1h-1zM23 6h1v1h-1zM26 6h1v1h-1zM28 6h1v1h-1zM30 6h1v1h-1zM35 6h1v1h-1zM37 6h1v1h-1zM39 6h1v1h-1zM41 6h1v1h-1zM43 6h1v1h-1zM46 6h2v1h-2z"/><path id="w79" d="M3 1h1v1h-1zM15 1h1v1h-1zM37 1h1v1h-1zM41 1h2v1h-2zM47 1h1v1h-1zM52 1h1v1h-1zM56 1h2v1h-2zM61 1h1v1h-1zM15 2h1v1h-1zM42 2h1v1h-1zM46 2h1v1h-1zM48 2h1v1h-1zM57 2h1v1h-1zM60 2h3v1h-3zM3 3h1v1h-1zM5 3h1v1h-1zM8 3h1v1h-1zM10 3h3v1h-3zM15 3h1v1h-1zM18 3h1v1h-1zM21 3h2v1h-2zM25 3h2v1h-2zM28 3h1v1h-1zM31 3h3v1h-3zM36 3h2v1h-2zM42 3h1v1h-1zM46 3h1v1h-1zM51 3h2v1h-2zM57 3h1v1h-1zM61 3h1v1h-1zM66 3h2v1h-2zM70 3h1v1h-1zM72 3h1v1h-1zM3 4h1v1h-1zM5 4h1v1h-1zM8 4h1v1h-1zM10 4h1v1h-1zM13 4h1v1h-1zM15 4h3v1h-3zM20 4h1v1h-1zM22 4h2v1h-2zM25 4h1v1h-1zM27 4h1v1h-1zM29 4h2v1h-2zM33 4h1v1h-1zM37 4h1v1h-1zM42 4h1v1h-1zM45 4h3v1h-3zM52 4h1v1h-1zM57 4h1v1h-1zM61 4h1v1h-1zM65 4h1v1h-1zM67 4h2v1h-2zM70 4h2v1h-2zM73 4h1v1h-1zM3 5h1v1h-1zM5 5h1v1h-1zM8 5h1v1h-1zM10 5h1v1h-1zM13 5h1v1h-1zM15 5h1v1h-1zM18 5h1v1h-1zM20 5h2v1h-2zM25 5h1v1h-1zM27 5h1v1h-1zM29 5h2v1h-2zM32 5h2v1h-2zM37 5h1v1h-1zM42 5h1v1h-1zM46 5h1v1h-1zM52 5h1v1h-1zM57 5h1v1h-1zM61 5h1v1h-1zM63 5h1v1h-1zM65 5h2v1h-2zM70 5h1v1h-1zM76 5h2v1h-2zM1 6h1v1h-1zM3 6h1v1h-1zM6 6h3v1h-3zM10 6h1v1h-1zM13 6h1v1h-1zM15 6h1v1h-1zM18 6h1v1h-1zM21 6h2v1h-2zM25 6h1v1h-1zM27 6h1v1h-1zM29 6h1v1h-1zM31 6h1v1h-1zM33 6h1v1h-1zM36 6h3v1h-3zM41 6h3v1h-3zM46 6h1v1h-1zM51 6h3v1h-3zM56 6h3v1h-3zM62 6h1v1h-1zM66 6h2v1h-2zM70 6h1v1h-1zM76 6h2v1h-2zM2 7h1v1h-1z"/><path id="w80" d="M11 1h1v1h-1zM10 2h3v1h-3zM1 3h3v1h-3zM5 3h2v1h-2zM8 3h1v1h-1zM11 3h1v1h-1zM15 3h3v1h-3zM0 4h2v1h-2zM5 4h1v1h-1zM7 4h1v1h-1zM9 4h1v1h-1zM11 4h1v1h-1zM15 4h1v1h-1zM18 4h1v1h-1zM2 5h2v1h-2zM5 5h1v1h-1zM7 5h1v1h-1zM9 5h1v1h-1zM11 5h1v1h-1zM13 5h1v1h-1zM15 5h3v1h-3zM21 5h2v1h-2zM0 6h3v1h-3zM5 6h1v1h-1zM7 6h1v1h-1zM9 6h1v1h-1zM12 6h1v1h-1zM15 6h1v1h-1zM21 6h2v1h-2zM15 7h1v1h-1z"/><path id="w81" d="M5 1h1v1h-1zM11 1h2v1h-2zM5 2h1v1h-1zM12 2h1v1h-1zM1 3h2v1h-2zM5 3h3v1h-3zM12 3h1v1h-1zM0 4h1v1h-1zM5 4h1v1h-1zM8 4h1v1h-1zM12 4h1v1h-1zM0 5h1v1h-1zM5 5h1v1h-1zM8 5h1v1h-1zM12 5h1v1h-1zM16 5h2v1h-2zM1 6h2v1h-2zM5 6h3v1h-3zM11 6h3v1h-3zM16 6h2v1h-2z"/><path id="w82" d="M5 1h1v1h-1zM31 1h1v1h-1zM5 2h1v1h-1zM30 2h3v1h-3zM1 3h3v1h-3zM5 3h3v1h-3zM10 3h1v1h-1zM13 3h1v1h-1zM16 3h3v1h-3zM21 3h2v1h-2zM26 3h3v1h-3zM31 3h1v1h-1zM0 4h1v1h-1zM3 4h1v1h-1zM5 4h1v1h-1zM8 4h1v1h-1zM10 4h1v1h-1zM13 4h1v1h-1zM15 4h2v1h-2zM20 4h1v1h-1zM22 4h2v1h-2zM25 4h1v1h-1zM28 4h1v1h-1zM31 4h1v1h-1zM0 5h1v1h-1zM2 5h2v1h-2zM5 5h1v1h-1zM8 5h1v1h-1zM10 5h1v1h-1zM13 5h1v1h-1zM17 5h2v1h-2zM20 5h2v1h-2zM25 5h1v1h-1zM27 5h2v1h-2zM31 5h1v1h-1zM33 5h1v1h-1zM36 5h2v1h-2zM1 6h1v1h-1zM3 6h1v1h-1zM5 6h3v1h-3zM11 6h3v1h-3zM15 6h3v1h-3zM21 6h2v1h-2zM26 6h1v1h-1zM28 6h1v1h-1zM32 6h1v1h-1zM36 6h2v1h-2z"/><path id="w83" d="M5 1h1v1h-1zM11 1h2v1h-2zM5 2h1v1h-1zM12 2h1v1h-1zM0 3h1v1h-1zM3 3h1v1h-1zM5 3h3v1h-3zM12 3h1v1h-1zM1 4h2v1h-2zM5 4h1v1h-1zM8 4h1v1h-1zM12 4h1v1h-1zM1 5h2v1h-2zM5 5h1v1h-1zM8 5h1v1h-1zM12 5h1v1h-1zM16 5h2v1h-2zM0 6h1v1h-1zM3 6h1v1h-1zM5 6h3v1h-3zM11 6h3v1h-3zM16 6h2v1h-2z"/><path id="w84" d="M0 1h1v1h-1zM6 1h2v1h-2zM20 1h1v1h-1zM26 1h2v1h-2zM32 1h1v1h-1zM41 1h1v1h-1zM0 2h1v1h-1zM7 2h1v1h-1zM20 2h1v1h-1zM27 2h1v1h-1zM40 2h3v1h-3zM0 3h3v1h-3zM7 3h1v1h-1zM11 3h2v1h-2zM16 3h2v1h-2zM20 3h1v1h-1zM23 3h1v1h-1zM27 3h1v1h-1zM31 3h2v1h-2zM36 3h3v1h-3zM41 3h1v1h-1zM0 4h1v1h-1zM3 4h1v1h-1zM7 4h1v1h-1zM10 4h1v1h-1zM13 4h1v1h-1zM15 4h1v1h-1zM20 4h3v1h-3zM27 4h1v1h-1zM32 4h1v1h-1zM35 4h2v1h-2zM41 4h1v1h-1zM0 5h1v1h-1zM3 5h1v1h-1zM7 5h1v1h-1zM10 5h1v1h-1zM13 5h1v1h-1zM15 5h1v1h-1zM20 5h1v1h-1zM23 5h1v1h-1zM27 5h1v1h-1zM32 5h1v1h-1zM37 5h2v1h-2zM41 5h1v1h-1zM43 5h1v1h-1zM46 5h2v1h-2zM0 6h3v1h-3zM6 6h3v1h-3zM11 6h2v1h-2zM16 6h2v1h-2zM20 6h1v1h-1zM23 6h1v1h-1zM26 6h3v1h-3zM31 6h3v1h-3zM35 6h3v1h-3zM42 6h1v1h-1zM46 6h2v1h-2z"/><path id="w85" d="M1 1h1v1h-1zM31 1h1v1h-1zM0 2h3v1h-3zM30 2h3v1h-3zM1 3h1v1h-1zM5 3h1v1h-1zM7 3h1v1h-1zM10 3h1v1h-1zM13 3h1v1h-1zM15 3h3v1h-3zM21 3h2v1h-2zM26 3h3v1h-3zM31 3h1v1h-1zM36 3h2v1h-2zM1 4h1v1h-1zM5 4h2v1h-2zM8 4h1v1h-1zM10 4h1v1h-1zM13 4h1v1h-1zM15 4h1v1h-1zM18 4h1v1h-1zM20 4h1v1h-1zM25 4h1v1h-1zM28 4h1v1h-1zM31 4h1v1h-1zM35 4h1v1h-1zM37 4h2v1h-2zM1 5h1v1h-1zM3 5h1v1h-1zM5 5h1v1h-1zM10 5h1v1h-1zM13 5h1v1h-1zM15 5h1v1h-1zM18 5h1v1h-1zM20 5h1v1h-1zM25 5h1v1h-1zM27 5h2v1h-2zM31 5h1v1h-1zM33 5h1v1h-1zM35 5h2v1h-2zM41 5h2v1h-2zM2 6h1v1h-1zM5 6h1v1h-1zM11 6h3v1h-3zM15 6h1v1h-1zM18 6h1v1h-1zM21 6h2v1h-2zM26 6h1v1h-1zM28 6h1v1h-1zM32 6h1v1h-1zM36 6h2v1h-2zM41 6h2v1h-2z"/><path id="w86" d="M5 1h1v1h-1zM18 1h1v1h-1zM20 1h1v1h-1zM5 2h1v1h-1zM18 2h1v1h-1zM20 2h1v1h-1zM1 3h2v1h-2zM5 3h3v1h-3zM10 3h1v1h-1zM13 3h1v1h-1zM16 3h3v1h-3zM20 3h3v1h-3zM0 4h1v1h-1zM3 4h1v1h-1zM5 4h1v1h-1zM8 4h1v1h-1zM10 4h1v1h-1zM13 4h1v1h-1zM15 4h1v1h-1zM18 4h1v1h-1zM20 4h1v1h-1zM23 4h1v1h-1zM1 5h3v1h-3zM5 5h1v1h-1zM8 5h1v1h-1zM10 5h1v1h-1zM13 5h1v1h-1zM15 5h1v1h-1zM18 5h1v1h-1zM20 5h1v1h-1zM23 5h1v1h-1zM26 5h2v1h-2zM3 6h1v1h-1zM5 6h3v1h-3zM11 6h3v1h-3zM16 6h3v1h-3zM20 6h3v1h-3zM26 6h2v1h-2zM1 7h2v1h-2z"/><path id="w87" d="M6 1h2v1h-2zM11 1h2v1h-2zM7 2h1v1h-1zM12 2h1v1h-1zM1 3h3v1h-3zM7 3h1v1h-1zM12 3h1v1h-1zM0 4h1v1h-1zM3 4h1v1h-1zM7 4h1v1h-1zM12 4h1v1h-1zM0 5h1v1h-1zM2 5h2v1h-2zM7 5h1v1h-1zM12 5h1v1h-1zM16 5h2v1h-2zM1 6h1v1h-1zM3 6h1v1h-1zM6 6h3v1h-3zM11 6h3v1h-3zM16 6h2v1h-2z"/><path id="w88" d="M12 0h2v1h-2zM2 1h1v1h-1zM6 1h2v1h-2zM11 1h1v1h-1zM14 1h1v1h-1zM1 2h2v1h-2zM5 2h1v1h-1zM8 2h1v1h-1zM10 2h1v1h-1zM13 2h2v1h-2zM2 3h1v1h-1zM8 3h1v1h-1zM10 3h1v1h-1zM12 3h1v1h-1zM14 3h1v1h-1zM2 4h1v1h-1zM6 4h2v1h-2zM10 4h1v1h-1zM12 4h1v1h-1zM14 4h1v1h-1zM2 5h1v1h-1zM5 5h1v1h-1zM10 5h1v1h-1zM13 5h1v1h-1zM1 6h3v1h-3zM5 6h4v1h-4zM11 6h1v1h-1zM12 7h2v1h-2z"/><path id="w89" d="M1 1h2v1h-2zM7 1h1v1h-1zM16 1h1v1h-1zM2 2h1v1h-1zM15 2h3v1h-3zM2 3h1v1h-1zM6 3h2v1h-2zM11 3h3v1h-3zM16 3h1v1h-1zM2 4h1v1h-1zM7 4h1v1h-1zM10 4h2v1h-2zM16 4h1v1h-1zM2 5h1v1h-1zM7 5h1v1h-1zM12 5h2v1h-2zM16 5h1v1h-1zM18 5h1v1h-1zM21 5h2v1h-2zM1 6h3v1h-3zM6 6h3v1h-3zM10 6h3v1h-3zM17 6h1v1h-1zM21 6h2v1h-2z"/><path id="w90" d="M3 1h1v1h-1zM21 1h2v1h-2zM3 2h1v1h-1zM22 2h1v1h-1zM1 3h3v1h-3zM5 3h3v1h-3zM11 3h3v1h-3zM15 3h1v1h-1zM19 3h1v1h-1zM22 3h1v1h-1zM0 4h1v1h-1zM3 4h1v1h-1zM5 4h1v1h-1zM8 4h1v1h-1zM10 4h2v1h-2zM15 4h1v1h-1zM17 4h1v1h-1zM19 4h1v1h-1zM22 4h1v1h-1zM0 5h1v1h-1zM3 5h1v1h-1zM5 5h1v1h-1zM8 5h1v1h-1zM12 5h2v1h-2zM15 5h1v1h-1zM17 5h1v1h-1zM19 5h1v1h-1zM22 5h1v1h-1zM26 5h2v1h-2zM1 6h3v1h-3zM5 6h1v1h-1zM8 6h1v1h-1zM10 6h3v1h-3zM16 6h1v1h-1zM18 6h1v1h-1zM21 6h3v1h-3zM26 6h2v1h-2z"/><path id="w91" d="M7 0h2v1h-2zM2 1h1v1h-1zM6 1h1v1h-1zM9 1h1v1h-1zM1 2h2v1h-2zM5 2h1v1h-1zM8 2h2v1h-2zM2 3h1v1h-1zM5 3h1v1h-1zM7 3h1v1h-1zM9 3h1v1h-1zM2 4h1v1h-1zM5 4h1v1h-1zM7 4h1v1h-1zM9 4h1v1h-1zM2 5h1v1h-1zM5 5h1v1h-1zM8 5h1v1h-1zM1 6h3v1h-3zM6 6h1v1h-1zM7 7h2v1h-2z"/><path id="w92" d="M0 1h1v1h-1zM0 2h1v1h-1zM0 3h3v1h-3zM6 3h2v1h-2zM11 3h2v1h-2zM16 3h2v1h-2zM20 3h3v1h-3zM26 3h3v1h-3zM0 4h1v1h-1zM3 4h1v1h-1zM5 4h1v1h-1zM8 4h1v1h-1zM10 4h1v1h-1zM13 4h1v1h-1zM15 4h1v1h-1zM18 4h1v1h-1zM20 4h1v1h-1zM23 4h1v1h-1zM25 4h2v1h-2zM0 5h1v1h-1zM3 5h1v1h-1zM5 5h1v1h-1zM8 5h1v1h-1zM11 5h3v1h-3zM15 5h1v1h-1zM18 5h1v1h-1zM20 5h1v1h-1zM23 5h1v1h-1zM27 5h2v1h-2zM31 5h2v1h-2zM0 6h3v1h-3zM6 6h2v1h-2zM13 6h1v1h-1zM16 6h2v1h-2zM20 6h1v1h-1zM23 6h1v1h-1zM25 6h3v1h-3zM31 6h2v1h-2zM11 7h2v1h-2z"/><path id="w93" d="M1 3h2v1h-2zM5 3h1v1h-1zM8 3h1v1h-1zM10 3h2v1h-2zM13 3h1v1h-1zM15 3h1v1h-1zM17 3h1v1h-1zM20 3h1v1h-1zM23 3h1v1h-1zM0 4h1v1h-1zM5 4h1v1h-1zM8 4h1v1h-1zM10 4h1v1h-1zM12 4h1v1h-1zM14 4h3v1h-3zM18 4h1v1h-1zM20 4h1v1h-1zM23 4h1v1h-1zM0 5h1v1h-1zM6 5h3v1h-3zM10 5h1v1h-1zM12 5h1v1h-1zM14 5h2v1h-2zM20 5h1v1h-1zM23 5h1v1h-1zM26 5h2v1h-2zM1 6h2v1h-2zM5 6h1v1h-1zM8 6h1v1h-1zM10 6h1v1h-1zM12 6h1v1h-1zM14 6h2v1h-2zM21 6h3v1h-3zM26 6h2v1h-2zM6 7h2v1h-2z"/><path id="w94" d="M10 1h1v1h-1zM10 2h1v1h-1zM0 3h1v1h-1zM4 3h1v1h-1zM6 3h2v1h-2zM10 3h3v1h-3zM0 4h1v1h-1zM2 4h1v1h-1zM4 4h2v1h-2zM7 4h2v1h-2zM10 4h1v1h-1zM13 4h1v1h-1zM0 5h1v1h-1zM2 5h1v1h-1zM4 5h3v1h-3zM10 5h1v1h-1zM13 5h1v1h-1zM16 5h2v1h-2zM1 6h1v1h-1zM3 6h1v1h-1zM6 6h2v1h-2zM10 6h3v1h-3zM16 6h2v1h-2z"/><path id="w95" d="M2 1h1v1h-1zM1 3h2v1h-2zM5 3h1v1h-1zM8 3h1v1h-1zM2 4h1v1h-1zM6 4h2v1h-2zM2 5h1v1h-1zM6 5h2v1h-2zM11 5h2v1h-2zM1 6h3v1h-3zM5 6h1v1h-1zM8 6h1v1h-1zM11 6h2v1h-2z"/><path id="w96" d="M17 1h1v1h-1zM21 1h1v1h-1zM20 2h3v1h-3zM0 3h2v1h-2zM3 3h1v1h-1zM6 3h3v1h-3zM10 3h3v1h-3zM16 3h2v1h-2zM21 3h1v1h-1zM25 3h1v1h-1zM28 3h1v1h-1zM0 4h1v1h-1zM2 4h1v1h-1zM4 4h2v1h-2zM8 4h1v1h-1zM10 4h1v1h-1zM13 4h1v1h-1zM17 4h1v1h-1zM21 4h1v1h-1zM25 4h1v1h-1zM28 4h1v1h-1zM0 5h1v1h-1zM2 5h1v1h-1zM4 5h2v1h-2zM7 5h2v1h-2zM10 5h1v1h-1zM13 5h1v1h-1zM17 5h1v1h-1zM21 5h1v1h-1zM23 5h1v1h-1zM25 5h1v1h-1zM28 5h1v1h-1zM31 5h2v1h-2zM0 6h1v1h-1zM2 6h1v1h-1zM4 6h1v1h-1zM6 6h1v1h-1zM8 6h1v1h-1zM10 6h1v1h-1zM13 6h1v1h-1zM16 6h3v1h-3zM22 6h1v1h-1zM26 6h3v1h-3zM31 6h2v1h-2z"/><path id="w97" d="M12 1h1v1h-1zM11 2h1v1h-1zM13 2h1v1h-1zM1 3h3v1h-3zM6 3h3v1h-3zM11 3h1v1h-1zM16 3h2v1h-2zM0 4h2v1h-2zM5 4h1v1h-1zM8 4h1v1h-1zM10 4h3v1h-3zM15 4h1v1h-1zM17 4h2v1h-2zM2 5h2v1h-2zM5 5h1v1h-1zM7 5h2v1h-2zM11 5h1v1h-1zM15 5h2v1h-2zM21 5h2v1h-2zM0 6h3v1h-3zM6 6h1v1h-1zM8 6h1v1h-1zM11 6h1v1h-1zM16 6h2v1h-2zM21 6h2v1h-2z"/><path id="w98" d="M0 1h1v1h-1zM6 1h1v1h-1zM11 1h1v1h-1zM0 2h1v1h-1zM5 2h3v1h-3zM10 2h3v1h-3zM0 3h3v1h-3zM6 3h1v1h-1zM11 3h1v1h-1zM15 3h3v1h-3zM0 4h1v1h-1zM3 4h1v1h-1zM6 4h1v1h-1zM11 4h1v1h-1zM15 4h1v1h-1zM18 4h1v1h-1zM0 5h1v1h-1zM3 5h1v1h-1zM6 5h1v1h-1zM8 5h1v1h-1zM11 5h1v1h-1zM13 5h1v1h-1zM15 5h3v1h-3zM21 5h2v1h-2zM0 6h1v1h-1zM3 6h1v1h-1zM7 6h1v1h-1zM12 6h1v1h-1zM15 6h1v1h-1zM21 6h2v1h-2zM15 7h1v1h-1z"/><path id="w99" d="M1 3h3v1h-3zM6 3h2v1h-2zM11 3h2v1h-2zM15 3h1v1h-1zM17 3h1v1h-1zM21 3h2v1h-2zM0 4h2v1h-2zM5 4h1v1h-1zM10 4h1v1h-1zM13 4h1v1h-1zM15 4h2v1h-2zM18 4h1v1h-1zM20 4h1v1h-1zM22 4h2v1h-2zM2 5h2v1h-2zM5 5h1v1h-1zM10 5h1v1h-1zM13 5h1v1h-1zM15 5h1v1h-1zM20 5h2v1h-2zM26 5h2v1h-2zM0 6h3v1h-3zM6 6h2v1h-2zM11 6h2v1h-2zM15 6h1v1h-1zM21 6h2v1h-2zM26 6h2v1h-2z"/><path id="w100" d="M18 1h1v1h-1zM18 2h1v1h-1zM1 3h3v1h-3zM6 3h2v1h-2zM10 3h3v1h-3zM16 3h3v1h-3zM21 3h2v1h-2zM25 3h1v1h-1zM27 3h1v1h-1zM31 3h3v1h-3zM36 3h2v1h-2zM41 3h2v1h-2zM45 3h1v1h-1zM47 3h1v1h-1zM51 3h2v1h-2zM0 4h2v1h-2zM5 4h1v1h-1zM7 4h2v1h-2zM10 4h1v1h-1zM13 4h1v1h-1zM15 4h1v1h-1zM18 4h1v1h-1zM20 4h1v1h-1zM22 4h2v1h-2zM25 4h2v1h-2zM28 4h1v1h-1zM30 4h2v1h-2zM35 4h1v1h-1zM40 4h1v1h-1zM43 4h1v1h-1zM45 4h2v1h-2zM48 4h1v1h-1zM50 4h1v1h-1zM52 4h2v1h-2zM2 5h2v1h-2zM5 5h2v1h-2zM10 5h1v1h-1zM13 5h1v1h-1zM15 5h1v1h-1zM18 5h1v1h-1zM20 5h2v1h-2zM25 5h1v1h-1zM32 5h2v1h-2zM35 5h1v1h-1zM40 5h1v1h-1zM43 5h1v1h-1zM45 5h1v1h-1zM50 5h2v1h-2zM56 5h2v1h-2zM0 6h3v1h-3zM6 6h2v1h-2zM10 6h1v1h-1zM13 6h1v1h-1zM16 6h3v1h-3zM21 6h2v1h-2zM25 6h1v1h-1zM30 6h3v1h-3zM36 6h2v1h-2zM41 6h2v1h-2zM45 6h1v1h-1zM51 6h2v1h-2zM56 6h2v1h-2z"/><path id="w101" d="M21 1h2v1h-2zM31 1h1v1h-1zM37 1h1v1h-1zM22 2h1v1h-1zM30 2h3v1h-3zM1 3h2v1h-2zM6 3h3v1h-3zM11 3h2v1h-2zM16 3h3v1h-3zM22 3h1v1h-1zM26 3h3v1h-3zM31 3h1v1h-1zM36 3h2v1h-2zM41 3h2v1h-2zM45 3h3v1h-3zM51 3h3v1h-3zM0 4h1v1h-1zM2 4h2v1h-2zM5 4h2v1h-2zM10 4h1v1h-1zM15 4h1v1h-1zM18 4h1v1h-1zM22 4h1v1h-1zM25 4h1v1h-1zM28 4h1v1h-1zM31 4h1v1h-1zM37 4h1v1h-1zM40 4h1v1h-1zM43 4h1v1h-1zM45 4h1v1h-1zM48 4h1v1h-1zM50 4h2v1h-2zM0 5h2v1h-2zM7 5h2v1h-2zM10 5h1v1h-1zM15 5h1v1h-1zM17 5h2v1h-2zM22 5h1v1h-1zM25 5h1v1h-1zM27 5h2v1h-2zM31 5h1v1h-1zM33 5h1v1h-1zM37 5h1v1h-1zM40 5h1v1h-1zM43 5h1v1h-1zM45 5h1v1h-1zM48 5h1v1h-1zM52 5h2v1h-2zM56 5h2v1h-2zM1 6h2v1h-2zM5 6h3v1h-3zM11 6h2v1h-2zM16 6h1v1h-1zM18 6h1v1h-1zM21 6h3v1h-3zM26 6h1v1h-1zM28 6h1v1h-1zM32 6h1v1h-1zM36 6h3v1h-3zM41 6h2v1h-2zM45 6h1v1h-1zM48 6h1v1h-1zM50 6h3v1h-3zM56 6h2v1h-2z"/><path id="w102" d="M3 1h1v1h-1zM5 1h1v1h-1zM3 2h1v1h-1zM5 2h1v1h-1zM1 3h3v1h-3zM5 3h3v1h-3zM0 4h1v1h-1zM3 4h1v1h-1zM5 4h1v1h-1zM8 4h1v1h-1zM0 5h1v1h-1zM3 5h1v1h-1zM5 5h1v1h-1zM8 5h1v1h-1zM11 5h2v1h-2zM1 6h3v1h-3zM5 6h3v1h-3zM11 6h2v1h-2z"/><path id="w103" d="M10 1h1v1h-1zM16 1h2v1h-2zM10 2h1v1h-1zM17 2h1v1h-1zM0 3h1v1h-1zM4 3h4v1h-4zM10 3h3v1h-3zM17 3h1v1h-1zM0 4h1v1h-1zM2 4h1v1h-1zM4 4h2v1h-2zM8 4h1v1h-1zM10 4h1v1h-1zM13 4h1v1h-1zM17 4h1v1h-1zM0 5h1v1h-1zM2 5h1v1h-1zM4 5h4v1h-4zM10 5h1v1h-1zM13 5h1v1h-1zM17 5h1v1h-1zM21 5h2v1h-2zM1 6h1v1h-1zM3 6h1v1h-1zM5 6h1v1h-1zM10 6h3v1h-3zM16 6h3v1h-3zM21 6h2v1h-2zM5 7h1v1h-1z"/><path id="w104" d="M2 1h1v1h-1zM12 1h1v1h-1zM11 2h1v1h-1zM13 2h1v1h-1zM1 3h2v1h-2zM5 3h3v1h-3zM11 3h1v1h-1zM16 3h2v1h-2zM2 4h1v1h-1zM5 4h1v1h-1zM8 4h1v1h-1zM10 4h3v1h-3zM15 4h1v1h-1zM18 4h1v1h-1zM2 5h1v1h-1zM5 5h1v1h-1zM8 5h1v1h-1zM11 5h1v1h-1zM15 5h1v1h-1zM18 5h1v1h-1zM1 6h3v1h-3zM5 6h1v1h-1zM8 6h1v1h-1zM11 6h1v1h-1zM16 6h2v1h-2z"/></defs>
<g fill="#000" shape-rendering="crispEdges"><use href="#w0" x="1478" y="8"/><use href="#w1" x="3" y="948"/><use href="#w2" x="25" y="1731"/><use href="#w3" x="30" y="1541"/><use href="#w4" x="35" y="1351"/><use href="#w5" x="45" y="1161"/><use href="#w6" x="40" y="971"/><use href="#w7" x="35" y="780"/><use href="#w8" x="30" y="590"/><use href="#w9" x="25" y="400"/><use href="#w10" x="20" y="210"/><use href="#w11" x="10" y="20"/><use href="#w12" x="3091" y="49"/><use href="#w13" x="3111" y="71"/><use href="#w14" x="3071" y="93"/><use href="#w15" x="60" y="1739"/><use href="#w16" x="52" y="1747"/><use href="#w17" x="45" y="1755"/><use href="#w18" x="57" y="1763"/><use href="#w19" x="50" y="1771"/><use href="#w20" x="68" y="1739"/><use href="#w21" x="65" y="1747"/><use href="#w22" x="53" y="1755"/><use href="#w23" x="65" y="1763"/><use href="#w19" x="58" y="1771"/><use href="#w15" x="77" y="1739"/><use href="#w24" x="77" y="1747"/><use href="#w25" x="39" y="1755"/><use href="#w26" x="74" y="1763"/><use href="#w19" x="67" y="1771"/><use href="#w15" x="85" y="1739"/><use href="#w27" x="75" y="1747"/><use href="#w28" x="75" y="1755"/><use href="#w23" x="82" y="1763"/><use href="#w19" x="75" y="1771"/><use href="#w15" x="94" y="1739"/><use href="#w29" x="89" y="1747"/><use href="#w30" x="86" y="1755"/><use href="#w27" x="84" y="1763"/><use href="#w28" x="84" y="1771"/><use href="#w23" x="91" y="1779"/><use href="#w31" x="84" y="1787"/><use href="#w32" x="102" y="1739"/><use href="#w21" x="99" y="1747"/><use href="#w33" x="82" y="1755"/><use href="#w23" x="99" y="1763"/><use href="#w19" x="92" y="1771"/><use href="#w32" x="111" y="1739"/><use href="#w34" x="101" y="1747"/><use href="#w35" x="93" y="1755"/><use href="#w23" x="108" y="1763"/><use href="#w36" x="101" y="1771"/><use href="#w15" x="119" y="1739"/><use href="#w37" x="104" y="1747"/><use href="#w38" x="114" y="1755"/><use href="#w39" x="116" y="1763"/><use href="#w23" x="116" y="1771"/><use href="#w19" x="109" y="1779"/><use href="#w32" x="128" y="1739"/><use href="#w16" x="120" y="1747"/><use href="#w17" x="113" y="1755"/><use href="#w18" x="125" y="1763"/><use href="#w40" x="120" y="1771"/><use href="#w15" x="136" y="1739"/><use href="#w41" x="123" y="1747"/><use href="#w27" x="126" y="1755"/><use href="#w28" x="126" y="1763"/><use href="#w23" x="133" y="1771"/><use href="#w19" x="126" y="1779"/><use href="#w42" x="145" y="1739"/><use href="#w41" x="132" y="1747"/><use href="#w27" x="135" y="1755"/><use href="#w28" x="135" y="1763"/><use href="#w23" x="142" y="1771"/><use href="#w19" x="135" y="1779"/><use href="#w43" x="151" y="1739"/><use href="#w44" x="149" y="1747"/><use href="#w27" x="144" y="1755"/><use href="#w28" x="144" y="1763"/><use href="#w23" x="151" y="1771"/><use href="#w36" x="144" y="1779"/><use href="#w45" x="159" y="1739"/><use href="#w46" x="157" y="1747"/><use href="#w47" x="144" y="1755"/><use href="#w26" x="159" y="1763"/><use href="#w48" x="152" y="1771"/><use href="#w43" x="168" y="1739"/><use href="#w27" x="161" y="1747"/><use href="#w49" x="156" y="1755"/><use href="#w26" x="168" y="1763"/><use href="#w19" x="161" y="1771"/><use href="#w50" x="176" y="1739"/><use href="#w51" x="171" y="1747"/><use href="#w52" x="161" y="1755"/><use href="#w18" x="176" y="1763"/><use href="#w53" x="169" y="1771"/><use href="#w15" x="188" y="1739"/><use href="#w54" x="178" y="1747"/><use href="#w52" x="170" y="1755"/><use href="#w18" x="185" y="1763"/><use href="#w48" x="178" y="1771"/><use href="#w55" x="196" y="1739"/><use href="#w56" x="191" y="1747"/><use href="#w57" x="191" y="1755"/><use href="#w58" x="193" y="1763"/><use href="#w59" x="196" y="1771"/><use href="#w36" x="186" y="1779"/><use href="#w20" x="205" y="1739"/><use href="#w27" x="195" y="1747"/><use href="#w28" x="195" y="1755"/><use href="#w23" x="202" y="1763"/><use href="#w48" x="195" y="1771"/><use href="#w15" x="213" y="1739"/><use href="#w21" x="210" y="1747"/><use href="#w22" x="198" y="1755"/><use href="#w23" x="210" y="1763"/><use href="#w36" x="203" y="1771"/><use href="#w50" x="219" y="1739"/><use href="#w21" x="219" y="1747"/><use href="#w60" x="204" y="1755"/><use href="#w18" x="219" y="1763"/><use href="#w53" x="212" y="1771"/><use href="#w43" x="228" y="1739"/><use href="#w27" x="221" y="1747"/><use href="#w61" x="213" y="1755"/><use href="#w26" x="228" y="1763"/><use href="#w62" x="221" y="1771"/><use href="#w42" x="239" y="1739"/><use href="#w63" x="234" y="1747"/><use href="#w47" x="221" y="1755"/><use href="#w26" x="236" y="1763"/><use href="#w19" x="229" y="1771"/><use href="#w43" x="245" y="1739"/><use href="#w21" x="245" y="1747"/><use href="#w22" x="233" y="1755"/><use href="#w23" x="245" y="1763"/><use href="#w62" x="238" y="1771"/><use href="#w64" x="256" y="1739"/><use href="#w27" x="246" y="1747"/><use href="#w28" x="246" y="1755"/><use href="#w23" x="253" y="1763"/><use href="#w19" x="246" y="1771"/><use href="#w50" x="262" y="1739"/><use href="#w27" x="255" y="1747"/><use href="#w65" x="257" y="1755"/><use href="#w66" x="265" y="1763"/><use href="#w40" x="257" y="1771"/><use href="#w64" x="273" y="1739"/><use href="#w27" x="263" y="1747"/><use href="#w28" x="263" y="1755"/><use href="#w23" x="270" y="1763"/><use href="#w31" x="263" y="1771"/><use href="#w50" x="279" y="1739"/><use href="#w21" x="279" y="1747"/><use href="#w60" x="264" y="1755"/><use href="#w18" x="279" y="1763"/><use href="#w62" x="272" y="1771"/><use href="#w32" x="290" y="1739"/><use href="#w24" x="290" y="1747"/><use href="#w25" x="252" y="1755"/><use href="#w26" x="287" y="1763"/><use href="#w19" x="280" y="1771"/><use href="#w15" x="299" y="1739"/><use href="#w46" x="294" y="1747"/><use href="#w47" x="281" y="1755"/><use href="#w26" x="296" y="1763"/><use href="#w36" x="289" y="1771"/><use href="#w15" x="307" y="1739"/><use href="#w67" x="294" y="1747"/><use href="#w30" x="299" y="1755"/><use href="#w28" x="297" y="1763"/><use href="#w23" x="304" y="1771"/><use href="#w62" x="297" y="1779"/><use href="#w45" x="313" y="1739"/><use href="#w27" x="306" y="1747"/><use href="#w68" x="306" y="1755"/><use href="#w23" x="313" y="1763"/><use href="#w62" x="306" y="1771"/><use href="#w32" x="325" y="1739"/><use href="#w69" x="320" y="1747"/><use href="#w70" x="302" y="1755"/><use href="#w18" x="322" y="1763"/><use href="#w19" x="315" y="1771"/><use href="#w64" x="333" y="1739"/><use href="#w71" x="318" y="1747"/><use href="#w72" x="310" y="1755"/><use href="#w23" x="330" y="1763"/><use href="#w53" x="323" y="1771"/><use href="#w15" x="342" y="1739"/><use href="#w51" x="334" y="1747"/><use href="#w52" x="324" y="1755"/><use href="#w18" x="339" y="1763"/><use href="#w40" x="334" y="1771"/><use href="#w42" x="350" y="1739"/><use href="#w21" x="347" y="1747"/><use href="#w22" x="335" y="1755"/><use href="#w23" x="347" y="1763"/><use href="#w19" x="340" y="1771"/><use href="#w55" x="359" y="1739"/><use href="#w73" x="354" y="1747"/><use href="#w47" x="341" y="1755"/><use href="#w26" x="356" y="1763"/><use href="#w40" x="351" y="1771"/><use href="#w74" x="367" y="1739"/><use href="#w73" x="362" y="1747"/><use href="#w47" x="349" y="1755"/><use href="#w26" x="364" y="1763"/><use href="#w36" x="357" y="1771"/><use href="#w74" x="376" y="1739"/><use href="#w75" x="371" y="1747"/><use href="#w76" x="351" y="1755"/><use href="#w23" x="373" y="1763"/><use href="#w40" x="368" y="1771"/><use href="#w15" x="384" y="1739"/><use href="#w30" x="376" y="1747"/><use href="#w27" x="374" y="1755"/><use href="#w28" x="374" y="1763"/><use href="#w23" x="381" y="1771"/><use href="#w40" x="376" y="1779"/><use href="#w42" x="393" y="1739"/><use href="#w77" x="388" y="1747"/><use href="#w30" x="385" y="1755"/><use href="#w27" x="383" y="1763"/><use href="#w28" x="383" y="1771"/><use href="#w23" x="390" y="1779"/><use href="#w62" x="383" y="1787"/><use href="#w32" x="402" y="1739"/><use href="#w67" x="389" y="1747"/><use href="#w30" x="394" y="1755"/><use href="#w27" x="392" y="1763"/><use href="#w28" x="392" y="1771"/><use href="#w23" x="399" y="1779"/><use href="#w48" x="392" y="1787"/><use href="#w32" x="410" y="1739"/><use href="#w21" x="407" y="1747"/><use href="#w60" x="392" y="1755"/><use href="#w18" x="407" y="1763"/><use href="#w40" x="402" y="1771"/><use href="#w50" x="416" y="1739"/><use href="#w46" x="414" y="1747"/><use href="#w47" x="401" y="1755"/><use href="#w26" x="416" y="1763"/><use href="#w53" x="409" y="1771"/><use href="#w50" x="424" y="1739"/><use href="#w34" x="417" y="1747"/><use href="#w35" x="409" y="1755"/><use href="#w23" x="424" y="1763"/><use href="#w53" x="417" y="1771"/><use href="#w15" x="436" y="1739"/><use href="#w34" x="426" y="1747"/><use href="#w35" x="418" y="1755"/><use href="#w23" x="433" y="1763"/><use href="#w19" x="426" y="1771"/><use href="#w20" x="444" y="1739"/><use href="#w44" x="439" y="1747"/><use href="#w27" x="434" y="1755"/><use href="#w28" x="434" y="1763"/><use href="#w23" x="441" y="1771"/><use href="#w53" x="434" y="1779"/><use href="#w55" x="453" y="1739"/><use href="#w56" x="448" y="1747"/><use href="#w57" x="448" y="1755"/><use href="#w58" x="450" y="1763"/><use href="#w59" x="453" y="1771"/><use href="#w19" x="443" y="1779"/><use href="#w15" x="461" y="1739"/><use href="#w77" x="456" y="1747"/><use href="#w30" x="453" y="1755"/><use href="#w27" x="451" y="1763"/><use href="#w28" x="451" y="1771"/><use href="#w23" x="458" y="1779"/><use href="#w48" x="451" y="1787"/><use href="#w15" x="470" y="1739"/><use href="#w24" x="470" y="1747"/><use href="#w25" x="432" y="1755"/><use href="#w26" x="467" y="1763"/><use href="#w19" x="460" y="1771"/><use href="#w20" x="478" y="1739"/><use href="#w78" x="458" y="1747"/><use href="#w79" x="443" y="1755"/><use href="#w18" x="475" y="1763"/><use href="#w36" x="468" y="1771"/><use href="#w42" x="487" y="1739"/><use href="#w27" x="477" y="1747"/><use href="#w61" x="469" y="1755"/><use href="#w26" x="484" y="1763"/><use href="#w53" x="477" y="1771"/><use href="#w15" x="496" y="1739"/><use href="#w80" x="488" y="1747"/><use href="#w27" x="486" y="1755"/><use href="#w28" x="486" y="1763"/><use href="#w23" x="493" y="1771"/><use href="#w53" x="486" y="1779"/><use href="#w64" x="504" y="1739"/><use href="#w81" x="499" y="1747"/><use href="#w82" x="489" y="1755"/><use href="#w26" x="501" y="1763"/><use href="#w40" x="496" y="1771"/><use href="#w15" x="513" y="1739"/><use href="#w83" x="508" y="1747"/><use href="#w47" x="495" y="1755"/><use href="#w26" x="510" y="1763"/><use href="#w53" x="503" y="1771"/><use href="#w55" x="521" y="1739"/><use href="#w21" x="518" y="1747"/><use href="#w84" x="501" y="1755"/><use href="#w66" x="521" y="1763"/><use href="#w48" x="511" y="1771"/><use href="#w32" x="530" y="1739"/><use href="#w37" x="515" y="1747"/><use href="#w38" x="525" y="1755"/><use href="#w39" x="527" y="1763"/><use href="#w23" x="527" y="1771"/><use href="#w19" x="520" y="1779"/><use href="#w50" x="535" y="1739"/><use href="#w81" x="533" y="1747"/><use href="#w82" x="523" y="1755"/><use href="#w26" x="535" y="1763"/><use href="#w36" x="528" y="1771"/><use href="#w42" x="547" y="1739"/><use href="#w85" x="529" y="1747"/><use href="#w86" x="537" y="1755"/><use href="#w23" x="544" y="1763"/><use href="#w62" x="537" y="1771"/><use href="#w42" x="555" y="1739"/><use href="#w16" x="547" y="1747"/><use href="#w17" x="540" y="1755"/><use href="#w18" x="552" y="1763"/><use href="#w62" x="545" y="1771"/><use href="#w45" x="561" y="1739"/><use href="#w87" x="559" y="1747"/><use href="#w52" x="546" y="1755"/><use href="#w18" x="561" y="1763"/><use href="#w31" x="554" y="1771"/><use href="#w42" x="572" y="1739"/><use href="#w27" x="562" y="1747"/><use href="#w49" x="557" y="1755"/><use href="#w26" x="569" y="1763"/><use href="#w40" x="564" y="1771"/><use href="#w50" x="578" y="1739"/><use href="#w24" x="581" y="1747"/><use href="#w25" x="543" y="1755"/><use href="#w26" x="578" y="1763"/><use href="#w19" x="571" y="1771"/><use href="#w42" x="590" y="1739"/><use href="#w87" x="585" y="1747"/><use href="#w52" x="572" y="1755"/><use href="#w18" x="587" y="1763"/><use href="#w36" x="580" y="1771"/><use href="#w88" x="595" y="1739"/><use href="#w27" x="588" y="1747"/><use href="#w68" x="588" y="1755"/><use href="#w23" x="595" y="1763"/><use href="#w31" x="588" y="1771"/><use href="#w32" x="607" y="1739"/><use href="#w27" x="597" y="1747"/><use href="#w61" x="589" y="1755"/><use href="#w26" x="604" y="1763"/><use href="#w19" x="597" y="1771"/><use href="#w42" x="615" y="1739"/><use href="#w80" x="607" y="1747"/><use href="#w27" x="605" y="1755"/><use href="#w28" x="605" y="1763"/><use href="#w23" x="612" y="1771"/><use href="#w40" x="607" y="1779"/><use href="#w32" x="624" y="1739"/><use href="#w16" x="616" y="1747"/><use href="#w17" x="609" y="1755"/><use href="#w18" x="621" y="1763"/><use href="#w53" x="614" y="1771"/><use href="#w45" x="629" y="1739"/><use href="#w81" x="627" y="1747"/><use href="#w82" x="617" y="1755"/><use href="#w26" x="629" y="1763"/><use href="#w31" x="622" y="1771"/><use href="#w15" x="641" y="1739"/><use href="#w87" x="636" y="1747"/><use href="#w52" x="623" y="1755"/><use href="#w18" x="638" y="1763"/><use href="#w53" x="631" y="1771"/><use href="#w55" x="649" y="1739"/><use href="#w27" x="639" y="1747"/><use href="#w65" x="641" y="1755"/><use href="#w66" x="649" y="1763"/><use href="#w19" x="639" y="1771"/><use href="#w32" x="658" y="1739"/><use href="#w81" x="653" y="1747"/><use href="#w82" x="643" y="1755"/><use href="#w26" x="655" y="1763"/><use href="#w36" x="648" y="1771"/><use href="#w55" x="667" y="1739"/><use href="#w89" x="659" y="1747"/><use href="#w90" x="657" y="1755"/><use href="#w26" x="664" y="1763"/><use href="#w19" x="657" y="1771"/><use href="#w15" x="675" y="1739"/><use href="#w24" x="675" y="1747"/><use href="#w25" x="637" y="1755"/><use href="#w26" x="672" y="1763"/><use href="#w31" x="665" y="1771"/><use href="#w45" x="681" y="1739"/><use href="#w56" x="679" y="1747"/><use href="#w57" x="679" y="1755"/><use href="#w58" x="681" y="1763"/><use href="#w59" x="684" y="1771"/><use href="#w53" x="674" y="1779"/><use href="#w32" x="692" y="1739"/><use href="#w89" x="684" y="1747"/><use href="#w90" x="682" y="1755"/><use href="#w26" x="689" y="1763"/><use href="#w19" x="682" y="1771"/><use href="#w91" x="701" y="1739"/><use href="#w21" x="698" y="1747"/><use href="#w33" x="681" y="1755"/><use href="#w23" x="698" y="1763"/><use href="#w48" x="691" y="1771"/><use href="#w15" x="709" y="1739"/><use href="#w87" x="704" y="1747"/><use href="#w52" x="691" y="1755"/><use href="#w18" x="706" y="1763"/><use href="#w31" x="699" y="1771"/><use href="#w20" x="718" y="1739"/><use href="#w77" x="713" y="1747"/><use href="#w30" x="710" y="1755"/><use href="#w27" x="708" y="1763"/><use href="#w28" x="708" y="1771"/><use href="#w23" x="715" y="1779"/><use href="#w62" x="708" y="1787"/><use href="#w50" x="723" y="1739"/><use href="#w21" x="723" y="1747"/><use href="#w60" x="708" y="1755"/><use href="#w18" x="723" y="1763"/><use href="#w62" x="716" y="1771"/><use href="#w50" x="732" y="1739"/><use href="#w89" x="727" y="1747"/><use href="#w90" x="725" y="1755"/><use href="#w26" x="732" y="1763"/><use href="#w19" x="725" y="1771"/><use href="#w32" x="743" y="1739"/><use href="#w92" x="730" y="1747"/><use href="#w93" x="733" y="1755"/><use href="#w18" x="740" y="1763"/><use href="#w31" x="733" y="1771"/><use href="#w50" x="749" y="1739"/><use href="#w30" x="744" y="1747"/><use href="#w27" x="742" y="1755"/><use href="#w28" x="742" y="1763"/><use href="#w23" x="749" y="1771"/><use href="#w48" x="742" y="1779"/><use href="#w50" x="758" y="1739"/><use href="#w67" x="748" y="1747"/><use href="#w30" x="753" y="1755"/><use href="#w27" x="751" y="1763"/><use href="#w28" x="751" y="1771"/><use href="#w23" x="758" y="1779"/><use href="#w31" x="751" y="1787"/><use href="#w55" x="769" y="1739"/><use href="#w78" x="749" y="1747"/><use href="#w79" x="734" y="1755"/><use href="#w18" x="766" y="1763"/><use href="#w40" x="761" y="1771"/><use href="#w15" x="778" y="1739"/><use href="#w71" x="763" y="1747"/><use href="#w72" x="755" y="1755"/><use href="#w23" x="775" y="1763"/><use href="#w48" x="768" y="1771"/><use href="#w15" x="786" y="1739"/><use href="#w46" x="781" y="1747"/><use href="#w47" x="768" y="1755"/><use href="#w26" x="783" y="1763"/><use href="#w31" x="776" y="1771"/><use href="#w15" x="795" y="1739"/><use href="#w46" x="790" y="1747"/><use href="#w47" x="777" y="1755"/><use href="#w26" x="792" y="1763"/><use href="#w40" x="787" y="1771"/><use href="#w20" x="803" y="1739"/><use href="#w21" x="800" y="1747"/><use href="#w33" x="783" y="1755"/><use href="#w23" x="800" y="1763"/><use href="#w48" x="793" y="1771"/><use href="#w64" x="812" y="1739"/><use href="#w27" x="802" y="1747"/><use href="#w28" x="802" y="1755"/><use href="#w23" x="809" y="1763"/><use href="#w53" x="802" y="1771"/><use href="#w32" x="820" y="1739"/><use href="#w16" x="812" y="1747"/><use href="#w17" x="805" y="1755"/><use href="#w18" x="817" y="1763"/><use href="#w48" x="810" y="1771"/><use href="#w50" x="826" y="1739"/><use href="#w73" x="824" y="1747"/><use href="#w47" x="811" y="1755"/><use href="#w26" x="826" y="1763"/><use href="#w53" x="819" y="1771"/><use href="#w50" x="835" y="1739"/><use href="#w46" x="833" y="1747"/><use href="#w47" x="820" y="1755"/><use href="#w26" x="835" y="1763"/><use href="#w48" x="828" y="1771"/><use href="#w42" x="846" y="1739"/><use href="#w83" x="841" y="1747"/><use href="#w47" x="828" y="1755"/><use href="#w26" x="843" y="1763"/><use href="#w48" x="836" y="1771"/><use href="#w20" x="855" y="1739"/><use href="#w89" x="847" y="1747"/><use href="#w90" x="845" y="1755"/><use href="#w26" x="852" y="1763"/><use href="#w53" x="845" y="1771"/><use href="#w15" x="863" y="1739"/><use href="#w21" x="860" y="1747"/><use href="#w60" x="845" y="1755"/><use href="#w18" x="860" y="1763"/><use href="#w19" x="853" y="1771"/><use href="#w42" x="872" y="1739"/><use href="#w21" x="869" y="1747"/><use href="#w84" x="852" y="1755"/><use href="#w66" x="872" y="1763"/><use href="#w36" x="862" y="1771"/><use href="#w32" x="880" y="1739"/><use href="#w78" x="860" y="1747"/><use href="#w79" x="845" y="1755"/><use href="#w18" x="877" y="1763"/><use href="#w36" x="870" y="1771"/><use href="#w45" x="886" y="1739"/><use href="#w78" x="869" y="1747"/><use href="#w79" x="854" y="1755"/><use href="#w18" x="886" y="1763"/><use href="#w62" x="879" y="1771"/><use href="#w15" x="897" y="1739"/><use href="#w27" x="887" y="1747"/><use href="#w49" x="882" y="1755"/><use href="#w26" x="894" y="1763"/><use href="#w36" x="887" y="1771"/><use href="#w15" x="906" y="1739"/><use href="#w21" x="903" y="1747"/><use href="#w22" x="891" y="1755"/><use href="#w23" x="903" y="1763"/><use href="#w40" x="898" y="1771"/><use href="#w42" x="914" y="1739"/><use href="#w30" x="906" y="1747"/><use href="#w52" x="896" y="1755"/><use href="#w18" x="911" y="1763"/><use href="#w48" x="904" y="1771"/><use href="#w32" x="923" y="1739"/><use href="#w87" x="918" y="1747"/><use href="#w52" x="905" y="1755"/><use href="#w18" x="920" y="1763"/><use href="#w62" x="913" y="1771"/><use href="#w32" x="932" y="1739"/><use href="#w94" x="927" y="1747"/><use href="#w27" x="922" y="1755"/><use href="#w28" x="922" y="1763"/><use href="#w23" x="929" y="1771"/><use href="#w19" x="922" y="1779"/><use href="#w32" x="940" y="1739"/><use href="#w27" x="930" y="1747"/><use href="#w68" x="930" y="1755"/><use href="#w23" x="937" y="1763"/><use href="#w36" x="930" y="1771"/><use href="#w91" x="949" y="1739"/><use href="#w51" x="941" y="1747"/><use href="#w52" x="931" y="1755"/><use href="#w18" x="946" y="1763"/><use href="#w48" x="939" y="1771"/><use href="#w15" x="957" y="1739"/><use href="#w44" x="952" y="1747"/><use href="#w27" x="947" y="1755"/><use href="#w28" x="947" y="1763"/><use href="#w23" x="954" y="1771"/><use href="#w19" x="947" y="1779"/><use href="#w15" x="966" y="1739"/><use href="#w95" x="963" y="1747"/><use href="#w27" x="956" y="1755"/><use href="#w96" x="953" y="1763"/><use href="#w23" x="963" y="1771"/><use href="#w31" x="956" y="1779"/><use href="#w55" x="974" y="1739"/><use href="#w30" x="966" y="1747"/><use href="#w27" x="964" y="1755"/><use href="#w28" x="964" y="1763"/><use href="#w23" x="971" y="1771"/><use href="#w31" x="964" y="1779"/><use href="#w74" x="983" y="1739"/><use href="#w97" x="975" y="1747"/><use href="#w27" x="973" y="1755"/><use href="#w28" x="973" y="1763"/><use href="#w23" x="980" y="1771"/><use href="#w31" x="973" y="1779"/><use href="#w42" x="991" y="1739"/><use href="#w37" x="976" y="1747"/><use href="#w38" x="986" y="1755"/><use href="#w39" x="988" y="1763"/><use href="#w23" x="988" y="1771"/><use href="#w48" x="981" y="1779"/><use href="#w43" x="997" y="1739"/><use href="#w94" x="995" y="1747"/><use href="#w27" x="990" y="1755"/><use href="#w28" x="990" y="1763"/><use href="#w23" x="997" y="1771"/><use href="#w19" x="990" y="1779"/><use href="#w42" x="1009" y="1739"/><use href="#w67" x="996" y="1747"/><use href="#w30" x="1001" y="1755"/><use href="#w28" x="999" y="1763"/><use href="#w23" x="1006" y="1771"/><use href="#w40" x="1001" y="1779"/><use href="#w74" x="1017" y="1739"/><use href="#w98" x="1009" y="1747"/><use href="#w27" x="1007" y="1755"/><use href="#w28" x="1007" y="1763"/><use href="#w23" x="1014" y="1771"/><use href="#w19" x="1007" y="1779"/><use href="#w45" x="1023" y="1739"/><use href="#w98" x="1018" y="1747"/><use href="#w27" x="1016" y="1755"/><use href="#w28" x="1016" y="1763"/><use href="#w23" x="1023" y="1771"/><use href="#w19" x="1016" y="1779"/><use href="#w88" x="1031" y="1739"/><use href="#w21" x="1031" y="1747"/><use href="#w99" x="1024" y="1755"/><use href="#w100" x="1009" y="1763"/><use href="#w18" x="1031" y="1771"/><use href="#w62" x="1024" y="1779"/><use href="#w15" x="1043" y="1739"/><use href="#w94" x="1038" y="1747"/><use href="#w27" x="1033" y="1755"/><use href="#w28" x="1033" y="1763"/><use href="#w23" x="1040" y="1771"/><use href="#w48" x="1033" y="1779"/><use href="#w74" x="1051" y="1739"/><use href="#w73" x="1046" y="1747"/><use href="#w47" x="1033" y="1755"/><use href="#w26" x="1048" y="1763"/><use href="#w48" x="1041" y="1771"/><use href="#w15" x="1060" y="1739"/><use href="#w67" x="1047" y="1747"/><use href="#w30" x="1052" y="1755"/><use href="#w28" x="1050" y="1763"/><use href="#w23" x="1057" y="1771"/><use href="#w40" x="1052" y="1779"/><use href="#w15" x="1068" y="1739"/><use href="#w83" x="1063" y="1747"/><use href="#w47" x="1050" y="1755"/><use href="#w26" x="1065" y="1763"/><use href="#w19" x="1058" y="1771"/><use href="#w55" x="1077" y="1739"/><use href="#w98" x="1069" y="1747"/><use href="#w27" x="1067" y="1755"/><use href="#w28" x="1067" y="1763"/><use href="#w23" x="1074" y="1771"/><use href="#w36" x="1067" y="1779"/><use href="#w32" x="1085" y="1739"/><use href="#w44" x="1080" y="1747"/><use href="#w27" x="1075" y="1755"/><use href="#w28" x="1075" y="1763"/><use href="#w23" x="1082" y="1771"/><use href="#w62" x="1075" y="1779"/><use href="#w64" x="1094" y="1739"/><use href="#w30" x="1086" y="1747"/><use href="#w27" x="1084" y="1755"/><use href="#w28" x="1084" y="1763"/><use href="#w23" x="1091" y="1771"/><use href="#w62" x="1084" y="1779"/><use href="#w32" x="1103" y="1739"/><use href="#w98" x="1095" y="1747"/><use href="#w27" x="1093" y="1755"/><use href="#w28" x="1093" y="1763"/><use href="#w23" x="1100" y="1771"/><use href="#w19" x="1093" y="1779"/><use href="#w91" x="1111" y="1739"/><use href="#w37" x="1096" y="1747"/><use href="#w38" x="1106" y="1755"/><use href="#w39" x="1108" y="1763"/><use href="#w23" x="1108" y="1771"/><use href="#w48" x="1101" y="1779"/><use href="#w20" x="1120" y="1739"/><use href="#w44" x="1115" y="1747"/><use href="#w27" x="1110" y="1755"/><use href="#w28" x="1110" y="1763"/><use href="#w23" x="1117" y="1771"/><use href="#w53" x="1110" y="1779"/><use href="#w15" x="1128" y="1739"/><use href="#w30" x="1120" y="1747"/><use href="#w52" x="1110" y="1755"/><use href="#w18" x="1125" y="1763"/><use href="#w36" x="1118" y="1771"/><use href="#w64" x="1137" y="1739"/><use href="#w34" x="1127" y="1747"/><use href="#w35" x="1119" y="1755"/><use href="#w23" x="1134" y="1763"/><use href="#w48" x="1127" y="1771"/><use href="#w32" x="1145" y="1739"/><use href="#w27" x="1135" y="1747"/><use href="#w49" x="1130" y="1755"/><use href="#w26" x="1142" y="1763"/><use href="#w62" x="1135" y="1771"/><use href="#w20" x="1154" y="1739"/><use href="#w89" x="1146" y="1747"/><use href="#w90" x="1144" y="1755"/><use href="#w26" x="1151" y="1763"/><use href="#w53" x="1144" y="1771"/><use href="#w32" x="1162" y="1739"/><use href="#w89" x="1154" y="1747"/><use href="#w90" x="1152" y="1755"/><use href="#w26" x="1159" y="1763"/><use href="#w19" x="1152" y="1771"/><use href="#w15" x="1171" y="1739"/><use href="#w83" x="1166" y="1747"/><use href="#w47" x="1153" y="1755"/><use href="#w26" x="1168" y="1763"/><use href="#w53" x="1161" y="1771"/><use href="#w55" x="1179" y="1739"/><use href="#w97" x="1171" y="1747"/><use href="#w27" x="1169" y="1755"/><use href="#w28" x="1169" y="1763"/><use href="#w23" x="1176" y="1771"/><use href="#w31" x="1169" y="1779"/><use href="#w32" x="1188" y="1739"/><use href="#w51" x="1180" y="1747"/><use href="#w52" x="1170" y="1755"/><use href="#w18" x="1185" y="1763"/><use href="#w48" x="1178" y="1771"/><use href="#w42" x="1197" y="1739"/><use href="#w21" x="1194" y="1747"/><use href="#w22" x="1182" y="1755"/><use href="#w23" x="1194" y="1763"/><use href="#w53" x="1187" y="1771"/><use href="#w55" x="1205" y="1739"/><use href="#w27" x="1195" y="1747"/><use href="#w68" x="1195" y="1755"/><use href="#w23" x="1202" y="1763"/><use href="#w19" x="1195" y="1771"/><use href="#w42" x="1214" y="1739"/><use href="#w27" x="1204" y="1747"/><use href="#w65" x="1206" y="1755"/><use href="#w66" x="1214" y="1763"/><use href="#w48" x="1204" y="1771"/><use href="#w32" x="1222" y="1739"/><use href="#w54" x="1212" y="1747"/><use href="#w52" x="1204" y="1755"/><use href="#w18" x="1219" y="1763"/><use href="#w40" x="1214" y="1771"/><use href="#w32" x="1231" y="1739"/><use href="#w27" x="1221" y="1747"/><use href="#w65" x="1223" y="1755"/><use href="#w66" x="1231" y="1763"/><use href="#w53" x="1221" y="1771"/><use href="#w15" x="1239" y="1739"/><use href="#w16" x="1231" y="1747"/><use href="#w17" x="1224" y="1755"/><use href="#w18" x="1236" y="1763"/><use href="#w36" x="1229" y="1771"/><use href="#w20" x="1248" y="1739"/><use href="#w16" x="1240" y="1747"/><use href="#w17" x="1233" y="1755"/><use href="#w18" x="1245" y="1763"/><use href="#w19" x="1238" y="1771"/><use href="#w42" x="1256" y="1739"/><use href="#w78" x="1236" y="1747"/><use href="#w79" x="1221" y="1755"/><use href="#w18" x="1253" y="1763"/><use href="#w53" x="1246" y="1771"/><use href="#w43" x="1262" y="1739"/><use href="#w29" x="1260" y="1747"/><use href="#w30" x="1257" y="1755"/><use href="#w27" x="1255" y="1763"/><use href="#w28" x="1255" y="1771"/><use href="#w23" x="1262" y="1779"/><use href="#w62" x="1255" y="1787"/><use href="#w32" x="1274" y="1739"/><use href="#w81" x="1269" y="1747"/><use href="#w82" x="1259" y="1755"/><use href="#w26" x="1271" y="1763"/><use href="#w48" x="1264" y="1771"/><use href="#w50" x="1279" y="1739"/><use href="#w78" x="1262" y="1747"/><use href="#w79" x="1247" y="1755"/><use href="#w18" x="1279" y="1763"/><use href="#w36" x="1272" y="1771"/><use href="#w88" x="1288" y="1739"/><use href="#w21" x="1288" y="1747"/><use href="#w60" x="1273" y="1755"/><use href="#w18" x="1288" y="1763"/><use href="#w36" x="1281" y="1771"/><use href="#w64" x="1299" y="1739"/><use href="#w67" x="1286" y="1747"/><use href="#w30" x="1291" y="1755"/><use href="#w28" x="1289" y="1763"/><use href="#w23" x="1296" y="1771"/><use href="#w48" x="1289" y="1779"/><use href="#w45" x="1305" y="1739"/><use href="#w67" x="1295" y="1747"/><use href="#w30" x="1300" y="1755"/><use href="#w28" x="1298" y="1763"/><use href="#w23" x="1305" y="1771"/><use href="#w48" x="1298" y="1779"/><use href="#w45" x="1313" y="1739"/><use href="#w67" x="1303" y="1747"/><use href="#w30" x="1308" y="1755"/><use href="#w28" x="1306" y="1763"/><use href="#w23" x="1313" y="1771"/><use href="#w31" x="1306" y="1779"/><use href="#w50" x="1322" y="1739"/><use href="#w37" x="1310" y="1747"/><use href="#w38" x="1320" y="1755"/><use href="#w39" x="1322" y="1763"/><use href="#w23" x="1322" y="1771"/><use href="#w31" x="1315" y="1779"/><use href="#w50" x="1330" y="1739"/><use href="#w95" x="1330" y="1747"/><use href="#w27" x="1323" y="1755"/><use href="#w96" x="1320" y="1763"/><use href="#w23" x="1330" y="1771"/><use href="#w31" x="1323" y="1779"/><use href="#w43" x="1339" y="1739"/><use href="#w67" x="1329" y="1747"/><use href="#w30" x="1334" y="1755"/><use href="#w28" x="1332" y="1763"/><use href="#w23" x="1339" y="1771"/><use href="#w36" x="1332" y="1779"/><use href="#w45" x="1347" y="1739"/><use href="#w95" x="1347" y="1747"/><use href="#w27" x="1340" y="1755"/><use href="#w96" x="1337" y="1763"/><use href="#w23" x="1347" y="1771"/><use href="#w19" x="1340" y="1779"/><use href="#w15" x="1359" y="1739"/><use href="#w21" x="1356" y="1747"/><use href="#w99" x="1349" y="1755"/><use href="#w100" x="1334" y="1763"/><use href="#w18" x="1356" y="1771"/><use href="#w53" x="1349" y="1779"/><use href="#w64" x="1368" y="1739"/><use href="#w97" x="1360" y="1747"/><use href="#w27" x="1358" y="1755"/><use href="#w28" x="1358" y="1763"/><use href="#w23" x="1365" y="1771"/><use href="#w19" x="1358" y="1779"/><use href="#w45" x="1373" y="1739"/><use href="#w44" x="1371" y="1747"/><use href="#w27" x="1366" y="1755"/><use href="#w28" x="1366" y="1763"/><use href="#w23" x="1373" y="1771"/><use href="#w53" x="1366" y="1779"/><use href="#w42" x="1385" y="1739"/><use href="#w21" x="1382" y="1747"/><use href="#w99" x="1375" y="1755"/><use href="#w100" x="1360" y="1763"/><use href="#w18" x="1382" y="1771"/><use href="#w36" x="1375" y="1779"/><use href="#w50" x="1390" y="1739"/><use href="#w21" x="1390" y="1747"/><use href="#w99" x="1383" y="1755"/><use href="#w100" x="1368" y="1763"/><use href="#w18" x="1390" y="1771"/><use href="#w36" x="1383" y="1779"/><use href="#w50" x="1399" y="1739"/><use href="#w67" x="1389" y="1747"/><use href="#w30" x="1394" y="1755"/><use href="#w28" x="1392" y="1763"/><use href="#w23" x="1399" y="1771"/><use href="#w53" x="1392" y="1779"/><use href="#w42" x="1410" y="1739"/><use href="#w98" x="1402" y="1747"/><use href="#w27" x="1400" y="1755"/><use href="#w28" x="1400" y="1763"/><use href="#w23" x="1407" y="1771"/><use href="#w40" x="1402" y="1779"/><use href="#w20" x="1419" y="1739"/><use href="#w97" x="1411" y="1747"/><use href="#w27" x="1409" y="1755"/><use href="#w28" x="1409" y="1763"/><use href="#w23" x="1416" y="1771"/><use href="#w53" x="1409" y="1779"/><use href="#w64" x="1427" y="1739"/><use href="#w27" x="1417" y="1747"/><use href="#w28" x="1417" y="1755"/><use href="#w23" x="1424" y="1763"/><use href="#w53" x="1417" y="1771"/><use href="#w32" x="1436" y="1739"/><use href="#w87" x="1431" y="1747"/><use href="#w52" x="1418" y="1755"/><use href="#w18" x="1433" y="1763"/><use href="#w19" x="1426" y="1771"/><use href="#w88" x="1442" y="1739"/><use href="#w98" x="1437" y="1747"/><use href="#w27" x="1435" y="1755"/><use href="#w28" x="1435" y="1763"/><use href="#w23" x="1442" y="1771"/><use href="#w36" x="1435" y="1779"/><use href="#w32" x="1453" y="1739"/><use href="#w89" x="1445" y="1747"/><use href="#w90" x="1443" y="1755"/><use href="#w26" x="1450" y="1763"/><use href="#w19" x="1443" y="1771"/><use href="#w64" x="1462" y="1739"/><use href="#w98" x="1454" y="1747"/><use href="#w27" x="1452" y="1755"/><use href="#w28" x="1452" y="1763"/><use href="#w23" x="1459" y="1771"/><use href="#w36" x="1452" y="1779"/><use href="#w15" x="1470" y="1739"/><use href="#w21" x="1467" y="1747"/><use href="#w22" x="1455" y="1755"/><use href="#w23" x="1467" y="1763"/><use href="#w62" x="1460" y="1771"/><use href="#w50" x="1476" y="1739"/><use href="#w24" x="1479" y="1747"/><use href="#w25" x="1441" y="1755"/><use href="#w26" x="1476" y="1763"/><use href="#w53" x="1469" y="1771"/><use href="#w15" x="1487" y="1739"/><use href="#w87" x="1482" y="1747"/><use href="#w52" x="1469" y="1755"/><use href="#w18" x="1484" y="1763"/><use href="#w62" x="1477" y="1771"/><use href="#w15" x="1496" y="1739"/><use href="#w24" x="1496" y="1747"/><use href="#w25" x="1458" y="1755"/><use href="#w26" x="1493" y="1763"/><use href="#w62" x="1486" y="1771"/><use href="#w64" x="1504" y="1739"/><use href="#w37" x="1489" y="1747"/><use href="#w38" x="1499" y="1755"/><use href="#w39" x="1501" y="1763"/><use href="#w23" x="1501" y="1771"/><use href="#w53" x="1494" y="1779"/><use href="#w42" x="1513" y="1739"/><use href="#w21" x="1510" y="1747"/><use href="#w84" x="1493" y="1755"/><use href="#w66" x="1513" y="1763"/><use href="#w19" x="1503" y="1771"/><use href="#w43" x="1518" y="1739"/><use href="#w67" x="1508" y="1747"/><use href="#w30" x="1513" y="1755"/><use href="#w28" x="1511" y="1763"/><use href="#w23" x="1518" y="1771"/><use href="#w48" x="1511" y="1779"/><use href="#w42" x="1530" y="1739"/><use href="#w89" x="1522" y="1747"/><use href="#w90" x="1520" y="1755"/><use href="#w26" x="1527" y="1763"/><use href="#w48" x="1520" y="1771"/><use href="#w45" x="1536" y="1739"/><use href="#w71" x="1524" y="1747"/><use href="#w72" x="1516" y="1755"/><use href="#w23" x="1536" y="1763"/><use href="#w36" x="1529" y="1771"/><use href="#w32" x="1547" y="1739"/><use href="#w21" x="1544" y="1747"/><use href="#w22" x="1532" y="1755"/><use href="#w23" x="1544" y="1763"/><use href="#w53" x="1537" y="1771"/><use href="#w91" x="1556" y="1739"/><use href="#w21" x="1553" y="1747"/><use href="#w22" x="1541" y="1755"/><use href="#w23" x="1553" y="1763"/><use href="#w36" x="1546" y="1771"/><use href="#w64" x="1564" y="1739"/><use href="#w78" x="1544" y="1747"/><use href="#w79" x="1529" y="1755"/><use href="#w18" x="1561" y="1763"/><use href="#w53" x="1554" y="1771"/><use href="#w32" x="1573" y="1739"/><use href="#w71" x="1558" y="1747"/><use href="#w72" x="1550" y="1755"/><use href="#w23" x="1570" y="1763"/><use href="#w31" x="1563" y="1771"/><use href="#w32" x="1581" y="1739"/><use href="#w101" x="1556" y="1747"/><use href="#w27" x="1571" y="1755"/><use href="#w28" x="1571" y="1763"/><use href="#w23" x="1578" y="1771"/><use href="#w31" x="1571" y="1779"/><use href="#w32" x="1590" y="1739"/><use href="#w44" x="1585" y="1747"/><use href="#w27" x="1580" y="1755"/><use href="#w28" x="1580" y="1763"/><use href="#w23" x="1587" y="1771"/><use href="#w36" x="1580" y="1779"/><use href="#w91" x="1598" y="1739"/><use href="#w51" x="1590" y="1747"/><use href="#w52" x="1580" y="1755"/><use href="#w18" x="1595" y="1763"/><use href="#w62" x="1588" y="1771"/><use href="#w32" x="1607" y="1739"/><use href="#w41" x="1594" y="1747"/><use href="#w27" x="1597" y="1755"/><use href="#w28" x="1597" y="1763"/><use href="#w23" x="1604" y="1771"/><use href="#w31" x="1597" y="1779"/><use href="#w43" x="1612" y="1739"/><use href="#w41" x="1602" y="1747"/><use href="#w27" x="1605" y="1755"/><use href="#w28" x="1605" y="1763"/><use href="#w23" x="1612" y="1771"/><use href="#w31" x="1605" y="1779"/><use href="#w42" x="1624" y="1739"/><use href="#w73" x="1619" y="1747"/><use href="#w47" x="1606" y="1755"/><use href="#w26" x="1621" y="1763"/><use href="#w19" x="1614" y="1771"/><use href="#w15" x="1633" y="1739"/><use href="#w51" x="1625" y="1747"/><use href="#w52" x="1615" y="1755"/><use href="#w18" x="1630" y="1763"/><use href="#w36" x="1623" y="1771"/><use href="#w15" x="1641" y="1739"/><use href="#w98" x="1633" y="1747"/><use href="#w27" x="1631" y="1755"/><use href="#w28" x="1631" y="1763"/><use href="#w23" x="1638" y="1771"/><use href="#w53" x="1631" y="1779"/><use href="#w50" x="1647" y="1739"/><use href="#w94" x="1645" y="1747"/><use href="#w27" x="1640" y="1755"/><use href="#w28" x="1640" y="1763"/><use href="#w23" x="1647" y="1771"/><use href="#w31" x="1640" y="1779"/><use href="#w74" x="1658" y="1739"/><use href="#w34" x="1648" y="1747"/><use href="#w35" x="1640" y="1755"/><use href="#w23" x="1655" y="1763"/><use href="#w48" x="1648" y="1771"/><use href="#w50" x="1664" y="1739"/><use href="#w21" x="1664" y="1747"/><use href="#w99" x="1657" y="1755"/><use href="#w100" x="1642" y="1763"/><use href="#w18" x="1664" y="1771"/><use href="#w19" x="1657" y="1779"/><use href="#w74" x="1675" y="1739"/><use href="#w30" x="1667" y="1747"/><use href="#w27" x="1665" y="1755"/><use href="#w28" x="1665" y="1763"/><use href="#w23" x="1672" y="1771"/><use href="#w36" x="1665" y="1779"/><use href="#w32" x="1684" y="1739"/><use href="#w37" x="1669" y="1747"/><use href="#w38" x="1679" y="1755"/><use href="#w39" x="1681" y="1763"/><use href="#w23" x="1681" y="1771"/><use href="#w40" x="1676" y="1779"/><use href="#w55" x="1692" y="1739"/><use href="#w94" x="1687" y="1747"/><use href="#w27" x="1682" y="1755"/><use href="#w28" x="1682" y="1763"/><use href="#w23" x="1689" y="1771"/><use href="#w62" x="1682" y="1779"/><use href="#w32" x="1701" y="1739"/><use href="#w67" x="1688" y="1747"/><use href="#w30" x="1693" y="1755"/><use href="#w28" x="1691" y="1763"/><use href="#w23" x="1698" y="1771"/><use href="#w36" x="1691" y="1779"/><use href="#w42" x="1710" y="1739"/><use href="#w44" x="1705" y="1747"/><use href="#w27" x="1700" y="1755"/><use href="#w28" x="1700" y="1763"/><use href="#w23" x="1707" y="1771"/><use href="#w62" x="1700" y="1779"/><use href="#w64" x="1718" y="1739"/><use href="#w41" x="1705" y="1747"/><use href="#w27" x="1708" y="1755"/><use href="#w28" x="1708" y="1763"/><use href="#w23" x="1715" y="1771"/><use href="#w19" x="1708" y="1779"/><use href="#w55" x="1727" y="1739"/><use href="#w21" x="1724" y="1747"/><use href="#w99" x="1717" y="1755"/><use href="#w100" x="1702" y="1763"/><use href="#w18" x="1724" y="1771"/><use href="#w40" x="1719" y="1779"/><use href="#w50" x="1732" y="1739"/><use href="#w21" x="1732" y="1747"/><use href="#w22" x="1720" y="1755"/><use href="#w23" x="1732" y="1763"/><use href="#w48" x="1725" y="1771"/><use href="#w42" x="1744" y="1739"/><use href="#w94" x="1739" y="1747"/><use href="#w27" x="1734" y="1755"/><use href="#w28" x="1734" y="1763"/><use href="#w23" x="1741" y="1771"/><use href="#w31" x="1734" y="1779"/><use href="#w64" x="1752" y="1739"/><use href="#w37" x="1737" y="1747"/><use href="#w38" x="1747" y="1755"/><use href="#w39" x="1749" y="1763"/><use href="#w23" x="1749" y="1771"/><use href="#w40" x="1744" y="1779"/><use href="#w42" x="1761" y="1739"/><use href="#w94" x="1756" y="1747"/><use href="#w27" x="1751" y="1755"/><use href="#w28" x="1751" y="1763"/><use href="#w23" x="1758" y="1771"/><use href="#w48" x="1751" y="1779"/><use href="#w15" x="1769" y="1739"/><use href="#w94" x="1764" y="1747"/><use href="#w27" x="1759" y="1755"/><use href="#w28" x="1759" y="1763"/><use href="#w23" x="1766" y="1771"/><use href="#w62" x="1759" y="1779"/><use href="#w43" x="1775" y="1739"/><use href="#w95" x="1775" y="1747"/><use href="#w27" x="1768" y="1755"/><use href="#w96" x="1765" y="1763"/><use href="#w23" x="1775" y="1771"/><use href="#w36" x="1768" y="1779"/><use href="#w74" x="1786" y="1739"/><use href="#w67" x="1773" y="1747"/><use href="#w30" x="1778" y="1755"/><use href="#w28" x="1776" y="1763"/><use href="#w23" x="1783" y="1771"/><use href="#w48" x="1776" y="1779"/><use href="#w20" x="1795" y="1739"/><use href="#w94" x="1790" y="1747"/><use href="#w27" x="1785" y="1755"/><use href="#w28" x="1785" y="1763"/><use href="#w23" x="1792" y="1771"/><use href="#w31" x="1785" y="1779"/><use href="#w15" x="1804" y="1739"/><use href="#w56" x="1799" y="1747"/><use href="#w57" x="1799" y="1755"/><use href="#w58" x="1801" y="1763"/><use href="#w59" x="1804" y="1771"/><use href="#w62" x="1794" y="1779"/><use href="#w15" x="1812" y="1739"/><use href="#w37" x="1797" y="1747"/><use href="#w38" x="1807" y="1755"/><use href="#w39" x="1809" y="1763"/><use href="#w23" x="1809" y="1771"/><use href="#w36" x="1802" y="1779"/><use href="#w20" x="1821" y="1739"/><use href="#w44" x="1816" y="1747"/><use href="#w27" x="1811" y="1755"/><use href="#w28" x="1811" y="1763"/><use href="#w23" x="1818" y="1771"/><use href="#w53" x="1811" y="1779"/><use href="#w32" x="1829" y="1739"/><use href="#w41" x="1816" y="1747"/><use href="#w27" x="1819" y="1755"/><use href="#w28" x="1819" y="1763"/><use href="#w23" x="1826" y="1771"/><use href="#w62" x="1819" y="1779"/><use href="#w91" x="1838" y="1739"/><use href="#w41" x="1825" y="1747"/><use href="#w27" x="1828" y="1755"/><use href="#w28" x="1828" y="1763"/><use href="#w23" x="1835" y="1771"/><use href="#w36" x="1828" y="1779"/><use href="#w64" x="1846" y="1739"/><use href="#w21" x="1843" y="1747"/><use href="#w22" x="1831" y="1755"/><use href="#w23" x="1843" y="1763"/><use href="#w19" x="1836" y="1771"/><use href="#w15" x="1855" y="1739"/><use href="#w37" x="1840" y="1747"/><use href="#w38" x="1850" y="1755"/><use href="#w39" x="1852" y="1763"/><use href="#w23" x="1852" y="1771"/><use href="#w31" x="1845" y="1779"/><use href="#w64" x="1863" y="1739"/><use href="#w63" x="1858" y="1747"/><use href="#w47" x="1845" y="1755"/><use href="#w26" x="1860" y="1763"/><use href="#w31" x="1853" y="1771"/><use href="#w15" x="1872" y="1739"/><use href="#w30" x="1864" y="1747"/><use href="#w27" x="1862" y="1755"/><use href="#w28" x="1862" y="1763"/><use href="#w23" x="1869" y="1771"/><use href="#w48" x="1862" y="1779"/><use href="#w15" x="1881" y="1739"/><use href="#w24" x="1881" y="1747"/><use href="#w25" x="1843" y="1755"/><use href="#w26" x="1878" y="1763"/><use href="#w19" x="1871" y="1771"/><use href="#w50" x="1886" y="1739"/><use href="#w95" x="1886" y="1747"/><use href="#w27" x="1879" y="1755"/><use href="#w96" x="1876" y="1763"/><use href="#w23" x="1886" y="1771"/><use href="#w31" x="1879" y="1779"/><use href="#w15" x="1898" y="1739"/><use href="#w95" x="1895" y="1747"/><use href="#w27" x="1888" y="1755"/><use href="#w96" x="1885" y="1763"/><use href="#w23" x="1895" y="1771"/><use href="#w36" x="1888" y="1779"/><use href="#w32" x="1906" y="1739"/><use href="#w83" x="1901" y="1747"/><use href="#w47" x="1888" y="1755"/><use href="#w26" x="1903" y="1763"/><use href="#w48" x="1896" y="1771"/><use href="#w45" x="1912" y="1739"/><use href="#w21" x="1912" y="1747"/><use href="#w99" x="1905" y="1755"/><use href="#w100" x="1890" y="1763"/><use href="#w18" x="1912" y="1771"/><use href="#w19" x="1905" y="1779"/><use href="#w15" x="1923" y="1739"/><use href="#w56" x="1918" y="1747"/><use href="#w57" x="1918" y="1755"/><use href="#w58" x="1920" y="1763"/><use href="#w59" x="1923" y="1771"/><use href="#w40" x="1915" y="1779"/><use href="#w32" x="1932" y="1739"/><use href="#w56" x="1927" y="1747"/><use href="#w57" x="1927" y="1755"/><use href="#w58" x="1929" y="1763"/><use href="#w59" x="1932" y="1771"/><use href="#w19" x="1922" y="1779"/><use href="#w91" x="1940" y="1739"/><use href="#w80" x="1932" y="1747"/><use href="#w27" x="1930" y="1755"/><use href="#w28" x="1930" y="1763"/><use href="#w23" x="1937" y="1771"/><use href="#w62" x="1930" y="1779"/><use href="#w32" x="1949" y="1739"/><use href="#w44" x="1944" y="1747"/><use href="#w27" x="1939" y="1755"/><use href="#w28" x="1939" y="1763"/><use href="#w23" x="1946" y="1771"/><use href="#w53" x="1939" y="1779"/><use href="#w50" x="1954" y="1739"/><use href="#w44" x="1952" y="1747"/><use href="#w27" x="1947" y="1755"/><use href="#w28" x="1947" y="1763"/><use href="#w23" x="1954" y="1771"/><use href="#w19" x="1947" y="1779"/><use href="#w74" x="1966" y="1739"/><use href="#w98" x="1958" y="1747"/><use href="#w27" x="1956" y="1755"/><use href="#w28" x="1956" y="1763"/><use href="#w23" x="1963" y="1771"/><use href="#w19" x="1956" y="1779"/><use href="#w91" x="1975" y="1739"/><use href="#w97" x="1967" y="1747"/><use href="#w27" x="1965" y="1755"/><use href="#w28" x="1965" y="1763"/><use href="#w23" x="1972" y="1771"/><use href="#w36" x="1965" y="1779"/><use href="#w74" x="1983" y="1739"/><use href="#w44" x="1978" y="1747"/><use href="#w27" x="1973" y="1755"/><use href="#w28" x="1973" y="1763"/><use href="#w23" x="1980" y="1771"/><use href="#w36" x="1973" y="1779"/><use href="#w74" x="1992" y="1739"/><use href="#w27" x="1982" y="1747"/><use href="#w49" x="1977" y="1755"/><use href="#w26" x="1989" y="1763"/><use href="#w53" x="1982" y="1771"/><use href="#w15" x="2000" y="1739"/><use href="#w67" x="1987" y="1747"/><use href="#w30" x="1992" y="1755"/><use href="#w28" x="1990" y="1763"/><use href="#w23" x="1997" y="1771"/><use href="#w53" x="1990" y="1779"/><use href="#w32" x="2009" y="1739"/><use href="#w44" x="2004" y="1747"/><use href="#w27" x="1999" y="1755"/><use href="#w28" x="1999" y="1763"/><use href="#w23" x="2006" y="1771"/><use href="#w19" x="1999" y="1779"/><use href="#w32" x="2017" y="1739"/><use href="#w37" x="2002" y="1747"/><use href="#w38" x="2012" y="1755"/><use href="#w39" x="2014" y="1763"/><use href="#w23" x="2014" y="1771"/><use href="#w19" x="2007" y="1779"/><use href="#w20" x="2026" y="1739"/><use href="#w44" x="2021" y="1747"/><use href="#w27" x="2016" y="1755"/><use href="#w28" x="2016" y="1763"/><use href="#w23" x="2023" y="1771"/><use href="#w62" x="2016" y="1779"/><use href="#w20" x="2034" y="1739"/><use href="#w44" x="2029" y="1747"/><use href="#w27" x="2024" y="1755"/><use href="#w28" x="2024" y="1763"/><use href="#w23" x="2031" y="1771"/><use href="#w62" x="2024" y="1779"/><use href="#w32" x="2043" y="1739"/><use href="#w56" x="2038" y="1747"/><use href="#w57" x="2038" y="1755"/><use href="#w58" x="2040" y="1763"/><use href="#w59" x="2043" y="1771"/><use href="#w53" x="2033" y="1779"/><use href="#w88" x="2049" y="1739"/><use href="#w44" x="2047" y="1747"/><use href="#w27" x="2042" y="1755"/><use href="#w28" x="2042" y="1763"/><use href="#w23" x="2049" y="1771"/><use href="#w53" x="2042" y="1779"/><use href="#w74" x="2060" y="1739"/><use href="#w46" x="2055" y="1747"/><use href="#w47" x="2042" y="1755"/><use href="#w26" x="2057" y="1763"/><use href="#w48" x="2050" y="1771"/><use href="#w15" x="2069" y="1739"/><use href="#w46" x="2064" y="1747"/><use href="#w47" x="2051" y="1755"/><use href="#w26" x="2066" y="1763"/><use href="#w40" x="2061" y="1771"/><use href="#w91" x="2077" y="1739"/><use href="#w78" x="2057" y="1747"/><use href="#w79" x="2042" y="1755"/><use href="#w18" x="2074" y="1763"/><use href="#w53" x="2067" y="1771"/><use href="#w15" x="2086" y="1739"/><use href="#w30" x="2078" y="1747"/><use href="#w27" x="2076" y="1755"/><use href="#w28" x="2076" y="1763"/><use href="#w23" x="2083" y="1771"/><use href="#w53" x="2076" y="1779"/><use href="#w64" x="2094" y="1739"/><use href="#w21" x="2091" y="1747"/><use href="#w60" x="2076" y="1755"/><use href="#w18" x="2091" y="1763"/><use href="#w36" x="2084" y="1771"/><use href="#w15" x="2103" y="1739"/><use href="#w85" x="2085" y="1747"/><use href="#w86" x="2093" y="1755"/><use href="#w23" x="2100" y="1763"/><use href="#w62" x="2093" y="1771"/><use href="#w20" x="2111" y="1739"/><use href="#w37" x="2096" y="1747"/><use href="#w38" x="2106" y="1755"/><use href="#w39" x="2108" y="1763"/><use href="#w23" x="2108" y="1771"/><use href="#w36" x="2101" y="1779"/><use href="#w64" x="2120" y="1739"/><use href="#w97" x="2112" y="1747"/><use href="#w27" x="2110" y="1755"/><use href="#w28" x="2110" y="1763"/><use href="#w23" x="2117" y="1771"/><use href="#w36" x="2110" y="1779"/><use href="#w32" x="2128" y="1739"/><use href="#w27" x="2118" y="1747"/><use href="#w65" x="2120" y="1755"/><use href="#w66" x="2128" y="1763"/><use href="#w53" x="2118" y="1771"/><use href="#w55" x="2137" y="1739"/><use href="#w21" x="2134" y="1747"/><use href="#w99" x="2127" y="1755"/><use href="#w100" x="2112" y="1763"/><use href="#w18" x="2134" y="1771"/><use href="#w62" x="2127" y="1779"/><use href="#w15" x="2146" y="1739"/><use href="#w21" x="2143" y="1747"/><use href="#w99" x="2136" y="1755"/><use href="#w100" x="2121" y="1763"/><use href="#w18" x="2143" y="1771"/><use href="#w48" x="2136" y="1779"/><use href="#w20" x="2154" y="1739"/><use href="#w98" x="2146" y="1747"/><use href="#w27" x="2144" y="1755"/><use href="#w28" x="2144" y="1763"/><use href="#w23" x="2151" y="1771"/><use href="#w31" x="2144" y="1779"/><use href="#w74" x="2163" y="1739"/><use href="#w67" x="2150" y="1747"/><use href="#w30" x="2155" y="1755"/><use href="#w28" x="2153" y="1763"/><use href="#w23" x="2160" y="1771"/><use href="#w53" x="2153" y="1779"/><use href="#w20" x="2171" y="1739"/><use href="#w80" x="2163" y="1747"/><use href="#w27" x="2161" y="1755"/><use href="#w28" x="2161" y="1763"/><use href="#w23" x="2168" y="1771"/><use href="#w40" x="2163" y="1779"/><use href="#w32" x="2180" y="1739"/><use href="#w80" x="2172" y="1747"/><use href="#w27" x="2170" y="1755"/><use href="#w28" x="2170" y="1763"/><use href="#w23" x="2177" y="1771"/><use href="#w19" x="2170" y="1779"/><use href="#w45" x="2185" y="1739"/><use href="#w97" x="2180" y="1747"/><use href="#w27" x="2178" y="1755"/><use href="#w28" x="2178" y="1763"/><use href="#w23" x="2185" y="1771"/><use href="#w31" x="2178" y="1779"/><use href="#w32" x="2197" y="1739"/><use href="#w95" x="2194" y="1747"/><use href="#w27" x="2187" y="1755"/><use href="#w96" x="2184" y="1763"/><use href="#w23" x="2194" y="1771"/><use href="#w53" x="2187" y="1779"/><use href="#w15" x="2205" y="1739"/><use href="#w46" x="2200" y="1747"/><use href="#w47" x="2187" y="1755"/><use href="#w26" x="2202" y="1763"/><use href="#w62" x="2195" y="1771"/><use href="#w20" x="2214" y="1739"/><use href="#w56" x="2209" y="1747"/><use href="#w57" x="2209" y="1755"/><use href="#w58" x="2211" y="1763"/><use href="#w59" x="2214" y="1771"/><use href="#w62" x="2204" y="1779"/><use href="#w32" x="2222" y="1739"/><use href="#w56" x="2217" y="1747"/><use href="#w57" x="2217" y="1755"/><use href="#w58" x="2219" y="1763"/><use href="#w59" x="2222" y="1771"/><use href="#w19" x="2212" y="1779"/><use href="#w42" x="2231" y="1739"/><use href="#w67" x="2218" y="1747"/><use href="#w30" x="2223" y="1755"/><use href="#w28" x="2221" y="1763"/><use href="#w23" x="2228" y="1771"/><use href="#w62" x="2221" y="1779"/><use href="#w42" x="2240" y="1739"/><use href="#w67" x="2227" y="1747"/><use href="#w30" x="2232" y="1755"/><use href="#w28" x="2230" y="1763"/><use href="#w23" x="2237" y="1771"/><use href="#w31" x="2230" y="1779"/><use href="#w88" x="2245" y="1739"/><use href="#w27" x="2238" y="1747"/><use href="#w28" x="2238" y="1755"/><use href="#w23" x="2245" y="1763"/><use href="#w19" x="2238" y="1771"/><use href="#w42" x="2257" y="1739"/><use href="#w67" x="2244" y="1747"/><use href="#w30" x="2249" y="1755"/><use href="#w28" x="2247" y="1763"/><use href="#w23" x="2254" y="1771"/><use href="#w53" x="2247" y="1779"/><use href="#w32" x="2265" y="1739"/><use href="#w30" x="2257" y="1747"/><use href="#w52" x="2247" y="1755"/><use href="#w18" x="2262" y="1763"/><use href="#w31" x="2255" y="1771"/><use href="#w64" x="2274" y="1739"/><use href="#w80" x="2266" y="1747"/><use href="#w27" x="2264" y="1755"/><use href="#w28" x="2264" y="1763"/><use href="#w23" x="2271" y="1771"/><use href="#w40" x="2266" y="1779"/><use href="#w91" x="2282" y="1739"/><use href="#w54" x="2272" y="1747"/><use href="#w52" x="2264" y="1755"/><use href="#w18" x="2279" y="1763"/><use href="#w31" x="2272" y="1771"/><use href="#w15" x="2291" y="1739"/><use href="#w94" x="2286" y="1747"/><use href="#w27" x="2281" y="1755"/><use href="#w28" x="2281" y="1763"/><use href="#w23" x="2288" y="1771"/><use href="#w31" x="2281" y="1779"/><use href="#w32" x="2299" y="1739"/><use href="#w56" x="2294" y="1747"/><use href="#w57" x="2294" y="1755"/><use href="#w58" x="2296" y="1763"/><use href="#w59" x="2299" y="1771"/><use href="#w19" x="2289" y="1779"/><use href="#w50" x="2305" y="1739"/><use href="#w30" x="2300" y="1747"/><use href="#w27" x="2298" y="1755"/><use href="#w28" x="2298" y="1763"/><use href="#w23" x="2305" y="1771"/><use href="#w40" x="2300" y="1779"/><use href="#w74" x="2317" y="1739"/><use href="#w95" x="2314" y="1747"/><use href="#w27" x="2307" y="1755"/><use href="#w96" x="2304" y="1763"/><use href="#w23" x="2314" y="1771"/><use href="#w53" x="2307" y="1779"/><use href="#w50" x="2322" y="1739"/><use href="#w30" x="2317" y="1747"/><use href="#w27" x="2315" y="1755"/><use href="#w28" x="2315" y="1763"/><use href="#w23" x="2322" y="1771"/><use href="#w53" x="2315" y="1779"/><use href="#w15" x="2334" y="1739"/><use href="#w83" x="2329" y="1747"/><use href="#w47" x="2316" y="1755"/><use href="#w26" x="2331" y="1763"/><use href="#w48" x="2324" y="1771"/><use href="#w15" x="2342" y="1739"/><use href="#w41" x="2329" y="1747"/><use href="#w27" x="2332" y="1755"/><use href="#w28" x="2332" y="1763"/><use href="#w23" x="2339" y="1771"/><use href="#w53" x="2332" y="1779"/><use href="#w64" x="2351" y="1739"/><use href="#w30" x="2343" y="1747"/><use href="#w27" x="2341" y="1755"/><use href="#w28" x="2341" y="1763"/><use href="#w23" x="2348" y="1771"/><use href="#w53" x="2341" y="1779"/><use href="#w64" x="2359" y="1739"/><use href="#w97" x="2351" y="1747"/><use href="#w27" x="2349" y="1755"/><use href="#w28" x="2349" y="1763"/><use href="#w23" x="2356" y="1771"/><use href="#w40" x="2351" y="1779"/><use href="#w50" x="2365" y="1739"/><use href="#w71" x="2353" y="1747"/><use href="#w72" x="2345" y="1755"/><use href="#w23" x="2365" y="1763"/><use href="#w31" x="2358" y="1771"/><use href="#w32" x="2376" y="1739"/><use href="#w56" x="2371" y="1747"/><use href="#w57" x="2371" y="1755"/><use href="#w58" x="2373" y="1763"/><use href="#w59" x="2376" y="1771"/><use href="#w62" x="2366" y="1779"/><use href="#w32" x="2385" y="1739"/><use href="#w98" x="2377" y="1747"/><use href="#w27" x="2375" y="1755"/><use href="#w28" x="2375" y="1763"/><use href="#w23" x="2382" y="1771"/><use href="#w40" x="2377" y="1779"/><use href="#w64" x="2393" y="1739"/><use href="#w44" x="2388" y="1747"/><use href="#w27" x="2383" y="1755"/><use href="#w28" x="2383" y="1763"/><use href="#w23" x="2390" y="1771"/><use href="#w40" x="2385" y="1779"/><use href="#w15" x="2402" y="1739"/><use href="#w56" x="2397" y="1747"/><use href="#w57" x="2397" y="1755"/><use href="#w58" x="2399" y="1763"/><use href="#w59" x="2402" y="1771"/><use href="#w40" x="2394" y="1779"/><use href="#w32" x="2411" y="1739"/><use href="#w98" x="2403" y="1747"/><use href="#w27" x="2401" y="1755"/><use href="#w28" x="2401" y="1763"/><use href="#w23" x="2408" y="1771"/><use href="#w40" x="2403" y="1779"/><use href="#w50" x="2416" y="1739"/><use href="#w97" x="2411" y="1747"/><use href="#w27" x="2409" y="1755"/><use href="#w28" x="2409" y="1763"/><use href="#w23" x="2416" y="1771"/><use href="#w31" x="2409" y="1779"/><use href="#w15" x="2428" y="1739"/><use href="#w95" x="2425" y="1747"/><use href="#w27" x="2418" y="1755"/><use href="#w96" x="2415" y="1763"/><use href="#w23" x="2425" y="1771"/><use href="#w19" x="2418" y="1779"/><use href="#w91" x="2436" y="1739"/><use href="#w44" x="2431" y="1747"/><use href="#w27" x="2426" y="1755"/><use href="#w28" x="2426" y="1763"/><use href="#w23" x="2433" y="1771"/><use href="#w31" x="2426" y="1779"/><use href="#w64" x="2445" y="1739"/><use href="#w21" x="2442" y="1747"/><use href="#w22" x="2430" y="1755"/><use href="#w23" x="2442" y="1763"/><use href="#w62" x="2435" y="1771"/><use href="#w42" x="2453" y="1739"/><use href="#w44" x="2448" y="1747"/><use href="#w27" x="2443" y="1755"/><use href="#w28" x="2443" y="1763"/><use href="#w23" x="2450" y="1771"/><use href="#w48" x="2443" y="1779"/><use href="#w43" x="2459" y="1739"/><use href="#w21" x="2459" y="1747"/><use href="#w99" x="2452" y="1755"/><use href="#w100" x="2437" y="1763"/><use href="#w18" x="2459" y="1771"/><use href="#w62" x="2452" y="1779"/><use href="#w50" x="2467" y="1739"/><use href="#w27" x="2460" y="1747"/><use href="#w68" x="2460" y="1755"/><use href="#w23" x="2467" y="1763"/><use href="#w48" x="2460" y="1771"/><use href="#w42" x="2479" y="1739"/><use href="#w97" x="2471" y="1747"/><use href="#w27" x="2469" y="1755"/><use href="#w28" x="2469" y="1763"/><use href="#w23" x="2476" y="1771"/><use href="#w19" x="2469" y="1779"/><use href="#w15" x="2488" y="1739"/><use href="#w67" x="2475" y="1747"/><use href="#w30" x="2480" y="1755"/><use href="#w28" x="2478" y="1763"/><use href="#w23" x="2485" y="1771"/><use href="#w48" x="2478" y="1779"/><use href="#w32" x="2496" y="1739"/><use href="#w94" x="2491" y="1747"/><use href="#w27" x="2486" y="1755"/><use href="#w28" x="2486" y="1763"/><use href="#w23" x="2493" y="1771"/><use href="#w62" x="2486" y="1779"/><use href="#w15" x="2505" y="1739"/><use href="#w98" x="2497" y="1747"/><use href="#w27" x="2495" y="1755"/><use href="#w28" x="2495" y="1763"/><use href="#w23" x="2502" y="1771"/><use href="#w19" x="2495" y="1779"/><use href="#w88" x="2510" y="1739"/><use href="#w44" x="2508" y="1747"/><use href="#w27" x="2503" y="1755"/><use href="#w28" x="2503" y="1763"/><use href="#w23" x="2510" y="1771"/><use href="#w31" x="2503" y="1779"/><use href="#w91" x="2522" y="1739"/><use href="#w92" x="2509" y="1747"/><use href="#w93" x="2512" y="1755"/><use href="#w18" x="2519" y="1763"/><use href="#w36" x="2512" y="1771"/><use href="#w32" x="2530" y="1739"/><use href="#w98" x="2522" y="1747"/><use href="#w27" x="2520" y="1755"/><use href="#w28" x="2520" y="1763"/><use href="#w23" x="2527" y="1771"/><use href="#w19" x="2520" y="1779"/><use href="#w20" x="2539" y="1739"/><use href="#w80" x="2531" y="1747"/><use href="#w27" x="2529" y="1755"/><use href="#w28" x="2529" y="1763"/><use href="#w23" x="2536" y="1771"/><use href="#w48" x="2529" y="1779"/><use href="#w64" x="2547" y="1739"/><use href="#w21" x="2544" y="1747"/><use href="#w99" x="2537" y="1755"/><use href="#w100" x="2522" y="1763"/><use href="#w18" x="2544" y="1771"/><use href="#w31" x="2537" y="1779"/><use href="#w32" x="2556" y="1739"/><use href="#w30" x="2548" y="1747"/><use href="#w27" x="2546" y="1755"/><use href="#w28" x="2546" y="1763"/><use href="#w23" x="2553" y="1771"/><use href="#w36" x="2546" y="1779"/><use href="#w50" x="2561" y="1739"/><use href="#w30" x="2556" y="1747"/><use href="#w27" x="2554" y="1755"/><use href="#w28" x="2554" y="1763"/><use href="#w23" x="2561" y="1771"/><use href="#w53" x="2554" y="1779"/><use href="#w42" x="2573" y="1739"/><use href="#w98" x="2565" y="1747"/><use href="#w27" x="2563" y="1755"/><use href="#w28" x="2563" y="1763"/><use href="#w23" x="2570" y="1771"/><use href="#w36" x="2563" y="1779"/><use href="#w32" x="2582" y="1739"/><use href="#w95" x="2579" y="1747"/><use href="#w27" x="2572" y="1755"/><use href="#w96" x="2569" y="1763"/><use href="#w23" x="2579" y="1771"/><use href="#w62" x="2572" y="1779"/><use href="#w43" x="2587" y="1739"/><use href="#w92" x="2577" y="1747"/><use href="#w93" x="2580" y="1755"/><use href="#w18" x="2587" y="1763"/><use href="#w53" x="2580" y="1771"/><use href="#w91" x="2599" y="1739"/><use href="#w27" x="2589" y="1747"/><use href="#w61" x="2581" y="1755"/><use href="#w26" x="2596" y="1763"/><use href="#w36" x="2589" y="1771"/><use href="#w20" x="2607" y="1739"/><use href="#w41" x="2594" y="1747"/><use href="#w27" x="2597" y="1755"/><use href="#w28" x="2597" y="1763"/><use href="#w23" x="2604" y="1771"/><use href="#w40" x="2599" y="1779"/><use href="#w91" x="2616" y="1739"/><use href="#w30" x="2608" y="1747"/><use href="#w27" x="2606" y="1755"/><use href="#w28" x="2606" y="1763"/><use href="#w23" x="2613" y="1771"/><use href="#w53" x="2606" y="1779"/><use href="#w15" x="2624" y="1739"/><use href="#w34" x="2614" y="1747"/><use href="#w35" x="2606" y="1755"/><use href="#w23" x="2621" y="1763"/><use href="#w48" x="2614" y="1771"/><use href="#w32" x="2633" y="1739"/><use href="#w30" x="2625" y="1747"/><use href="#w27" x="2623" y="1755"/><use href="#w28" x="2623" y="1763"/><use href="#w23" x="2630" y="1771"/><use href="#w40" x="2625" y="1779"/><use href="#w91" x="2641" y="1739"/><use href="#w30" x="2633" y="1747"/><use href="#w27" x="2631" y="1755"/><use href="#w28" x="2631" y="1763"/><use href="#w23" x="2638" y="1771"/><use href="#w36" x="2631" y="1779"/><use href="#w32" x="2650" y="1739"/><use href="#w56" x="2645" y="1747"/><use href="#w57" x="2645" y="1755"/><use href="#w58" x="2647" y="1763"/><use href="#w59" x="2650" y="1771"/><use href="#w62" x="2640" y="1779"/><use href="#w50" x="2655" y="1739"/><use href="#w94" x="2653" y="1747"/><use href="#w27" x="2648" y="1755"/><use href="#w28" x="2648" y="1763"/><use href="#w23" x="2655" y="1771"/><use href="#w62" x="2648" y="1779"/><use href="#w55" x="2667" y="1739"/><use href="#w21" x="2664" y="1747"/><use href="#w99" x="2657" y="1755"/><use href="#w100" x="2642" y="1763"/><use href="#w18" x="2664" y="1771"/><use href="#w19" x="2657" y="1779"/><use href="#w32" x="2676" y="1739"/><use href="#w44" x="2671" y="1747"/><use href="#w27" x="2666" y="1755"/><use href="#w28" x="2666" y="1763"/><use href="#w23" x="2673" y="1771"/><use href="#w62" x="2666" y="1779"/><use href="#w15" x="2684" y="1739"/><use href="#w21" x="2681" y="1747"/><use href="#w22" x="2669" y="1755"/><use href="#w23" x="2681" y="1763"/><use href="#w53" x="2674" y="1771"/><use href="#w32" x="2693" y="1739"/><use href="#w97" x="2685" y="1747"/><use href="#w27" x="2683" y="1755"/><use href="#w28" x="2683" y="1763"/><use href="#w23" x="2690" y="1771"/><use href="#w53" x="2683" y="1779"/><use href="#w15" x="2701" y="1739"/><use href="#w85" x="2683" y="1747"/><use href="#w86" x="2691" y="1755"/><use href="#w23" x="2698" y="1763"/><use href="#w36" x="2691" y="1771"/><use href="#w42" x="2710" y="1739"/><use href="#w56" x="2705" y="1747"/><use href="#w57" x="2705" y="1755"/><use href="#w58" x="2707" y="1763"/><use href="#w59" x="2710" y="1771"/><use href="#w31" x="2700" y="1779"/><use href="#w20" x="2718" y="1739"/><use href="#w102" x="2715" y="1747"/><use href="#w103" x="2710" y="1755"/><use href="#w104" x="2713" y="1763"/><use href="#w48" x="2708" y="1771"/><use href="#w20" x="2727" y="1739"/><use href="#w37" x="2712" y="1747"/><use href="#w38" x="2722" y="1755"/><use href="#w39" x="2724" y="1763"/><use href="#w23" x="2724" y="1771"/><use href="#w40" x="2719" y="1779"/><use href="#w32" x="2735" y="1739"/><use href="#w30" x="2727" y="1747"/><use href="#w27" x="2725" y="1755"/><use href="#w28" x="2725" y="1763"/><use href="#w23" x="2732" y="1771"/><use href="#w40" x="2727" y="1779"/><use href="#w20" x="2744" y="1739"/><use href="#w37" x="2729" y="1747"/><use href="#w38" x="2739" y="1755"/><use href="#w39" x="2741" y="1763"/><use href="#w23" x="2741" y="1771"/><use href="#w31" x="2734" y="1779"/><use href="#w15" x="2753" y="1739"/><use href="#w94" x="2748" y="1747"/><use href="#w27" x="2743" y="1755"/><use href="#w28" x="2743" y="1763"/><use href="#w23" x="2750" y="1771"/><use href="#w19" x="2743" y="1779"/><use href="#w32" x="2761" y="1739"/><use href="#w37" x="2746" y="1747"/><use href="#w38" x="2756" y="1755"/><use href="#w39" x="2758" y="1763"/><use href="#w23" x="2758" y="1771"/><use href="#w31" x="2751" y="1779"/><use href="#w45" x="2767" y="1739"/><use href="#w97" x="2762" y="1747"/><use href="#w27" x="2760" y="1755"/><use href="#w28" x="2760" y="1763"/><use href="#w23" x="2767" y="1771"/><use href="#w53" x="2760" y="1779"/><use href="#w32" x="2778" y="1739"/><use href="#w41" x="2765" y="1747"/><use href="#w27" x="2768" y="1755"/><use href="#w28" x="2768" y="1763"/><use href="#w23" x="2775" y="1771"/><use href="#w53" x="2768" y="1779"/><use href="#w32" x="2787" y="1739"/><use href="#w80" x="2779" y="1747"/><use href="#w27" x="2777" y="1755"/><use href="#w28" x="2777" y="1763"/><use href="#w23" x="2784" y="1771"/><use href="#w40" x="2779" y="1779"/><use href="#w91" x="2795" y="1739"/><use href="#w67" x="2782" y="1747"/><use href="#w30" x="2787" y="1755"/><use href="#w27" x="2785" y="1763"/><use href="#w28" x="2785" y="1771"/><use href="#w23" x="2792" y="1779"/><use href="#w53" x="2785" y="1787"/><use href="#w42" x="2804" y="1739"/><use href="#w56" x="2799" y="1747"/><use href="#w57" x="2799" y="1755"/><use href="#w58" x="2801" y="1763"/><use href="#w59" x="2804" y="1771"/><use href="#w31" x="2794" y="1779"/><use href="#w64" x="2812" y="1739"/><use href="#w46" x="2807" y="1747"/><use href="#w47" x="2794" y="1755"/><use href="#w26" x="2809" y="1763"/><use href="#w53" x="2802" y="1771"/><use href="#w15" x="2821" y="1739"/><use href="#w94" x="2816" y="1747"/><use href="#w27" x="2811" y="1755"/><use href="#w28" x="2811" y="1763"/><use href="#w23" x="2818" y="1771"/><use href="#w53" x="2811" y="1779"/><use href="#w32" x="2829" y="1739"/><use href="#w80" x="2821" y="1747"/><use href="#w27" x="2819" y="1755"/><use href="#w28" x="2819" y="1763"/><use href="#w23" x="2826" y="1771"/><use href="#w48" x="2819" y="1779"/><use href="#w50" x="2835" y="1739"/><use href="#w95" x="2835" y="1747"/><use href="#w27" x="2828" y="1755"/><use href="#w96" x="2825" y="1763"/><use href="#w23" x="2835" y="1771"/><use href="#w36" x="2828" y="1779"/><use href="#w15" x="2847" y="1739"/><use href="#w67" x="2834" y="1747"/><use href="#w30" x="2839" y="1755"/><use href="#w28" x="2837" y="1763"/><use href="#w23" x="2844" y="1771"/><use href="#w62" x="2837" y="1779"/><use href="#w50" x="2852" y="1739"/><use href="#w37" x="2840" y="1747"/><use href="#w38" x="2850" y="1755"/><use href="#w39" x="2852" y="1763"/><use href="#w23" x="2852" y="1771"/><use href="#w53" x="2845" y="1779"/><use href="#w45" x="2861" y="1739"/><use href="#w89" x="2856" y="1747"/><use href="#w90" x="2854" y="1755"/><use href="#w26" x="2861" y="1763"/><use href="#w19" x="2854" y="1771"/><use href="#w15" x="2872" y="1739"/><use href="#w71" x="2857" y="1747"/><use href="#w72" x="2849" y="1755"/><use href="#w23" x="2869" y="1763"/><use href="#w40" x="2864" y="1771"/><use href="#w15" x="2881" y="1739"/><use href="#w21" x="2878" y="1747"/><use href="#w22" x="2866" y="1755"/><use href="#w23" x="2878" y="1763"/><use href="#w62" x="2871" y="1771"/><use href="#w55" x="2889" y="1739"/><use href="#w67" x="2876" y="1747"/><use href="#w30" x="2881" y="1755"/><use href="#w28" x="2879" y="1763"/><use href="#w23" x="2886" y="1771"/><use href="#w40" x="2881" y="1779"/><use href="#w15" x="2898" y="1739"/><use href="#w83" x="2893" y="1747"/><use href="#w47" x="2880" y="1755"/><use href="#w26" x="2895" y="1763"/><use href="#w40" x="2890" y="1771"/><use href="#w32" x="2906" y="1739"/><use href="#w73" x="2901" y="1747"/><use href="#w47" x="2888" y="1755"/><use href="#w26" x="2903" y="1763"/><use href="#w31" x="2896" y="1771"/><use href="#w64" x="2915" y="1739"/><use href="#w37" x="2900" y="1747"/><use href="#w38" x="2910" y="1755"/><use href="#w39" x="2912" y="1763"/><use href="#w23" x="2912" y="1771"/><use href="#w53" x="2905" y="1779"/><use href="#w20" x="2924" y="1739"/><use href="#w56" x="2919" y="1747"/><use href="#w57" x="2919" y="1755"/><use href="#w58" x="2921" y="1763"/><use href="#w59" x="2924" y="1771"/><use href="#w48" x="2914" y="1779"/><use href="#w42" x="2932" y="1739"/><use href="#w95" x="2929" y="1747"/><use href="#w27" x="2922" y="1755"/><use href="#w96" x="2919" y="1763"/><use href="#w23" x="2929" y="1771"/><use href="#w40" x="2924" y="1779"/><use href="#w55" x="2941" y="1739"/><use href="#w97" x="2933" y="1747"/><use href="#w27" x="2931" y="1755"/><use href="#w28" x="2931" y="1763"/><use href="#w23" x="2938" y="1771"/><use href="#w62" x="2931" y="1779"/><use href="#w32" x="2949" y="1739"/><use href="#w85" x="2931" y="1747"/><use href="#w86" x="2939" y="1755"/><use href="#w23" x="2946" y="1763"/><use href="#w31" x="2939" y="1771"/><use href="#w42" x="2958" y="1739"/><use href="#w37" x="2943" y="1747"/><use href="#w38" x="2953" y="1755"/><use href="#w39" x="2955" y="1763"/><use href="#w23" x="2955" y="1771"/><use href="#w19" x="2948" y="1779"/><use href="#w45" x="2963" y="1739"/><use href="#w27" x="2956" y="1747"/><use href="#w68" x="2956" y="1755"/><use href="#w23" x="2963" y="1763"/><use href="#w48" x="2956" y="1771"/><use href="#w50" x="2972" y="1739"/><use href="#w21" x="2972" y="1747"/><use href="#w99" x="2965" y="1755"/><use href="#w100" x="2950" y="1763"/><use href="#w18" x="2972" y="1771"/><use href="#w62" x="2965" y="1779"/><use href="#w50" x="2980" y="1739"/><use href="#w41" x="2970" y="1747"/><use href="#w27" x="2973" y="1755"/><use href="#w28" x="2973" y="1763"/><use href="#w23" x="2980" y="1771"/><use href="#w36" x="2973" y="1779"/><use href="#w32" x="2992" y="1739"/><use href="#w94" x="2987" y="1747"/><use href="#w27" x="2982" y="1755"/><use href="#w28" x="2982" y="1763"/><use href="#w23" x="2989" y="1771"/><use href="#w48" x="2982" y="1779"/><use href="#w15" x="3000" y="1739"/><use href="#w21" x="2997" y="1747"/><use href="#w99" x="2990" y="1755"/><use href="#w100" x="2975" y="1763"/><use href="#w18" x="2997" y="1771"/><use href="#w53" x="2990" y="1779"/><use href="#w42" x="3009" y="1739"/><use href="#w67" x="2996" y="1747"/><use href="#w30" x="3001" y="1755"/><use href="#w28" x="2999" y="1763"/><use href="#w23" x="3006" y="1771"/><use href="#w19" x="2999" y="1779"/><use href="#w32" x="3018" y="1739"/><use href="#w83" x="3013" y="1747"/><use href="#w47" x="3000" y="1755"/><use href="#w26" x="3015" y="1763"/><use href="#w62" x="3008" y="1771"/><use href="#w45" x="3023" y="1739"/><use href="#w21" x="3023" y="1747"/><use href="#w60" x="3008" y="1755"/><use href="#w18" x="3023" y="1763"/><use href="#w36" x="3016" y="1771"/><use href="#w91" x="3035" y="1739"/><use href="#w44" x="3030" y="1747"/><use href="#w27" x="3025" y="1755"/><use href="#w28" x="3025" y="1763"/><use href="#w23" x="3032" y="1771"/><use href="#w40" x="3027" y="1779"/><use href="#w32" x="3043" y="1739"/><use href="#w41" x="3030" y="1747"/><use href="#w27" x="3033" y="1755"/><use href="#w28" x="3033" y="1763"/><use href="#w23" x="3040" y="1771"/><use href="#w53" x="3033" y="1779"/><use href="#w50" x="3049" y="1739"/><use href="#w95" x="3049" y="1747"/><use href="#w27" x="3042" y="1755"/><use href="#w96" x="3039" y="1763"/><use href="#w23" x="3049" y="1771"/><use href="#w40" x="3044" y="1779"/><use href="#w64" x="3060" y="1739"/><use href="#w97" x="3052" y="1747"/><use href="#w27" x="3050" y="1755"/><use href="#w28" x="3050" y="1763"/><use href="#w23" x="3057" y="1771"/><use href="#w19" x="3050" y="1779"/><use href="#w91" x="3069" y="1739"/><use href="#w56" x="3064" y="1747"/><use href="#w57" x="3064" y="1755"/><use href="#w58" x="3066" y="1763"/><use href="#w59" x="3069" y="1771"/><use href="#w62" x="3059" y="1779"/><use href="#w32" x="3077" y="1739"/><use href="#w94" x="3072" y="1747"/><use href="#w27" x="3067" y="1755"/><use href="#w28" x="3067" y="1763"/><use href="#w23" x="3074" y="1771"/><use href="#w48" x="3067" y="1779"/><use href="#w42" x="3086" y="1739"/><use href="#w98" x="3078" y="1747"/><use href="#w27" x="3076" y="1755"/><use href="#w28" x="3076" y="1763"/><use href="#w23" x="3083" y="1771"/><use href="#w48" x="3076" y="1779"/><use href="#w15" x="3095" y="1739"/><use href="#w56" x="3090" y="1747"/><use href="#w57" x="3090" y="1755"/><use href="#w58" x="3092" y="1763"/><use href="#w59" x="3095" y="1771"/><use href="#w31" x="3085" y="1779"/><use href="#w64" x="3103" y="1739"/><use href="#w95" x="3100" y="1747"/><use href="#w27" x="3093" y="1755"/><use href="#w96" x="3090" y="1763"/><use href="#w23" x="3100" y="1771"/><use href="#w31" x="3093" y="1779"/><use href="#w42" x="3112" y="1739"/><use href="#w89" x="3104" y="1747"/><use href="#w90" x="3102" y="1755"/><use href="#w26" x="3109" y="1763"/><use href="#w53" x="3102" y="1771"/><use href="#w15" x="3120" y="1739"/><use href="#w89" x="3112" y="1747"/><use href="#w90" x="3110" y="1755"/><use href="#w26" x="3117" y="1763"/><use href="#w40" x="3112" y="1771"/><use href="#w42" x="3129" y="1739"/><use href="#w89" x="3121" y="1747"/><use href="#w90" x="3119" y="1755"/><use href="#w26" x="3126" y="1763"/><use href="#w62" x="3119" y="1771"/><use href="#w91" x="3137" y="1739"/><use href="#w89" x="3129" y="1747"/><use href="#w90" x="3127" y="1755"/><use href="#w26" x="3134" y="1763"/><use href="#w31" x="3127" y="1771"/><use href="#w50" x="3143" y="1739"/><use href="#w89" x="3138" y="1747"/><use href="#w90" x="3136" y="1755"/><use href="#w26" x="3143" y="1763"/><use href="#w48" x="3136" y="1771"/><use href="#w45" x="3151" y="1739"/><use href="#w89" x="3146" y="1747"/><use href="#w90" x="3144" y="1755"/><use href="#w26" x="3151" y="1763"/><use href="#w48" x="3144" y="1771"/><use href="#w50" x="3160" y="1739"/><use href="#w89" x="3155" y="1747"/><use href="#w90" x="3153" y="1755"/><use href="#w26" x="3160" y="1763"/><use href="#w40" x="3155" y="1771"/><use href="#w55" x="3171" y="1739"/><use href="#w89" x="3163" y="1747"/><use href="#w90" x="3161" y="1755"/><use href="#w26" x="3168" y="1763"/><use href="#w19" x="3161" y="1771"/></g>
</svg></body></html>
